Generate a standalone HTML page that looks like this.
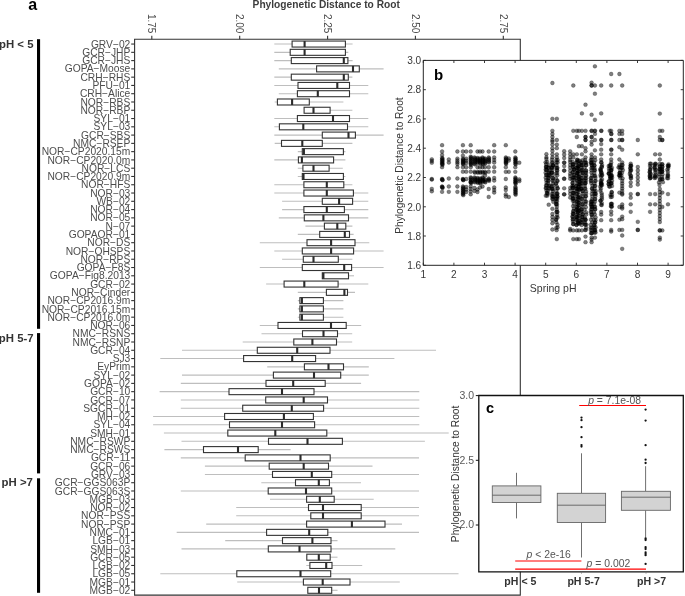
<!DOCTYPE html>
<html><head><meta charset="utf-8"><style>
html,body{margin:0;padding:0;background:#fff;}
body{width:685px;height:596px;overflow:hidden;position:relative;}
svg{position:absolute;left:0;top:0;display:block;will-change:transform;}
text{font-family:"Liberation Sans",sans-serif;}
</style></head><body>
<svg width="685" height="596" viewBox="0 0 685 596">
<g id="pa">
<text x="252.6" y="8" font-weight="bold" font-size="10.1" fill="#3d3d3d" textLength="147.3" lengthAdjust="spacingAndGlyphs">Phylogenetic Distance to Root</text>
<text x="28.2" y="10.2" font-weight="bold" font-size="16" fill="#000">a</text>
<line x1="274.3" y1="44.05" x2="352.6" y2="44.05" stroke="#bebebe" stroke-width="1.1"/>
<line x1="274.3" y1="52.33" x2="348.3" y2="52.33" stroke="#bebebe" stroke-width="1.1"/>
<line x1="274.3" y1="60.60" x2="352.6" y2="60.60" stroke="#bebebe" stroke-width="1.1"/>
<line x1="278.8" y1="68.88" x2="383.6" y2="68.88" stroke="#bebebe" stroke-width="1.1"/>
<line x1="274.3" y1="77.16" x2="352.4" y2="77.16" stroke="#bebebe" stroke-width="1.1"/>
<line x1="274.3" y1="85.43" x2="368.3" y2="85.43" stroke="#bebebe" stroke-width="1.1"/>
<line x1="278.8" y1="93.71" x2="368.3" y2="93.71" stroke="#bebebe" stroke-width="1.1"/>
<line x1="274.7" y1="101.99" x2="343.4" y2="101.99" stroke="#bebebe" stroke-width="1.1"/>
<line x1="304.1" y1="110.26" x2="352.4" y2="110.26" stroke="#bebebe" stroke-width="1.1"/>
<line x1="274.3" y1="118.54" x2="368.3" y2="118.54" stroke="#bebebe" stroke-width="1.1"/>
<line x1="274.3" y1="126.82" x2="368.3" y2="126.82" stroke="#bebebe" stroke-width="1.1"/>
<line x1="274.3" y1="135.09" x2="383.6" y2="135.09" stroke="#bebebe" stroke-width="1.1"/>
<line x1="274.7" y1="143.37" x2="352.4" y2="143.37" stroke="#bebebe" stroke-width="1.1"/>
<line x1="297.8" y1="151.64" x2="345.4" y2="151.64" stroke="#bebebe" stroke-width="1.1"/>
<line x1="274.3" y1="159.92" x2="345.4" y2="159.92" stroke="#bebebe" stroke-width="1.1"/>
<line x1="297.8" y1="168.20" x2="342.8" y2="168.20" stroke="#bebebe" stroke-width="1.1"/>
<line x1="297.8" y1="176.47" x2="345.4" y2="176.47" stroke="#bebebe" stroke-width="1.1"/>
<line x1="274.3" y1="184.75" x2="352.4" y2="184.75" stroke="#bebebe" stroke-width="1.1"/>
<line x1="274.3" y1="193.03" x2="368.3" y2="193.03" stroke="#bebebe" stroke-width="1.1"/>
<line x1="282.1" y1="201.30" x2="368.3" y2="201.30" stroke="#bebebe" stroke-width="1.1"/>
<line x1="282.1" y1="209.58" x2="368.3" y2="209.58" stroke="#bebebe" stroke-width="1.1"/>
<line x1="278.8" y1="217.86" x2="368.3" y2="217.86" stroke="#bebebe" stroke-width="1.1"/>
<line x1="305.4" y1="226.13" x2="352.4" y2="226.13" stroke="#bebebe" stroke-width="1.1"/>
<line x1="297.8" y1="234.41" x2="353.6" y2="234.41" stroke="#bebebe" stroke-width="1.1"/>
<line x1="259.8" y1="242.69" x2="369.3" y2="242.69" stroke="#bebebe" stroke-width="1.1"/>
<line x1="274.3" y1="250.96" x2="383.6" y2="250.96" stroke="#bebebe" stroke-width="1.1"/>
<line x1="282.1" y1="259.24" x2="352.4" y2="259.24" stroke="#bebebe" stroke-width="1.1"/>
<line x1="259.8" y1="267.52" x2="383.6" y2="267.52" stroke="#bebebe" stroke-width="1.1"/>
<line x1="322.3" y1="275.79" x2="354.0" y2="275.79" stroke="#bebebe" stroke-width="1.1"/>
<line x1="266.1" y1="284.07" x2="368.3" y2="284.07" stroke="#bebebe" stroke-width="1.1"/>
<line x1="297.8" y1="292.35" x2="355.0" y2="292.35" stroke="#bebebe" stroke-width="1.1"/>
<line x1="297.8" y1="300.62" x2="343.4" y2="300.62" stroke="#bebebe" stroke-width="1.1"/>
<line x1="297.8" y1="308.90" x2="343.4" y2="308.90" stroke="#bebebe" stroke-width="1.1"/>
<line x1="297.8" y1="317.18" x2="343.4" y2="317.18" stroke="#bebebe" stroke-width="1.1"/>
<line x1="259.8" y1="325.45" x2="361.2" y2="325.45" stroke="#bebebe" stroke-width="1.1"/>
<line x1="261.5" y1="333.73" x2="352.2" y2="333.73" stroke="#bebebe" stroke-width="1.1"/>
<line x1="242.7" y1="342.00" x2="352.2" y2="342.00" stroke="#bebebe" stroke-width="1.1"/>
<line x1="182.0" y1="350.28" x2="436.0" y2="350.28" stroke="#bebebe" stroke-width="1.1"/>
<line x1="160.3" y1="358.56" x2="394.4" y2="358.56" stroke="#bebebe" stroke-width="1.1"/>
<line x1="267.2" y1="366.83" x2="368.8" y2="366.83" stroke="#bebebe" stroke-width="1.1"/>
<line x1="182.0" y1="375.11" x2="368.8" y2="375.11" stroke="#bebebe" stroke-width="1.1"/>
<line x1="180.8" y1="383.39" x2="361.1" y2="383.39" stroke="#bebebe" stroke-width="1.1"/>
<line x1="159.6" y1="391.66" x2="419.3" y2="391.66" stroke="#bebebe" stroke-width="1.1"/>
<line x1="180.8" y1="399.94" x2="419.3" y2="399.94" stroke="#bebebe" stroke-width="1.1"/>
<line x1="180.8" y1="408.22" x2="419.3" y2="408.22" stroke="#bebebe" stroke-width="1.1"/>
<line x1="153.1" y1="416.49" x2="419.3" y2="416.49" stroke="#bebebe" stroke-width="1.1"/>
<line x1="153.1" y1="424.77" x2="419.3" y2="424.77" stroke="#bebebe" stroke-width="1.1"/>
<line x1="163.9" y1="433.05" x2="448.7" y2="433.05" stroke="#bebebe" stroke-width="1.1"/>
<line x1="181.5" y1="441.32" x2="424.9" y2="441.32" stroke="#bebebe" stroke-width="1.1"/>
<line x1="164.4" y1="449.60" x2="290.6" y2="449.60" stroke="#bebebe" stroke-width="1.1"/>
<line x1="180.8" y1="457.88" x2="419.0" y2="457.88" stroke="#bebebe" stroke-width="1.1"/>
<line x1="204.9" y1="466.15" x2="372.5" y2="466.15" stroke="#bebebe" stroke-width="1.1"/>
<line x1="204.9" y1="474.43" x2="419.0" y2="474.43" stroke="#bebebe" stroke-width="1.1"/>
<line x1="261.3" y1="482.71" x2="361.0" y2="482.71" stroke="#bebebe" stroke-width="1.1"/>
<line x1="180.8" y1="490.98" x2="419.0" y2="490.98" stroke="#bebebe" stroke-width="1.1"/>
<line x1="270.0" y1="499.26" x2="373.7" y2="499.26" stroke="#bebebe" stroke-width="1.1"/>
<line x1="236.2" y1="507.53" x2="419.0" y2="507.53" stroke="#bebebe" stroke-width="1.1"/>
<line x1="236.2" y1="515.81" x2="419.0" y2="515.81" stroke="#bebebe" stroke-width="1.1"/>
<line x1="206.2" y1="524.09" x2="402.0" y2="524.09" stroke="#bebebe" stroke-width="1.1"/>
<line x1="176.7" y1="532.36" x2="419.0" y2="532.36" stroke="#bebebe" stroke-width="1.1"/>
<line x1="225.2" y1="540.64" x2="337.5" y2="540.64" stroke="#bebebe" stroke-width="1.1"/>
<line x1="181.5" y1="548.92" x2="395.3" y2="548.92" stroke="#bebebe" stroke-width="1.1"/>
<line x1="306.7" y1="557.19" x2="337.5" y2="557.19" stroke="#bebebe" stroke-width="1.1"/>
<line x1="306.3" y1="565.47" x2="362.2" y2="565.47" stroke="#bebebe" stroke-width="1.1"/>
<line x1="160.3" y1="573.75" x2="458.5" y2="573.75" stroke="#bebebe" stroke-width="1.1"/>
<line x1="237.2" y1="582.02" x2="399.8" y2="582.02" stroke="#bebebe" stroke-width="1.1"/>
<line x1="307.6" y1="590.30" x2="337.5" y2="590.30" stroke="#bebebe" stroke-width="1.1"/>
<rect x="292.1" y="41.05" width="53.3" height="6.0" fill="#fff" stroke="#333" stroke-width="1.1"/>
<line x1="304.6" y1="41.05" x2="304.6" y2="47.05" stroke="#2b2b2b" stroke-width="2.1"/>
<rect x="290.2" y="49.33" width="55.2" height="6.0" fill="#fff" stroke="#333" stroke-width="1.1"/>
<line x1="304.6" y1="49.33" x2="304.6" y2="55.33" stroke="#2b2b2b" stroke-width="2.1"/>
<rect x="291.3" y="57.60" width="56.6" height="6.0" fill="#fff" stroke="#333" stroke-width="1.1"/>
<line x1="343.8" y1="57.60" x2="343.8" y2="63.60" stroke="#2b2b2b" stroke-width="2.1"/>
<rect x="316.6" y="65.88" width="42.7" height="6.0" fill="#fff" stroke="#333" stroke-width="1.1"/>
<line x1="353.0" y1="65.88" x2="353.0" y2="71.88" stroke="#2b2b2b" stroke-width="2.1"/>
<rect x="291.3" y="74.16" width="57.0" height="6.0" fill="#fff" stroke="#333" stroke-width="1.1"/>
<line x1="343.8" y1="74.16" x2="343.8" y2="80.16" stroke="#2b2b2b" stroke-width="2.1"/>
<rect x="298.0" y="82.43" width="51.5" height="6.0" fill="#fff" stroke="#333" stroke-width="1.1"/>
<line x1="337.3" y1="82.43" x2="337.3" y2="88.43" stroke="#2b2b2b" stroke-width="2.1"/>
<rect x="297.4" y="90.71" width="52.1" height="6.0" fill="#fff" stroke="#333" stroke-width="1.1"/>
<line x1="317.8" y1="90.71" x2="317.8" y2="96.71" stroke="#2b2b2b" stroke-width="2.1"/>
<rect x="277.4" y="98.99" width="31.9" height="6.0" fill="#fff" stroke="#333" stroke-width="1.1"/>
<line x1="292.1" y1="98.99" x2="292.1" y2="104.99" stroke="#2b2b2b" stroke-width="2.1"/>
<rect x="304.1" y="107.26" width="26.0" height="6.0" fill="#fff" stroke="#333" stroke-width="1.1"/>
<line x1="313.5" y1="107.26" x2="313.5" y2="113.26" stroke="#2b2b2b" stroke-width="2.1"/>
<rect x="297.4" y="115.54" width="52.1" height="6.0" fill="#fff" stroke="#333" stroke-width="1.1"/>
<line x1="333.0" y1="115.54" x2="333.0" y2="121.54" stroke="#2b2b2b" stroke-width="2.1"/>
<rect x="279.4" y="123.82" width="68.1" height="6.0" fill="#fff" stroke="#333" stroke-width="1.1"/>
<line x1="303.3" y1="123.82" x2="303.3" y2="129.82" stroke="#2b2b2b" stroke-width="2.1"/>
<rect x="322.3" y="132.09" width="33.1" height="6.0" fill="#fff" stroke="#333" stroke-width="1.1"/>
<line x1="348.5" y1="132.09" x2="348.5" y2="138.09" stroke="#2b2b2b" stroke-width="2.1"/>
<rect x="281.5" y="140.37" width="40.8" height="6.0" fill="#fff" stroke="#333" stroke-width="1.1"/>
<line x1="302.3" y1="140.37" x2="302.3" y2="146.37" stroke="#2b2b2b" stroke-width="2.1"/>
<rect x="302.3" y="148.64" width="41.1" height="6.0" fill="#fff" stroke="#333" stroke-width="1.1"/>
<line x1="303.9" y1="148.64" x2="303.9" y2="154.64" stroke="#2b2b2b" stroke-width="2.1"/>
<rect x="298.4" y="156.92" width="35.2" height="6.0" fill="#fff" stroke="#333" stroke-width="1.1"/>
<line x1="301.9" y1="156.92" x2="301.9" y2="162.92" stroke="#2b2b2b" stroke-width="2.1"/>
<rect x="302.9" y="165.20" width="26.2" height="6.0" fill="#fff" stroke="#333" stroke-width="1.1"/>
<line x1="313.5" y1="165.20" x2="313.5" y2="171.20" stroke="#2b2b2b" stroke-width="2.1"/>
<rect x="302.3" y="173.47" width="41.1" height="6.0" fill="#fff" stroke="#333" stroke-width="1.1"/>
<line x1="303.5" y1="173.47" x2="303.5" y2="179.47" stroke="#2b2b2b" stroke-width="2.1"/>
<rect x="303.9" y="181.75" width="39.9" height="6.0" fill="#fff" stroke="#333" stroke-width="1.1"/>
<line x1="326.8" y1="181.75" x2="326.8" y2="187.75" stroke="#2b2b2b" stroke-width="2.1"/>
<rect x="303.9" y="190.03" width="49.5" height="6.0" fill="#fff" stroke="#333" stroke-width="1.1"/>
<line x1="326.8" y1="190.03" x2="326.8" y2="196.03" stroke="#2b2b2b" stroke-width="2.1"/>
<rect x="322.3" y="198.30" width="30.3" height="6.0" fill="#fff" stroke="#333" stroke-width="1.1"/>
<line x1="339.1" y1="198.30" x2="339.1" y2="204.30" stroke="#2b2b2b" stroke-width="2.1"/>
<rect x="303.9" y="206.58" width="40.5" height="6.0" fill="#fff" stroke="#333" stroke-width="1.1"/>
<line x1="326.8" y1="206.58" x2="326.8" y2="212.58" stroke="#2b2b2b" stroke-width="2.1"/>
<rect x="304.3" y="214.86" width="44.2" height="6.0" fill="#fff" stroke="#333" stroke-width="1.1"/>
<line x1="323.4" y1="214.86" x2="323.4" y2="220.86" stroke="#2b2b2b" stroke-width="2.1"/>
<rect x="324.4" y="223.13" width="21.4" height="6.0" fill="#fff" stroke="#333" stroke-width="1.1"/>
<line x1="337.3" y1="223.13" x2="337.3" y2="229.13" stroke="#2b2b2b" stroke-width="2.1"/>
<rect x="319.7" y="231.41" width="29.8" height="6.0" fill="#fff" stroke="#333" stroke-width="1.1"/>
<line x1="344.8" y1="231.41" x2="344.8" y2="237.41" stroke="#2b2b2b" stroke-width="2.1"/>
<rect x="307.0" y="239.69" width="48.0" height="6.0" fill="#fff" stroke="#333" stroke-width="1.1"/>
<line x1="331.1" y1="239.69" x2="331.1" y2="245.69" stroke="#2b2b2b" stroke-width="2.1"/>
<rect x="302.3" y="247.96" width="51.3" height="6.0" fill="#fff" stroke="#333" stroke-width="1.1"/>
<line x1="331.1" y1="247.96" x2="331.1" y2="253.96" stroke="#2b2b2b" stroke-width="2.1"/>
<rect x="303.3" y="256.24" width="35.0" height="6.0" fill="#fff" stroke="#333" stroke-width="1.1"/>
<line x1="313.5" y1="256.24" x2="313.5" y2="262.24" stroke="#2b2b2b" stroke-width="2.1"/>
<rect x="302.3" y="264.52" width="49.3" height="6.0" fill="#fff" stroke="#333" stroke-width="1.1"/>
<line x1="344.2" y1="264.52" x2="344.2" y2="270.52" stroke="#2b2b2b" stroke-width="2.1"/>
<rect x="322.3" y="272.79" width="26.2" height="6.0" fill="#fff" stroke="#333" stroke-width="1.1"/>
<line x1="323.4" y1="272.79" x2="323.4" y2="278.79" stroke="#2b2b2b" stroke-width="2.1"/>
<rect x="284.1" y="281.07" width="54.0" height="6.0" fill="#fff" stroke="#333" stroke-width="1.1"/>
<line x1="304.3" y1="281.07" x2="304.3" y2="287.07" stroke="#2b2b2b" stroke-width="2.1"/>
<rect x="326.4" y="289.35" width="21.1" height="6.0" fill="#fff" stroke="#333" stroke-width="1.1"/>
<line x1="344.4" y1="289.35" x2="344.4" y2="295.35" stroke="#2b2b2b" stroke-width="2.1"/>
<rect x="299.9" y="297.62" width="23.5" height="6.0" fill="#fff" stroke="#333" stroke-width="1.1"/>
<line x1="301.9" y1="297.62" x2="301.9" y2="303.62" stroke="#2b2b2b" stroke-width="2.1"/>
<rect x="299.9" y="305.90" width="23.5" height="6.0" fill="#fff" stroke="#333" stroke-width="1.1"/>
<line x1="301.9" y1="305.90" x2="301.9" y2="311.90" stroke="#2b2b2b" stroke-width="2.1"/>
<rect x="299.9" y="314.18" width="23.5" height="6.0" fill="#fff" stroke="#333" stroke-width="1.1"/>
<line x1="301.9" y1="314.18" x2="301.9" y2="320.18" stroke="#2b2b2b" stroke-width="2.1"/>
<rect x="278.0" y="322.45" width="68.2" height="6.0" fill="#fff" stroke="#333" stroke-width="1.1"/>
<line x1="331.0" y1="322.45" x2="331.0" y2="328.45" stroke="#2b2b2b" stroke-width="2.1"/>
<rect x="302.5" y="330.73" width="35.0" height="6.0" fill="#fff" stroke="#333" stroke-width="1.1"/>
<line x1="323.5" y1="330.73" x2="323.5" y2="336.73" stroke="#2b2b2b" stroke-width="2.1"/>
<rect x="293.8" y="339.00" width="42.7" height="6.0" fill="#fff" stroke="#333" stroke-width="1.1"/>
<line x1="312.4" y1="339.00" x2="312.4" y2="345.00" stroke="#2b2b2b" stroke-width="2.1"/>
<rect x="257.3" y="347.28" width="72.7" height="6.0" fill="#fff" stroke="#333" stroke-width="1.1"/>
<line x1="297.2" y1="347.28" x2="297.2" y2="353.28" stroke="#2b2b2b" stroke-width="2.1"/>
<rect x="243.6" y="355.56" width="72.0" height="6.0" fill="#fff" stroke="#333" stroke-width="1.1"/>
<line x1="292.2" y1="355.56" x2="292.2" y2="361.56" stroke="#2b2b2b" stroke-width="2.1"/>
<rect x="304.4" y="363.83" width="39.1" height="6.0" fill="#fff" stroke="#333" stroke-width="1.1"/>
<line x1="328.5" y1="363.83" x2="328.5" y2="369.83" stroke="#2b2b2b" stroke-width="2.1"/>
<rect x="273.4" y="372.11" width="67.3" height="6.0" fill="#fff" stroke="#333" stroke-width="1.1"/>
<line x1="314.0" y1="372.11" x2="314.0" y2="378.11" stroke="#2b2b2b" stroke-width="2.1"/>
<rect x="266.0" y="380.39" width="59.2" height="6.0" fill="#fff" stroke="#333" stroke-width="1.1"/>
<line x1="293.2" y1="380.39" x2="293.2" y2="386.39" stroke="#2b2b2b" stroke-width="2.1"/>
<rect x="229.0" y="388.66" width="85.0" height="6.0" fill="#fff" stroke="#333" stroke-width="1.1"/>
<line x1="282.0" y1="388.66" x2="282.0" y2="394.66" stroke="#2b2b2b" stroke-width="2.1"/>
<rect x="265.7" y="396.94" width="61.8" height="6.0" fill="#fff" stroke="#333" stroke-width="1.1"/>
<line x1="303.7" y1="396.94" x2="303.7" y2="402.94" stroke="#2b2b2b" stroke-width="2.1"/>
<rect x="242.7" y="405.22" width="80.9" height="6.0" fill="#fff" stroke="#333" stroke-width="1.1"/>
<line x1="291.8" y1="405.22" x2="291.8" y2="411.22" stroke="#2b2b2b" stroke-width="2.1"/>
<rect x="224.6" y="413.49" width="88.8" height="6.0" fill="#fff" stroke="#333" stroke-width="1.1"/>
<line x1="283.9" y1="413.49" x2="283.9" y2="419.49" stroke="#2b2b2b" stroke-width="2.1"/>
<rect x="229.5" y="421.77" width="85.1" height="6.0" fill="#fff" stroke="#333" stroke-width="1.1"/>
<line x1="282.0" y1="421.77" x2="282.0" y2="427.77" stroke="#2b2b2b" stroke-width="2.1"/>
<rect x="227.8" y="430.05" width="99.0" height="6.0" fill="#fff" stroke="#333" stroke-width="1.1"/>
<line x1="275.3" y1="430.05" x2="275.3" y2="436.05" stroke="#2b2b2b" stroke-width="2.1"/>
<rect x="268.5" y="438.32" width="73.9" height="6.0" fill="#fff" stroke="#333" stroke-width="1.1"/>
<line x1="307.5" y1="438.32" x2="307.5" y2="444.32" stroke="#2b2b2b" stroke-width="2.1"/>
<rect x="203.5" y="446.60" width="54.7" height="6.0" fill="#fff" stroke="#333" stroke-width="1.1"/>
<line x1="238.0" y1="446.60" x2="238.0" y2="452.60" stroke="#2b2b2b" stroke-width="2.1"/>
<rect x="245.2" y="454.88" width="85.0" height="6.0" fill="#fff" stroke="#333" stroke-width="1.1"/>
<line x1="300.5" y1="454.88" x2="300.5" y2="460.88" stroke="#2b2b2b" stroke-width="2.1"/>
<rect x="269.2" y="463.15" width="59.3" height="6.0" fill="#fff" stroke="#333" stroke-width="1.1"/>
<line x1="303.7" y1="463.15" x2="303.7" y2="469.15" stroke="#2b2b2b" stroke-width="2.1"/>
<rect x="272.5" y="471.43" width="59.2" height="6.0" fill="#fff" stroke="#333" stroke-width="1.1"/>
<line x1="311.8" y1="471.43" x2="311.8" y2="477.43" stroke="#2b2b2b" stroke-width="2.1"/>
<rect x="295.5" y="479.71" width="33.9" height="6.0" fill="#fff" stroke="#333" stroke-width="1.1"/>
<line x1="318.8" y1="479.71" x2="318.8" y2="485.71" stroke="#2b2b2b" stroke-width="2.1"/>
<rect x="268.2" y="487.98" width="63.5" height="6.0" fill="#fff" stroke="#333" stroke-width="1.1"/>
<line x1="306.0" y1="487.98" x2="306.0" y2="493.98" stroke="#2b2b2b" stroke-width="2.1"/>
<rect x="306.6" y="496.26" width="27.6" height="6.0" fill="#fff" stroke="#333" stroke-width="1.1"/>
<line x1="319.8" y1="496.26" x2="319.8" y2="502.26" stroke="#2b2b2b" stroke-width="2.1"/>
<rect x="308.5" y="504.53" width="52.7" height="6.0" fill="#fff" stroke="#333" stroke-width="1.1"/>
<line x1="323.0" y1="504.53" x2="323.0" y2="510.53" stroke="#2b2b2b" stroke-width="2.1"/>
<rect x="310.8" y="512.81" width="50.4" height="6.0" fill="#fff" stroke="#333" stroke-width="1.1"/>
<line x1="323.0" y1="512.81" x2="323.0" y2="518.81" stroke="#2b2b2b" stroke-width="2.1"/>
<rect x="306.6" y="521.09" width="78.4" height="6.0" fill="#fff" stroke="#333" stroke-width="1.1"/>
<line x1="351.9" y1="521.09" x2="351.9" y2="527.09" stroke="#2b2b2b" stroke-width="2.1"/>
<rect x="266.6" y="529.36" width="61.2" height="6.0" fill="#fff" stroke="#333" stroke-width="1.1"/>
<line x1="309.2" y1="529.36" x2="309.2" y2="535.36" stroke="#2b2b2b" stroke-width="2.1"/>
<rect x="282.5" y="537.64" width="48.5" height="6.0" fill="#fff" stroke="#333" stroke-width="1.1"/>
<line x1="312.4" y1="537.64" x2="312.4" y2="543.64" stroke="#2b2b2b" stroke-width="2.1"/>
<rect x="268.3" y="545.92" width="62.7" height="6.0" fill="#fff" stroke="#333" stroke-width="1.1"/>
<line x1="299.5" y1="545.92" x2="299.5" y2="551.92" stroke="#2b2b2b" stroke-width="2.1"/>
<rect x="306.8" y="554.19" width="23.4" height="6.0" fill="#fff" stroke="#333" stroke-width="1.1"/>
<line x1="318.8" y1="554.19" x2="318.8" y2="560.19" stroke="#2b2b2b" stroke-width="2.1"/>
<rect x="309.9" y="562.47" width="22.1" height="6.0" fill="#fff" stroke="#333" stroke-width="1.1"/>
<line x1="326.2" y1="562.47" x2="326.2" y2="568.47" stroke="#2b2b2b" stroke-width="2.1"/>
<rect x="236.8" y="570.75" width="93.9" height="6.0" fill="#fff" stroke="#333" stroke-width="1.1"/>
<line x1="300.5" y1="570.75" x2="300.5" y2="576.75" stroke="#2b2b2b" stroke-width="2.1"/>
<rect x="303.4" y="579.02" width="46.6" height="6.0" fill="#fff" stroke="#333" stroke-width="1.1"/>
<line x1="322.7" y1="579.02" x2="322.7" y2="585.02" stroke="#2b2b2b" stroke-width="2.1"/>
<rect x="307.8" y="587.30" width="23.9" height="6.0" fill="#fff" stroke="#333" stroke-width="1.1"/>
<line x1="319.0" y1="587.30" x2="319.0" y2="593.30" stroke="#2b2b2b" stroke-width="2.1"/>
<rect x="134.6" y="39.2" width="385.6" height="355.3" fill="none"/>
<path d="M134.6 39.2 H520.3 V595.1 H134.6 Z" fill="none" stroke="#333" stroke-width="1.1"/>
<line x1="131.2" y1="44.05" x2="134.6" y2="44.05" stroke="#333" stroke-width="1.1"/>
<text x="130.3" y="47.65" font-size="10.25" fill="#4d4d4d" text-anchor="end">GRV−02</text>
<line x1="131.2" y1="52.33" x2="134.6" y2="52.33" stroke="#333" stroke-width="1.1"/>
<text x="130.3" y="55.93" font-size="10.25" fill="#4d4d4d" text-anchor="end">GCR−JHP</text>
<line x1="131.2" y1="60.60" x2="134.6" y2="60.60" stroke="#333" stroke-width="1.1"/>
<text x="130.3" y="64.20" font-size="10.25" fill="#4d4d4d" text-anchor="end">GCR−JHS</text>
<line x1="131.2" y1="68.88" x2="134.6" y2="68.88" stroke="#333" stroke-width="1.1"/>
<text x="130.3" y="72.48" font-size="10.25" fill="#4d4d4d" text-anchor="end">GOPA−Moose</text>
<line x1="131.2" y1="77.16" x2="134.6" y2="77.16" stroke="#333" stroke-width="1.1"/>
<text x="130.3" y="80.76" font-size="10.25" fill="#4d4d4d" text-anchor="end">CRH−RHS</text>
<line x1="131.2" y1="85.43" x2="134.6" y2="85.43" stroke="#333" stroke-width="1.1"/>
<text x="130.3" y="89.03" font-size="10.25" fill="#4d4d4d" text-anchor="end">PFU−01</text>
<line x1="131.2" y1="93.71" x2="134.6" y2="93.71" stroke="#333" stroke-width="1.1"/>
<text x="130.3" y="97.31" font-size="10.25" fill="#4d4d4d" text-anchor="end">CRH−Alice</text>
<line x1="131.2" y1="101.99" x2="134.6" y2="101.99" stroke="#333" stroke-width="1.1"/>
<text x="130.3" y="105.59" font-size="10.25" fill="#4d4d4d" text-anchor="end">NOR−RBS</text>
<line x1="131.2" y1="110.26" x2="134.6" y2="110.26" stroke="#333" stroke-width="1.1"/>
<text x="130.3" y="113.86" font-size="10.25" fill="#4d4d4d" text-anchor="end">NOR−RBP</text>
<line x1="131.2" y1="118.54" x2="134.6" y2="118.54" stroke="#333" stroke-width="1.1"/>
<text x="130.3" y="122.14" font-size="10.25" fill="#4d4d4d" text-anchor="end">SYL−01</text>
<line x1="131.2" y1="126.82" x2="134.6" y2="126.82" stroke="#333" stroke-width="1.1"/>
<text x="130.3" y="130.42" font-size="10.25" fill="#4d4d4d" text-anchor="end">SYL−03</text>
<line x1="131.2" y1="135.09" x2="134.6" y2="135.09" stroke="#333" stroke-width="1.1"/>
<text x="130.3" y="138.69" font-size="10.25" fill="#4d4d4d" text-anchor="end">GCR−SBS</text>
<line x1="131.2" y1="143.37" x2="134.6" y2="143.37" stroke="#333" stroke-width="1.1"/>
<text x="130.3" y="146.97" font-size="10.25" fill="#4d4d4d" text-anchor="end">NMC−RSEP</text>
<line x1="131.2" y1="151.64" x2="134.6" y2="151.64" stroke="#333" stroke-width="1.1"/>
<text x="130.3" y="155.24" font-size="10.25" fill="#4d4d4d" text-anchor="end">NOR−CP2020.15m</text>
<line x1="131.2" y1="159.92" x2="134.6" y2="159.92" stroke="#333" stroke-width="1.1"/>
<text x="130.3" y="163.52" font-size="10.25" fill="#4d4d4d" text-anchor="end">NOR−CP2020.0m</text>
<line x1="131.2" y1="168.20" x2="134.6" y2="168.20" stroke="#333" stroke-width="1.1"/>
<text x="130.3" y="171.80" font-size="10.25" fill="#4d4d4d" text-anchor="end">NOR−LCS</text>
<line x1="131.2" y1="176.47" x2="134.6" y2="176.47" stroke="#333" stroke-width="1.1"/>
<text x="130.3" y="180.07" font-size="10.25" fill="#4d4d4d" text-anchor="end">NOR−CP2020.9m</text>
<line x1="131.2" y1="184.75" x2="134.6" y2="184.75" stroke="#333" stroke-width="1.1"/>
<text x="130.3" y="188.35" font-size="10.25" fill="#4d4d4d" text-anchor="end">NOR−HFS</text>
<line x1="131.2" y1="193.03" x2="134.6" y2="193.03" stroke="#333" stroke-width="1.1"/>
<text x="130.3" y="196.63" font-size="10.25" fill="#4d4d4d" text-anchor="end">NOR−03</text>
<line x1="131.2" y1="201.30" x2="134.6" y2="201.30" stroke="#333" stroke-width="1.1"/>
<text x="130.3" y="204.90" font-size="10.25" fill="#4d4d4d" text-anchor="end">WB−02</text>
<line x1="131.2" y1="209.58" x2="134.6" y2="209.58" stroke="#333" stroke-width="1.1"/>
<text x="130.3" y="213.18" font-size="10.25" fill="#4d4d4d" text-anchor="end">NOR−04</text>
<line x1="131.2" y1="217.86" x2="134.6" y2="217.86" stroke="#333" stroke-width="1.1"/>
<text x="130.3" y="221.46" font-size="10.25" fill="#4d4d4d" text-anchor="end">NOR−05</text>
<line x1="131.2" y1="226.13" x2="134.6" y2="226.13" stroke="#333" stroke-width="1.1"/>
<text x="130.3" y="229.73" font-size="10.25" fill="#4d4d4d" text-anchor="end">N−07</text>
<line x1="131.2" y1="234.41" x2="134.6" y2="234.41" stroke="#333" stroke-width="1.1"/>
<text x="130.3" y="238.01" font-size="10.25" fill="#4d4d4d" text-anchor="end">GOPAOR−01</text>
<line x1="131.2" y1="242.69" x2="134.6" y2="242.69" stroke="#333" stroke-width="1.1"/>
<text x="130.3" y="246.29" font-size="10.25" fill="#4d4d4d" text-anchor="end">NOR−DS</text>
<line x1="131.2" y1="250.96" x2="134.6" y2="250.96" stroke="#333" stroke-width="1.1"/>
<text x="130.3" y="254.56" font-size="10.25" fill="#4d4d4d" text-anchor="end">NOR−OHSPS</text>
<line x1="131.2" y1="259.24" x2="134.6" y2="259.24" stroke="#333" stroke-width="1.1"/>
<text x="130.3" y="262.84" font-size="10.25" fill="#4d4d4d" text-anchor="end">NOR−RPS</text>
<line x1="131.2" y1="267.52" x2="134.6" y2="267.52" stroke="#333" stroke-width="1.1"/>
<text x="130.3" y="271.12" font-size="10.25" fill="#4d4d4d" text-anchor="end">GOPA−F8S</text>
<line x1="131.2" y1="275.79" x2="134.6" y2="275.79" stroke="#333" stroke-width="1.1"/>
<text x="130.3" y="279.39" font-size="10.25" fill="#4d4d4d" text-anchor="end">GOPA−Fig8.2013</text>
<line x1="131.2" y1="284.07" x2="134.6" y2="284.07" stroke="#333" stroke-width="1.1"/>
<text x="130.3" y="287.67" font-size="10.25" fill="#4d4d4d" text-anchor="end">GCR−02</text>
<line x1="131.2" y1="292.35" x2="134.6" y2="292.35" stroke="#333" stroke-width="1.1"/>
<text x="130.3" y="295.95" font-size="10.25" fill="#4d4d4d" text-anchor="end">NOR−Cinder</text>
<line x1="131.2" y1="300.62" x2="134.6" y2="300.62" stroke="#333" stroke-width="1.1"/>
<text x="130.3" y="304.22" font-size="10.25" fill="#4d4d4d" text-anchor="end">NOR−CP2016.9m</text>
<line x1="131.2" y1="308.90" x2="134.6" y2="308.90" stroke="#333" stroke-width="1.1"/>
<text x="130.3" y="312.50" font-size="10.25" fill="#4d4d4d" text-anchor="end">NOR−CP2016.15m</text>
<line x1="131.2" y1="317.18" x2="134.6" y2="317.18" stroke="#333" stroke-width="1.1"/>
<text x="130.3" y="320.78" font-size="10.25" fill="#4d4d4d" text-anchor="end">NOR−CP2016.0m</text>
<line x1="131.2" y1="325.45" x2="134.6" y2="325.45" stroke="#333" stroke-width="1.1"/>
<text x="130.3" y="329.05" font-size="10.25" fill="#4d4d4d" text-anchor="end">NOR−06</text>
<line x1="131.2" y1="333.73" x2="134.6" y2="333.73" stroke="#333" stroke-width="1.1"/>
<text x="130.3" y="337.33" font-size="10.25" fill="#4d4d4d" text-anchor="end">NMC−RSNS</text>
<line x1="131.2" y1="342.00" x2="134.6" y2="342.00" stroke="#333" stroke-width="1.1"/>
<text x="130.3" y="345.60" font-size="10.25" fill="#4d4d4d" text-anchor="end">NMC−RSNP</text>
<line x1="131.2" y1="350.28" x2="134.6" y2="350.28" stroke="#333" stroke-width="1.1"/>
<text x="130.3" y="353.88" font-size="10.25" fill="#4d4d4d" text-anchor="end">GCR−04</text>
<line x1="131.2" y1="358.56" x2="134.6" y2="358.56" stroke="#333" stroke-width="1.1"/>
<text x="130.3" y="362.16" font-size="10.25" fill="#4d4d4d" text-anchor="end">SJ3</text>
<line x1="131.2" y1="366.83" x2="134.6" y2="366.83" stroke="#333" stroke-width="1.1"/>
<text x="130.3" y="370.43" font-size="10.25" fill="#4d4d4d" text-anchor="end">EyPrim</text>
<line x1="131.2" y1="375.11" x2="134.6" y2="375.11" stroke="#333" stroke-width="1.1"/>
<text x="130.3" y="378.71" font-size="10.25" fill="#4d4d4d" text-anchor="end">SYL−02</text>
<line x1="131.2" y1="383.39" x2="134.6" y2="383.39" stroke="#333" stroke-width="1.1"/>
<text x="130.3" y="386.99" font-size="10.25" fill="#4d4d4d" text-anchor="end">GOPA−02</text>
<line x1="131.2" y1="391.66" x2="134.6" y2="391.66" stroke="#333" stroke-width="1.1"/>
<text x="130.3" y="395.26" font-size="10.25" fill="#4d4d4d" text-anchor="end">GCR−10</text>
<line x1="131.2" y1="399.94" x2="134.6" y2="399.94" stroke="#333" stroke-width="1.1"/>
<text x="130.3" y="403.54" font-size="10.25" fill="#4d4d4d" text-anchor="end">GCR−07</text>
<line x1="131.2" y1="408.22" x2="134.6" y2="408.22" stroke="#333" stroke-width="1.1"/>
<text x="130.3" y="411.82" font-size="10.25" fill="#4d4d4d" text-anchor="end">SGCR−01</text>
<line x1="131.2" y1="416.49" x2="134.6" y2="416.49" stroke="#333" stroke-width="1.1"/>
<text x="130.3" y="420.09" font-size="10.25" fill="#4d4d4d" text-anchor="end">MH−02</text>
<line x1="131.2" y1="424.77" x2="134.6" y2="424.77" stroke="#333" stroke-width="1.1"/>
<text x="130.3" y="428.37" font-size="10.25" fill="#4d4d4d" text-anchor="end">SYL−04</text>
<line x1="131.2" y1="433.05" x2="134.6" y2="433.05" stroke="#333" stroke-width="1.1"/>
<text x="130.3" y="436.65" font-size="10.25" fill="#4d4d4d" text-anchor="end">SMH−01</text>
<line x1="131.2" y1="441.32" x2="134.6" y2="441.32" stroke="#333" stroke-width="1.1"/>
<text x="130.3" y="444.92" font-size="10.25" fill="#4d4d4d" text-anchor="end">NMC−RSWP</text>
<line x1="131.2" y1="449.60" x2="134.6" y2="449.60" stroke="#333" stroke-width="1.1"/>
<text x="130.3" y="453.20" font-size="10.25" fill="#4d4d4d" text-anchor="end">NMC−RSWS</text>
<line x1="131.2" y1="457.88" x2="134.6" y2="457.88" stroke="#333" stroke-width="1.1"/>
<text x="130.3" y="461.48" font-size="10.25" fill="#4d4d4d" text-anchor="end">GCR−11</text>
<line x1="131.2" y1="466.15" x2="134.6" y2="466.15" stroke="#333" stroke-width="1.1"/>
<text x="130.3" y="469.75" font-size="10.25" fill="#4d4d4d" text-anchor="end">GCR−06</text>
<line x1="131.2" y1="474.43" x2="134.6" y2="474.43" stroke="#333" stroke-width="1.1"/>
<text x="130.3" y="478.03" font-size="10.25" fill="#4d4d4d" text-anchor="end">GRV−03</text>
<line x1="131.2" y1="482.71" x2="134.6" y2="482.71" stroke="#333" stroke-width="1.1"/>
<text x="130.3" y="486.31" font-size="10.25" fill="#4d4d4d" text-anchor="end">GCR−GGS063P</text>
<line x1="131.2" y1="490.98" x2="134.6" y2="490.98" stroke="#333" stroke-width="1.1"/>
<text x="130.3" y="494.58" font-size="10.25" fill="#4d4d4d" text-anchor="end">GCR−GGS063S</text>
<line x1="131.2" y1="499.26" x2="134.6" y2="499.26" stroke="#333" stroke-width="1.1"/>
<text x="130.3" y="502.86" font-size="10.25" fill="#4d4d4d" text-anchor="end">MGB−03</text>
<line x1="131.2" y1="507.53" x2="134.6" y2="507.53" stroke="#333" stroke-width="1.1"/>
<text x="130.3" y="511.13" font-size="10.25" fill="#4d4d4d" text-anchor="end">NOR−02</text>
<line x1="131.2" y1="515.81" x2="134.6" y2="515.81" stroke="#333" stroke-width="1.1"/>
<text x="130.3" y="519.41" font-size="10.25" fill="#4d4d4d" text-anchor="end">NOR−PSS</text>
<line x1="131.2" y1="524.09" x2="134.6" y2="524.09" stroke="#333" stroke-width="1.1"/>
<text x="130.3" y="527.69" font-size="10.25" fill="#4d4d4d" text-anchor="end">NOR−PSP</text>
<line x1="131.2" y1="532.36" x2="134.6" y2="532.36" stroke="#333" stroke-width="1.1"/>
<text x="130.3" y="535.96" font-size="10.25" fill="#4d4d4d" text-anchor="end">NMC−01</text>
<line x1="131.2" y1="540.64" x2="134.6" y2="540.64" stroke="#333" stroke-width="1.1"/>
<text x="130.3" y="544.24" font-size="10.25" fill="#4d4d4d" text-anchor="end">LGB−01</text>
<line x1="131.2" y1="548.92" x2="134.6" y2="548.92" stroke="#333" stroke-width="1.1"/>
<text x="130.3" y="552.52" font-size="10.25" fill="#4d4d4d" text-anchor="end">SMH−03</text>
<line x1="131.2" y1="557.19" x2="134.6" y2="557.19" stroke="#333" stroke-width="1.1"/>
<text x="130.3" y="560.79" font-size="10.25" fill="#4d4d4d" text-anchor="end">GCR−05</text>
<line x1="131.2" y1="565.47" x2="134.6" y2="565.47" stroke="#333" stroke-width="1.1"/>
<text x="130.3" y="569.07" font-size="10.25" fill="#4d4d4d" text-anchor="end">LGB−02</text>
<line x1="131.2" y1="573.75" x2="134.6" y2="573.75" stroke="#333" stroke-width="1.1"/>
<text x="130.3" y="577.35" font-size="10.25" fill="#4d4d4d" text-anchor="end">LGB−05</text>
<line x1="131.2" y1="582.02" x2="134.6" y2="582.02" stroke="#333" stroke-width="1.1"/>
<text x="130.3" y="585.62" font-size="10.25" fill="#4d4d4d" text-anchor="end">MGB−01</text>
<line x1="131.2" y1="590.30" x2="134.6" y2="590.30" stroke="#333" stroke-width="1.1"/>
<text x="130.3" y="593.90" font-size="10.25" fill="#4d4d4d" text-anchor="end">MGB−02</text>
<line x1="151.8" y1="35.8" x2="151.8" y2="39.2" stroke="#333" stroke-width="1.1"/>
<text transform="translate(151.8,33.4) rotate(90)" text-anchor="end" dy="0.35em" font-size="10" fill="#4d4d4d">1.75</text>
<line x1="239.7" y1="35.8" x2="239.7" y2="39.2" stroke="#333" stroke-width="1.1"/>
<text transform="translate(239.7,33.4) rotate(90)" text-anchor="end" dy="0.35em" font-size="10" fill="#4d4d4d">2.00</text>
<line x1="327.6" y1="35.8" x2="327.6" y2="39.2" stroke="#333" stroke-width="1.1"/>
<text transform="translate(327.6,33.4) rotate(90)" text-anchor="end" dy="0.35em" font-size="10" fill="#4d4d4d">2.25</text>
<line x1="415.4" y1="35.8" x2="415.4" y2="39.2" stroke="#333" stroke-width="1.1"/>
<text transform="translate(415.4,33.4) rotate(90)" text-anchor="end" dy="0.35em" font-size="10" fill="#4d4d4d">2.50</text>
<line x1="503.3" y1="35.8" x2="503.3" y2="39.2" stroke="#333" stroke-width="1.1"/>
<text transform="translate(503.3,33.4) rotate(90)" text-anchor="end" dy="0.35em" font-size="10" fill="#4d4d4d">2.75</text>
<rect x="37" y="39.2" width="3.1" height="289.6" fill="#000"/>
<rect x="37" y="333.1" width="3.1" height="140.3" fill="#000"/>
<rect x="37" y="478.3" width="3.1" height="114.5" fill="#000"/>
<text x="-1.0" y="47.6" font-weight="bold" font-size="11.4" fill="#333">pH &lt; 5</text>
<text x="-1.2" y="341.9" font-weight="bold" font-size="11.4" fill="#333">pH 5-7</text>
<text x="1.6" y="486.0" font-weight="bold" font-size="11.4" fill="#333">pH &gt;7</text>
</g>
<g id="pb">
<rect x="423.3" y="60.4" width="259.99999999999994" height="204.9" fill="#fff"/>
<circle cx="431.8" cy="159.3" r="1.9" fill="#000" fill-opacity="0.5" stroke="#000" stroke-opacity="0.35" stroke-width="0.7"/>
<circle cx="431.8" cy="161.0" r="1.9" fill="#000" fill-opacity="0.5" stroke="#000" stroke-opacity="0.35" stroke-width="0.7"/>
<circle cx="431.8" cy="162.7" r="1.9" fill="#000" fill-opacity="0.5" stroke="#000" stroke-opacity="0.35" stroke-width="0.7"/>
<circle cx="431.8" cy="179.0" r="1.9" fill="#000" fill-opacity="0.5" stroke="#000" stroke-opacity="0.35" stroke-width="0.7"/>
<circle cx="431.8" cy="179.6" r="1.9" fill="#000" fill-opacity="0.5" stroke="#000" stroke-opacity="0.35" stroke-width="0.7"/>
<circle cx="431.8" cy="188.9" r="1.9" fill="#000" fill-opacity="0.5" stroke="#000" stroke-opacity="0.35" stroke-width="0.7"/>
<circle cx="431.8" cy="191.3" r="1.9" fill="#000" fill-opacity="0.5" stroke="#000" stroke-opacity="0.35" stroke-width="0.7"/>
<circle cx="442.1" cy="145.2" r="1.9" fill="#000" fill-opacity="0.5" stroke="#000" stroke-opacity="0.35" stroke-width="0.7"/>
<circle cx="442.1" cy="151.5" r="1.9" fill="#000" fill-opacity="0.5" stroke="#000" stroke-opacity="0.35" stroke-width="0.7"/>
<circle cx="442.1" cy="155.0" r="1.9" fill="#000" fill-opacity="0.5" stroke="#000" stroke-opacity="0.35" stroke-width="0.7"/>
<circle cx="442.1" cy="157.8" r="1.9" fill="#000" fill-opacity="0.5" stroke="#000" stroke-opacity="0.35" stroke-width="0.7"/>
<circle cx="442.1" cy="159.5" r="1.9" fill="#000" fill-opacity="0.5" stroke="#000" stroke-opacity="0.35" stroke-width="0.7"/>
<circle cx="442.1" cy="161.2" r="1.9" fill="#000" fill-opacity="0.5" stroke="#000" stroke-opacity="0.35" stroke-width="0.7"/>
<circle cx="442.1" cy="162.9" r="1.9" fill="#000" fill-opacity="0.5" stroke="#000" stroke-opacity="0.35" stroke-width="0.7"/>
<circle cx="442.1" cy="164.0" r="1.9" fill="#000" fill-opacity="0.5" stroke="#000" stroke-opacity="0.35" stroke-width="0.7"/>
<circle cx="442.1" cy="167.2" r="1.9" fill="#000" fill-opacity="0.5" stroke="#000" stroke-opacity="0.35" stroke-width="0.7"/>
<circle cx="442.1" cy="179.0" r="1.9" fill="#000" fill-opacity="0.5" stroke="#000" stroke-opacity="0.35" stroke-width="0.7"/>
<circle cx="442.1" cy="179.3" r="1.9" fill="#000" fill-opacity="0.5" stroke="#000" stroke-opacity="0.35" stroke-width="0.7"/>
<circle cx="442.1" cy="186.5" r="1.9" fill="#000" fill-opacity="0.5" stroke="#000" stroke-opacity="0.35" stroke-width="0.7"/>
<circle cx="442.1" cy="187.0" r="1.9" fill="#000" fill-opacity="0.5" stroke="#000" stroke-opacity="0.35" stroke-width="0.7"/>
<circle cx="442.1" cy="191.8" r="1.9" fill="#000" fill-opacity="0.5" stroke="#000" stroke-opacity="0.35" stroke-width="0.7"/>
<circle cx="448.8" cy="159.5" r="1.9" fill="#000" fill-opacity="0.5" stroke="#000" stroke-opacity="0.35" stroke-width="0.7"/>
<circle cx="448.8" cy="162.5" r="1.9" fill="#000" fill-opacity="0.5" stroke="#000" stroke-opacity="0.35" stroke-width="0.7"/>
<circle cx="448.8" cy="178.5" r="1.9" fill="#000" fill-opacity="0.5" stroke="#000" stroke-opacity="0.35" stroke-width="0.7"/>
<circle cx="448.8" cy="186.5" r="1.9" fill="#000" fill-opacity="0.5" stroke="#000" stroke-opacity="0.35" stroke-width="0.7"/>
<circle cx="448.8" cy="191.8" r="1.9" fill="#000" fill-opacity="0.5" stroke="#000" stroke-opacity="0.35" stroke-width="0.7"/>
<circle cx="457.4" cy="151.5" r="1.9" fill="#000" fill-opacity="0.5" stroke="#000" stroke-opacity="0.35" stroke-width="0.7"/>
<circle cx="457.4" cy="158.6" r="1.9" fill="#000" fill-opacity="0.5" stroke="#000" stroke-opacity="0.35" stroke-width="0.7"/>
<circle cx="457.4" cy="160.5" r="1.9" fill="#000" fill-opacity="0.5" stroke="#000" stroke-opacity="0.35" stroke-width="0.7"/>
<circle cx="457.4" cy="162.3" r="1.9" fill="#000" fill-opacity="0.5" stroke="#000" stroke-opacity="0.35" stroke-width="0.7"/>
<circle cx="457.4" cy="164.1" r="1.9" fill="#000" fill-opacity="0.5" stroke="#000" stroke-opacity="0.35" stroke-width="0.7"/>
<circle cx="457.4" cy="167.2" r="1.9" fill="#000" fill-opacity="0.5" stroke="#000" stroke-opacity="0.35" stroke-width="0.7"/>
<circle cx="457.4" cy="178.5" r="1.9" fill="#000" fill-opacity="0.5" stroke="#000" stroke-opacity="0.35" stroke-width="0.7"/>
<circle cx="457.4" cy="186.5" r="1.9" fill="#000" fill-opacity="0.5" stroke="#000" stroke-opacity="0.35" stroke-width="0.7"/>
<circle cx="457.4" cy="191.8" r="1.9" fill="#000" fill-opacity="0.5" stroke="#000" stroke-opacity="0.35" stroke-width="0.7"/>
<circle cx="462.9" cy="145.2" r="1.9" fill="#000" fill-opacity="0.5" stroke="#000" stroke-opacity="0.35" stroke-width="0.7"/>
<circle cx="462.9" cy="151.5" r="1.9" fill="#000" fill-opacity="0.5" stroke="#000" stroke-opacity="0.35" stroke-width="0.7"/>
<circle cx="462.9" cy="155.6" r="1.9" fill="#000" fill-opacity="0.5" stroke="#000" stroke-opacity="0.35" stroke-width="0.7"/>
<circle cx="462.9" cy="158.6" r="1.9" fill="#000" fill-opacity="0.5" stroke="#000" stroke-opacity="0.35" stroke-width="0.7"/>
<circle cx="462.9" cy="160.3" r="1.9" fill="#000" fill-opacity="0.5" stroke="#000" stroke-opacity="0.35" stroke-width="0.7"/>
<circle cx="462.9" cy="162.0" r="1.9" fill="#000" fill-opacity="0.5" stroke="#000" stroke-opacity="0.35" stroke-width="0.7"/>
<circle cx="462.9" cy="163.5" r="1.9" fill="#000" fill-opacity="0.5" stroke="#000" stroke-opacity="0.35" stroke-width="0.7"/>
<circle cx="462.9" cy="167.2" r="1.9" fill="#000" fill-opacity="0.5" stroke="#000" stroke-opacity="0.35" stroke-width="0.7"/>
<circle cx="462.9" cy="171.7" r="1.9" fill="#000" fill-opacity="0.5" stroke="#000" stroke-opacity="0.35" stroke-width="0.7"/>
<circle cx="462.9" cy="179.0" r="1.9" fill="#000" fill-opacity="0.5" stroke="#000" stroke-opacity="0.35" stroke-width="0.7"/>
<circle cx="462.9" cy="179.3" r="1.9" fill="#000" fill-opacity="0.5" stroke="#000" stroke-opacity="0.35" stroke-width="0.7"/>
<circle cx="462.9" cy="186.5" r="1.9" fill="#000" fill-opacity="0.5" stroke="#000" stroke-opacity="0.35" stroke-width="0.7"/>
<circle cx="462.9" cy="188.5" r="1.9" fill="#000" fill-opacity="0.5" stroke="#000" stroke-opacity="0.35" stroke-width="0.7"/>
<circle cx="462.9" cy="190.5" r="1.9" fill="#000" fill-opacity="0.5" stroke="#000" stroke-opacity="0.35" stroke-width="0.7"/>
<circle cx="462.9" cy="192.5" r="1.9" fill="#000" fill-opacity="0.5" stroke="#000" stroke-opacity="0.35" stroke-width="0.7"/>
<circle cx="462.9" cy="194.3" r="1.9" fill="#000" fill-opacity="0.5" stroke="#000" stroke-opacity="0.35" stroke-width="0.7"/>
<circle cx="466.2" cy="151.5" r="1.9" fill="#000" fill-opacity="0.5" stroke="#000" stroke-opacity="0.35" stroke-width="0.7"/>
<circle cx="466.2" cy="158.6" r="1.9" fill="#000" fill-opacity="0.5" stroke="#000" stroke-opacity="0.35" stroke-width="0.7"/>
<circle cx="466.2" cy="160.8" r="1.9" fill="#000" fill-opacity="0.5" stroke="#000" stroke-opacity="0.35" stroke-width="0.7"/>
<circle cx="466.2" cy="163.0" r="1.9" fill="#000" fill-opacity="0.5" stroke="#000" stroke-opacity="0.35" stroke-width="0.7"/>
<circle cx="466.2" cy="167.2" r="1.9" fill="#000" fill-opacity="0.5" stroke="#000" stroke-opacity="0.35" stroke-width="0.7"/>
<circle cx="466.2" cy="171.7" r="1.9" fill="#000" fill-opacity="0.5" stroke="#000" stroke-opacity="0.35" stroke-width="0.7"/>
<circle cx="466.2" cy="179.0" r="1.9" fill="#000" fill-opacity="0.5" stroke="#000" stroke-opacity="0.35" stroke-width="0.7"/>
<circle cx="466.2" cy="187.0" r="1.9" fill="#000" fill-opacity="0.5" stroke="#000" stroke-opacity="0.35" stroke-width="0.7"/>
<circle cx="466.2" cy="189.5" r="1.9" fill="#000" fill-opacity="0.5" stroke="#000" stroke-opacity="0.35" stroke-width="0.7"/>
<circle cx="466.2" cy="192.0" r="1.9" fill="#000" fill-opacity="0.5" stroke="#000" stroke-opacity="0.35" stroke-width="0.7"/>
<circle cx="470.7" cy="145.2" r="1.9" fill="#000" fill-opacity="0.5" stroke="#000" stroke-opacity="0.35" stroke-width="0.7"/>
<circle cx="470.7" cy="151.5" r="1.9" fill="#000" fill-opacity="0.5" stroke="#000" stroke-opacity="0.35" stroke-width="0.7"/>
<circle cx="470.7" cy="156.6" r="1.9" fill="#000" fill-opacity="0.5" stroke="#000" stroke-opacity="0.35" stroke-width="0.7"/>
<circle cx="470.7" cy="158.5" r="1.9" fill="#000" fill-opacity="0.5" stroke="#000" stroke-opacity="0.35" stroke-width="0.7"/>
<circle cx="470.7" cy="160.5" r="1.9" fill="#000" fill-opacity="0.5" stroke="#000" stroke-opacity="0.35" stroke-width="0.7"/>
<circle cx="470.7" cy="162.5" r="1.9" fill="#000" fill-opacity="0.5" stroke="#000" stroke-opacity="0.35" stroke-width="0.7"/>
<circle cx="470.7" cy="164.1" r="1.9" fill="#000" fill-opacity="0.5" stroke="#000" stroke-opacity="0.35" stroke-width="0.7"/>
<circle cx="470.7" cy="167.2" r="1.9" fill="#000" fill-opacity="0.5" stroke="#000" stroke-opacity="0.35" stroke-width="0.7"/>
<circle cx="470.7" cy="171.7" r="1.9" fill="#000" fill-opacity="0.5" stroke="#000" stroke-opacity="0.35" stroke-width="0.7"/>
<circle cx="470.7" cy="177.3" r="1.9" fill="#000" fill-opacity="0.5" stroke="#000" stroke-opacity="0.35" stroke-width="0.7"/>
<circle cx="470.7" cy="179.3" r="1.9" fill="#000" fill-opacity="0.5" stroke="#000" stroke-opacity="0.35" stroke-width="0.7"/>
<circle cx="470.7" cy="181.5" r="1.9" fill="#000" fill-opacity="0.5" stroke="#000" stroke-opacity="0.35" stroke-width="0.7"/>
<circle cx="470.7" cy="182.3" r="1.9" fill="#000" fill-opacity="0.5" stroke="#000" stroke-opacity="0.35" stroke-width="0.7"/>
<circle cx="470.7" cy="186.5" r="1.9" fill="#000" fill-opacity="0.5" stroke="#000" stroke-opacity="0.35" stroke-width="0.7"/>
<circle cx="470.7" cy="189.0" r="1.9" fill="#000" fill-opacity="0.5" stroke="#000" stroke-opacity="0.35" stroke-width="0.7"/>
<circle cx="470.7" cy="191.5" r="1.9" fill="#000" fill-opacity="0.5" stroke="#000" stroke-opacity="0.35" stroke-width="0.7"/>
<circle cx="470.7" cy="194.3" r="1.9" fill="#000" fill-opacity="0.5" stroke="#000" stroke-opacity="0.35" stroke-width="0.7"/>
<circle cx="474.5" cy="157.5" r="1.9" fill="#000" fill-opacity="0.5" stroke="#000" stroke-opacity="0.35" stroke-width="0.7"/>
<circle cx="474.5" cy="159.5" r="1.9" fill="#000" fill-opacity="0.5" stroke="#000" stroke-opacity="0.35" stroke-width="0.7"/>
<circle cx="474.5" cy="161.5" r="1.9" fill="#000" fill-opacity="0.5" stroke="#000" stroke-opacity="0.35" stroke-width="0.7"/>
<circle cx="474.5" cy="163.5" r="1.9" fill="#000" fill-opacity="0.5" stroke="#000" stroke-opacity="0.35" stroke-width="0.7"/>
<circle cx="474.5" cy="171.8" r="1.9" fill="#000" fill-opacity="0.5" stroke="#000" stroke-opacity="0.35" stroke-width="0.7"/>
<circle cx="474.5" cy="177.5" r="1.9" fill="#000" fill-opacity="0.5" stroke="#000" stroke-opacity="0.35" stroke-width="0.7"/>
<circle cx="474.5" cy="179.5" r="1.9" fill="#000" fill-opacity="0.5" stroke="#000" stroke-opacity="0.35" stroke-width="0.7"/>
<circle cx="474.5" cy="181.5" r="1.9" fill="#000" fill-opacity="0.5" stroke="#000" stroke-opacity="0.35" stroke-width="0.7"/>
<circle cx="474.5" cy="188.0" r="1.9" fill="#000" fill-opacity="0.5" stroke="#000" stroke-opacity="0.35" stroke-width="0.7"/>
<circle cx="474.5" cy="191.0" r="1.9" fill="#000" fill-opacity="0.5" stroke="#000" stroke-opacity="0.35" stroke-width="0.7"/>
<circle cx="477.5" cy="151.5" r="1.9" fill="#000" fill-opacity="0.5" stroke="#000" stroke-opacity="0.35" stroke-width="0.7"/>
<circle cx="477.5" cy="158.0" r="1.9" fill="#000" fill-opacity="0.5" stroke="#000" stroke-opacity="0.35" stroke-width="0.7"/>
<circle cx="477.5" cy="160.0" r="1.9" fill="#000" fill-opacity="0.5" stroke="#000" stroke-opacity="0.35" stroke-width="0.7"/>
<circle cx="477.5" cy="162.0" r="1.9" fill="#000" fill-opacity="0.5" stroke="#000" stroke-opacity="0.35" stroke-width="0.7"/>
<circle cx="477.5" cy="167.2" r="1.9" fill="#000" fill-opacity="0.5" stroke="#000" stroke-opacity="0.35" stroke-width="0.7"/>
<circle cx="477.5" cy="171.8" r="1.9" fill="#000" fill-opacity="0.5" stroke="#000" stroke-opacity="0.35" stroke-width="0.7"/>
<circle cx="477.5" cy="178.0" r="1.9" fill="#000" fill-opacity="0.5" stroke="#000" stroke-opacity="0.35" stroke-width="0.7"/>
<circle cx="477.5" cy="180.0" r="1.9" fill="#000" fill-opacity="0.5" stroke="#000" stroke-opacity="0.35" stroke-width="0.7"/>
<circle cx="477.5" cy="182.0" r="1.9" fill="#000" fill-opacity="0.5" stroke="#000" stroke-opacity="0.35" stroke-width="0.7"/>
<circle cx="477.5" cy="189.5" r="1.9" fill="#000" fill-opacity="0.5" stroke="#000" stroke-opacity="0.35" stroke-width="0.7"/>
<circle cx="477.5" cy="192.0" r="1.9" fill="#000" fill-opacity="0.5" stroke="#000" stroke-opacity="0.35" stroke-width="0.7"/>
<circle cx="480.0" cy="151.5" r="1.9" fill="#000" fill-opacity="0.5" stroke="#000" stroke-opacity="0.35" stroke-width="0.7"/>
<circle cx="480.0" cy="158.5" r="1.9" fill="#000" fill-opacity="0.5" stroke="#000" stroke-opacity="0.35" stroke-width="0.7"/>
<circle cx="480.0" cy="160.5" r="1.9" fill="#000" fill-opacity="0.5" stroke="#000" stroke-opacity="0.35" stroke-width="0.7"/>
<circle cx="480.0" cy="162.5" r="1.9" fill="#000" fill-opacity="0.5" stroke="#000" stroke-opacity="0.35" stroke-width="0.7"/>
<circle cx="480.0" cy="167.2" r="1.9" fill="#000" fill-opacity="0.5" stroke="#000" stroke-opacity="0.35" stroke-width="0.7"/>
<circle cx="480.0" cy="171.8" r="1.9" fill="#000" fill-opacity="0.5" stroke="#000" stroke-opacity="0.35" stroke-width="0.7"/>
<circle cx="480.0" cy="178.5" r="1.9" fill="#000" fill-opacity="0.5" stroke="#000" stroke-opacity="0.35" stroke-width="0.7"/>
<circle cx="480.0" cy="180.5" r="1.9" fill="#000" fill-opacity="0.5" stroke="#000" stroke-opacity="0.35" stroke-width="0.7"/>
<circle cx="480.0" cy="182.5" r="1.9" fill="#000" fill-opacity="0.5" stroke="#000" stroke-opacity="0.35" stroke-width="0.7"/>
<circle cx="480.0" cy="187.5" r="1.9" fill="#000" fill-opacity="0.5" stroke="#000" stroke-opacity="0.35" stroke-width="0.7"/>
<circle cx="482.5" cy="151.5" r="1.9" fill="#000" fill-opacity="0.5" stroke="#000" stroke-opacity="0.35" stroke-width="0.7"/>
<circle cx="482.5" cy="157.5" r="1.9" fill="#000" fill-opacity="0.5" stroke="#000" stroke-opacity="0.35" stroke-width="0.7"/>
<circle cx="482.5" cy="159.5" r="1.9" fill="#000" fill-opacity="0.5" stroke="#000" stroke-opacity="0.35" stroke-width="0.7"/>
<circle cx="482.5" cy="161.5" r="1.9" fill="#000" fill-opacity="0.5" stroke="#000" stroke-opacity="0.35" stroke-width="0.7"/>
<circle cx="482.5" cy="163.5" r="1.9" fill="#000" fill-opacity="0.5" stroke="#000" stroke-opacity="0.35" stroke-width="0.7"/>
<circle cx="482.5" cy="167.2" r="1.9" fill="#000" fill-opacity="0.5" stroke="#000" stroke-opacity="0.35" stroke-width="0.7"/>
<circle cx="482.5" cy="171.8" r="1.9" fill="#000" fill-opacity="0.5" stroke="#000" stroke-opacity="0.35" stroke-width="0.7"/>
<circle cx="482.5" cy="177.5" r="1.9" fill="#000" fill-opacity="0.5" stroke="#000" stroke-opacity="0.35" stroke-width="0.7"/>
<circle cx="482.5" cy="179.5" r="1.9" fill="#000" fill-opacity="0.5" stroke="#000" stroke-opacity="0.35" stroke-width="0.7"/>
<circle cx="482.5" cy="181.0" r="1.9" fill="#000" fill-opacity="0.5" stroke="#000" stroke-opacity="0.35" stroke-width="0.7"/>
<circle cx="482.5" cy="186.5" r="1.9" fill="#000" fill-opacity="0.5" stroke="#000" stroke-opacity="0.35" stroke-width="0.7"/>
<circle cx="485.0" cy="158.5" r="1.9" fill="#000" fill-opacity="0.5" stroke="#000" stroke-opacity="0.35" stroke-width="0.7"/>
<circle cx="485.0" cy="160.5" r="1.9" fill="#000" fill-opacity="0.5" stroke="#000" stroke-opacity="0.35" stroke-width="0.7"/>
<circle cx="485.0" cy="162.5" r="1.9" fill="#000" fill-opacity="0.5" stroke="#000" stroke-opacity="0.35" stroke-width="0.7"/>
<circle cx="485.0" cy="167.2" r="1.9" fill="#000" fill-opacity="0.5" stroke="#000" stroke-opacity="0.35" stroke-width="0.7"/>
<circle cx="485.0" cy="171.8" r="1.9" fill="#000" fill-opacity="0.5" stroke="#000" stroke-opacity="0.35" stroke-width="0.7"/>
<circle cx="485.0" cy="175.5" r="1.9" fill="#000" fill-opacity="0.5" stroke="#000" stroke-opacity="0.35" stroke-width="0.7"/>
<circle cx="485.0" cy="179.3" r="1.9" fill="#000" fill-opacity="0.5" stroke="#000" stroke-opacity="0.35" stroke-width="0.7"/>
<circle cx="485.0" cy="181.5" r="1.9" fill="#000" fill-opacity="0.5" stroke="#000" stroke-opacity="0.35" stroke-width="0.7"/>
<circle cx="488.7" cy="151.5" r="1.9" fill="#000" fill-opacity="0.5" stroke="#000" stroke-opacity="0.35" stroke-width="0.7"/>
<circle cx="488.7" cy="157.5" r="1.9" fill="#000" fill-opacity="0.5" stroke="#000" stroke-opacity="0.35" stroke-width="0.7"/>
<circle cx="488.7" cy="159.5" r="1.9" fill="#000" fill-opacity="0.5" stroke="#000" stroke-opacity="0.35" stroke-width="0.7"/>
<circle cx="488.7" cy="161.5" r="1.9" fill="#000" fill-opacity="0.5" stroke="#000" stroke-opacity="0.35" stroke-width="0.7"/>
<circle cx="488.7" cy="167.2" r="1.9" fill="#000" fill-opacity="0.5" stroke="#000" stroke-opacity="0.35" stroke-width="0.7"/>
<circle cx="488.7" cy="171.7" r="1.9" fill="#000" fill-opacity="0.5" stroke="#000" stroke-opacity="0.35" stroke-width="0.7"/>
<circle cx="488.7" cy="178.5" r="1.9" fill="#000" fill-opacity="0.5" stroke="#000" stroke-opacity="0.35" stroke-width="0.7"/>
<circle cx="488.7" cy="180.0" r="1.9" fill="#000" fill-opacity="0.5" stroke="#000" stroke-opacity="0.35" stroke-width="0.7"/>
<circle cx="488.7" cy="189.0" r="1.9" fill="#000" fill-opacity="0.5" stroke="#000" stroke-opacity="0.35" stroke-width="0.7"/>
<circle cx="488.7" cy="196.9" r="1.9" fill="#000" fill-opacity="0.5" stroke="#000" stroke-opacity="0.35" stroke-width="0.7"/>
<circle cx="494.2" cy="145.2" r="1.9" fill="#000" fill-opacity="0.5" stroke="#000" stroke-opacity="0.35" stroke-width="0.7"/>
<circle cx="494.2" cy="151.5" r="1.9" fill="#000" fill-opacity="0.5" stroke="#000" stroke-opacity="0.35" stroke-width="0.7"/>
<circle cx="494.2" cy="157.5" r="1.9" fill="#000" fill-opacity="0.5" stroke="#000" stroke-opacity="0.35" stroke-width="0.7"/>
<circle cx="494.2" cy="160.0" r="1.9" fill="#000" fill-opacity="0.5" stroke="#000" stroke-opacity="0.35" stroke-width="0.7"/>
<circle cx="494.2" cy="162.5" r="1.9" fill="#000" fill-opacity="0.5" stroke="#000" stroke-opacity="0.35" stroke-width="0.7"/>
<circle cx="494.2" cy="167.2" r="1.9" fill="#000" fill-opacity="0.5" stroke="#000" stroke-opacity="0.35" stroke-width="0.7"/>
<circle cx="494.2" cy="171.7" r="1.9" fill="#000" fill-opacity="0.5" stroke="#000" stroke-opacity="0.35" stroke-width="0.7"/>
<circle cx="494.2" cy="178.0" r="1.9" fill="#000" fill-opacity="0.5" stroke="#000" stroke-opacity="0.35" stroke-width="0.7"/>
<circle cx="494.2" cy="180.5" r="1.9" fill="#000" fill-opacity="0.5" stroke="#000" stroke-opacity="0.35" stroke-width="0.7"/>
<circle cx="494.2" cy="187.5" r="1.9" fill="#000" fill-opacity="0.5" stroke="#000" stroke-opacity="0.35" stroke-width="0.7"/>
<circle cx="494.2" cy="190.0" r="1.9" fill="#000" fill-opacity="0.5" stroke="#000" stroke-opacity="0.35" stroke-width="0.7"/>
<circle cx="494.2" cy="192.5" r="1.9" fill="#000" fill-opacity="0.5" stroke="#000" stroke-opacity="0.35" stroke-width="0.7"/>
<circle cx="505.8" cy="145.2" r="1.9" fill="#000" fill-opacity="0.5" stroke="#000" stroke-opacity="0.35" stroke-width="0.7"/>
<circle cx="505.8" cy="157.5" r="1.9" fill="#000" fill-opacity="0.5" stroke="#000" stroke-opacity="0.35" stroke-width="0.7"/>
<circle cx="505.8" cy="159.5" r="1.9" fill="#000" fill-opacity="0.5" stroke="#000" stroke-opacity="0.35" stroke-width="0.7"/>
<circle cx="505.8" cy="161.5" r="1.9" fill="#000" fill-opacity="0.5" stroke="#000" stroke-opacity="0.35" stroke-width="0.7"/>
<circle cx="505.8" cy="163.0" r="1.9" fill="#000" fill-opacity="0.5" stroke="#000" stroke-opacity="0.35" stroke-width="0.7"/>
<circle cx="505.8" cy="167.2" r="1.9" fill="#000" fill-opacity="0.5" stroke="#000" stroke-opacity="0.35" stroke-width="0.7"/>
<circle cx="505.8" cy="171.8" r="1.9" fill="#000" fill-opacity="0.5" stroke="#000" stroke-opacity="0.35" stroke-width="0.7"/>
<circle cx="505.8" cy="179.0" r="1.9" fill="#000" fill-opacity="0.5" stroke="#000" stroke-opacity="0.35" stroke-width="0.7"/>
<circle cx="505.8" cy="187.5" r="1.9" fill="#000" fill-opacity="0.5" stroke="#000" stroke-opacity="0.35" stroke-width="0.7"/>
<circle cx="505.8" cy="190.0" r="1.9" fill="#000" fill-opacity="0.5" stroke="#000" stroke-opacity="0.35" stroke-width="0.7"/>
<circle cx="505.8" cy="194.3" r="1.9" fill="#000" fill-opacity="0.5" stroke="#000" stroke-opacity="0.35" stroke-width="0.7"/>
<circle cx="505.8" cy="196.5" r="1.9" fill="#000" fill-opacity="0.5" stroke="#000" stroke-opacity="0.35" stroke-width="0.7"/>
<circle cx="508.8" cy="158.5" r="1.9" fill="#000" fill-opacity="0.5" stroke="#000" stroke-opacity="0.35" stroke-width="0.7"/>
<circle cx="508.8" cy="160.5" r="1.9" fill="#000" fill-opacity="0.5" stroke="#000" stroke-opacity="0.35" stroke-width="0.7"/>
<circle cx="508.8" cy="171.8" r="1.9" fill="#000" fill-opacity="0.5" stroke="#000" stroke-opacity="0.35" stroke-width="0.7"/>
<circle cx="508.8" cy="197.0" r="1.9" fill="#000" fill-opacity="0.5" stroke="#000" stroke-opacity="0.35" stroke-width="0.7"/>
<circle cx="515.3" cy="151.5" r="1.9" fill="#000" fill-opacity="0.5" stroke="#000" stroke-opacity="0.35" stroke-width="0.7"/>
<circle cx="515.3" cy="157.5" r="1.9" fill="#000" fill-opacity="0.5" stroke="#000" stroke-opacity="0.35" stroke-width="0.7"/>
<circle cx="515.3" cy="159.5" r="1.9" fill="#000" fill-opacity="0.5" stroke="#000" stroke-opacity="0.35" stroke-width="0.7"/>
<circle cx="515.3" cy="161.5" r="1.9" fill="#000" fill-opacity="0.5" stroke="#000" stroke-opacity="0.35" stroke-width="0.7"/>
<circle cx="515.3" cy="163.5" r="1.9" fill="#000" fill-opacity="0.5" stroke="#000" stroke-opacity="0.35" stroke-width="0.7"/>
<circle cx="515.3" cy="167.2" r="1.9" fill="#000" fill-opacity="0.5" stroke="#000" stroke-opacity="0.35" stroke-width="0.7"/>
<circle cx="515.3" cy="171.8" r="1.9" fill="#000" fill-opacity="0.5" stroke="#000" stroke-opacity="0.35" stroke-width="0.7"/>
<circle cx="515.3" cy="177.5" r="1.9" fill="#000" fill-opacity="0.5" stroke="#000" stroke-opacity="0.35" stroke-width="0.7"/>
<circle cx="515.3" cy="179.5" r="1.9" fill="#000" fill-opacity="0.5" stroke="#000" stroke-opacity="0.35" stroke-width="0.7"/>
<circle cx="515.3" cy="181.5" r="1.9" fill="#000" fill-opacity="0.5" stroke="#000" stroke-opacity="0.35" stroke-width="0.7"/>
<circle cx="515.3" cy="183.0" r="1.9" fill="#000" fill-opacity="0.5" stroke="#000" stroke-opacity="0.35" stroke-width="0.7"/>
<circle cx="515.3" cy="187.0" r="1.9" fill="#000" fill-opacity="0.5" stroke="#000" stroke-opacity="0.35" stroke-width="0.7"/>
<circle cx="515.3" cy="189.3" r="1.9" fill="#000" fill-opacity="0.5" stroke="#000" stroke-opacity="0.35" stroke-width="0.7"/>
<circle cx="515.3" cy="191.6" r="1.9" fill="#000" fill-opacity="0.5" stroke="#000" stroke-opacity="0.35" stroke-width="0.7"/>
<circle cx="515.3" cy="193.8" r="1.9" fill="#000" fill-opacity="0.5" stroke="#000" stroke-opacity="0.35" stroke-width="0.7"/>
<circle cx="519.3" cy="162.7" r="1.9" fill="#000" fill-opacity="0.5" stroke="#000" stroke-opacity="0.35" stroke-width="0.7"/>
<circle cx="519.3" cy="179.5" r="1.9" fill="#000" fill-opacity="0.5" stroke="#000" stroke-opacity="0.35" stroke-width="0.7"/>
<circle cx="519.3" cy="181.2" r="1.9" fill="#000" fill-opacity="0.5" stroke="#000" stroke-opacity="0.35" stroke-width="0.7"/>
<circle cx="546.4" cy="154.2" r="1.9" fill="#000" fill-opacity="0.5" stroke="#000" stroke-opacity="0.35" stroke-width="0.7"/>
<circle cx="546.4" cy="157.4" r="1.9" fill="#000" fill-opacity="0.5" stroke="#000" stroke-opacity="0.35" stroke-width="0.7"/>
<circle cx="546.4" cy="159.0" r="1.9" fill="#000" fill-opacity="0.5" stroke="#000" stroke-opacity="0.35" stroke-width="0.7"/>
<circle cx="547.2" cy="161.9" r="1.9" fill="#000" fill-opacity="0.5" stroke="#000" stroke-opacity="0.35" stroke-width="0.7"/>
<circle cx="545.6" cy="162.3" r="1.9" fill="#000" fill-opacity="0.5" stroke="#000" stroke-opacity="0.35" stroke-width="0.7"/>
<circle cx="546.2" cy="164.2" r="1.9" fill="#000" fill-opacity="0.5" stroke="#000" stroke-opacity="0.35" stroke-width="0.7"/>
<circle cx="545.9" cy="166.9" r="1.9" fill="#000" fill-opacity="0.5" stroke="#000" stroke-opacity="0.35" stroke-width="0.7"/>
<circle cx="546.3" cy="167.0" r="1.9" fill="#000" fill-opacity="0.5" stroke="#000" stroke-opacity="0.35" stroke-width="0.7"/>
<circle cx="546.5" cy="166.8" r="1.9" fill="#000" fill-opacity="0.5" stroke="#000" stroke-opacity="0.35" stroke-width="0.7"/>
<circle cx="545.7" cy="169.6" r="1.9" fill="#000" fill-opacity="0.5" stroke="#000" stroke-opacity="0.35" stroke-width="0.7"/>
<circle cx="546.6" cy="170.2" r="1.9" fill="#000" fill-opacity="0.5" stroke="#000" stroke-opacity="0.35" stroke-width="0.7"/>
<circle cx="546.5" cy="169.7" r="1.9" fill="#000" fill-opacity="0.5" stroke="#000" stroke-opacity="0.35" stroke-width="0.7"/>
<circle cx="545.6" cy="172.7" r="1.9" fill="#000" fill-opacity="0.5" stroke="#000" stroke-opacity="0.35" stroke-width="0.7"/>
<circle cx="546.3" cy="175.0" r="1.9" fill="#000" fill-opacity="0.5" stroke="#000" stroke-opacity="0.35" stroke-width="0.7"/>
<circle cx="546.5" cy="175.0" r="1.9" fill="#000" fill-opacity="0.5" stroke="#000" stroke-opacity="0.35" stroke-width="0.7"/>
<circle cx="545.7" cy="177.7" r="1.9" fill="#000" fill-opacity="0.5" stroke="#000" stroke-opacity="0.35" stroke-width="0.7"/>
<circle cx="546.2" cy="180.2" r="1.9" fill="#000" fill-opacity="0.5" stroke="#000" stroke-opacity="0.35" stroke-width="0.7"/>
<circle cx="546.5" cy="182.9" r="1.9" fill="#000" fill-opacity="0.5" stroke="#000" stroke-opacity="0.35" stroke-width="0.7"/>
<circle cx="546.7" cy="185.3" r="1.9" fill="#000" fill-opacity="0.5" stroke="#000" stroke-opacity="0.35" stroke-width="0.7"/>
<circle cx="546.1" cy="185.5" r="1.9" fill="#000" fill-opacity="0.5" stroke="#000" stroke-opacity="0.35" stroke-width="0.7"/>
<circle cx="546.2" cy="187.8" r="1.9" fill="#000" fill-opacity="0.5" stroke="#000" stroke-opacity="0.35" stroke-width="0.7"/>
<circle cx="545.8" cy="188.2" r="1.9" fill="#000" fill-opacity="0.5" stroke="#000" stroke-opacity="0.35" stroke-width="0.7"/>
<circle cx="546.5" cy="190.6" r="1.9" fill="#000" fill-opacity="0.5" stroke="#000" stroke-opacity="0.35" stroke-width="0.7"/>
<circle cx="546.8" cy="193.0" r="1.9" fill="#000" fill-opacity="0.5" stroke="#000" stroke-opacity="0.35" stroke-width="0.7"/>
<circle cx="547.3" cy="192.9" r="1.9" fill="#000" fill-opacity="0.5" stroke="#000" stroke-opacity="0.35" stroke-width="0.7"/>
<circle cx="545.8" cy="195.7" r="1.9" fill="#000" fill-opacity="0.5" stroke="#000" stroke-opacity="0.35" stroke-width="0.7"/>
<circle cx="547.2" cy="195.7" r="1.9" fill="#000" fill-opacity="0.5" stroke="#000" stroke-opacity="0.35" stroke-width="0.7"/>
<circle cx="549.2" cy="165.1" r="1.9" fill="#000" fill-opacity="0.5" stroke="#000" stroke-opacity="0.35" stroke-width="0.7"/>
<circle cx="548.4" cy="167.5" r="1.9" fill="#000" fill-opacity="0.5" stroke="#000" stroke-opacity="0.35" stroke-width="0.7"/>
<circle cx="548.7" cy="167.8" r="1.9" fill="#000" fill-opacity="0.5" stroke="#000" stroke-opacity="0.35" stroke-width="0.7"/>
<circle cx="549.3" cy="170.6" r="1.9" fill="#000" fill-opacity="0.5" stroke="#000" stroke-opacity="0.35" stroke-width="0.7"/>
<circle cx="549.1" cy="172.5" r="1.9" fill="#000" fill-opacity="0.5" stroke="#000" stroke-opacity="0.35" stroke-width="0.7"/>
<circle cx="549.1" cy="172.6" r="1.9" fill="#000" fill-opacity="0.5" stroke="#000" stroke-opacity="0.35" stroke-width="0.7"/>
<circle cx="549.6" cy="175.7" r="1.9" fill="#000" fill-opacity="0.5" stroke="#000" stroke-opacity="0.35" stroke-width="0.7"/>
<circle cx="548.3" cy="175.3" r="1.9" fill="#000" fill-opacity="0.5" stroke="#000" stroke-opacity="0.35" stroke-width="0.7"/>
<circle cx="549.0" cy="175.0" r="1.9" fill="#000" fill-opacity="0.5" stroke="#000" stroke-opacity="0.35" stroke-width="0.7"/>
<circle cx="548.4" cy="178.1" r="1.9" fill="#000" fill-opacity="0.5" stroke="#000" stroke-opacity="0.35" stroke-width="0.7"/>
<circle cx="548.7" cy="177.8" r="1.9" fill="#000" fill-opacity="0.5" stroke="#000" stroke-opacity="0.35" stroke-width="0.7"/>
<circle cx="548.0" cy="180.4" r="1.9" fill="#000" fill-opacity="0.5" stroke="#000" stroke-opacity="0.35" stroke-width="0.7"/>
<circle cx="548.5" cy="180.9" r="1.9" fill="#000" fill-opacity="0.5" stroke="#000" stroke-opacity="0.35" stroke-width="0.7"/>
<circle cx="548.1" cy="183.1" r="1.9" fill="#000" fill-opacity="0.5" stroke="#000" stroke-opacity="0.35" stroke-width="0.7"/>
<circle cx="549.4" cy="186.1" r="1.9" fill="#000" fill-opacity="0.5" stroke="#000" stroke-opacity="0.35" stroke-width="0.7"/>
<circle cx="549.4" cy="185.6" r="1.9" fill="#000" fill-opacity="0.5" stroke="#000" stroke-opacity="0.35" stroke-width="0.7"/>
<circle cx="549.6" cy="188.5" r="1.9" fill="#000" fill-opacity="0.5" stroke="#000" stroke-opacity="0.35" stroke-width="0.7"/>
<circle cx="548.5" cy="188.2" r="1.9" fill="#000" fill-opacity="0.5" stroke="#000" stroke-opacity="0.35" stroke-width="0.7"/>
<circle cx="548.1" cy="190.8" r="1.9" fill="#000" fill-opacity="0.5" stroke="#000" stroke-opacity="0.35" stroke-width="0.7"/>
<circle cx="547.8" cy="193.9" r="1.9" fill="#000" fill-opacity="0.5" stroke="#000" stroke-opacity="0.35" stroke-width="0.7"/>
<circle cx="548.7" cy="204.7" r="1.9" fill="#000" fill-opacity="0.5" stroke="#000" stroke-opacity="0.35" stroke-width="0.7"/>
<circle cx="552.4" cy="83.0" r="1.9" fill="#000" fill-opacity="0.5" stroke="#000" stroke-opacity="0.35" stroke-width="0.7"/>
<circle cx="552.4" cy="118.8" r="1.9" fill="#000" fill-opacity="0.5" stroke="#000" stroke-opacity="0.35" stroke-width="0.7"/>
<circle cx="552.4" cy="130.8" r="1.9" fill="#000" fill-opacity="0.5" stroke="#000" stroke-opacity="0.35" stroke-width="0.7"/>
<circle cx="552.4" cy="133.9" r="1.9" fill="#000" fill-opacity="0.5" stroke="#000" stroke-opacity="0.35" stroke-width="0.7"/>
<circle cx="552.4" cy="137.0" r="1.9" fill="#000" fill-opacity="0.5" stroke="#000" stroke-opacity="0.35" stroke-width="0.7"/>
<circle cx="552.4" cy="140.0" r="1.9" fill="#000" fill-opacity="0.5" stroke="#000" stroke-opacity="0.35" stroke-width="0.7"/>
<circle cx="552.4" cy="141.6" r="1.9" fill="#000" fill-opacity="0.5" stroke="#000" stroke-opacity="0.35" stroke-width="0.7"/>
<circle cx="552.4" cy="144.6" r="1.9" fill="#000" fill-opacity="0.5" stroke="#000" stroke-opacity="0.35" stroke-width="0.7"/>
<circle cx="552.4" cy="148.2" r="1.9" fill="#000" fill-opacity="0.5" stroke="#000" stroke-opacity="0.35" stroke-width="0.7"/>
<circle cx="552.4" cy="151.0" r="1.9" fill="#000" fill-opacity="0.5" stroke="#000" stroke-opacity="0.35" stroke-width="0.7"/>
<circle cx="552.4" cy="154.3" r="1.9" fill="#000" fill-opacity="0.5" stroke="#000" stroke-opacity="0.35" stroke-width="0.7"/>
<circle cx="552.4" cy="157.4" r="1.9" fill="#000" fill-opacity="0.5" stroke="#000" stroke-opacity="0.35" stroke-width="0.7"/>
<circle cx="552.0" cy="159.6" r="1.9" fill="#000" fill-opacity="0.5" stroke="#000" stroke-opacity="0.35" stroke-width="0.7"/>
<circle cx="552.5" cy="162.7" r="1.9" fill="#000" fill-opacity="0.5" stroke="#000" stroke-opacity="0.35" stroke-width="0.7"/>
<circle cx="552.1" cy="162.3" r="1.9" fill="#000" fill-opacity="0.5" stroke="#000" stroke-opacity="0.35" stroke-width="0.7"/>
<circle cx="553.2" cy="165.3" r="1.9" fill="#000" fill-opacity="0.5" stroke="#000" stroke-opacity="0.35" stroke-width="0.7"/>
<circle cx="552.8" cy="165.2" r="1.9" fill="#000" fill-opacity="0.5" stroke="#000" stroke-opacity="0.35" stroke-width="0.7"/>
<circle cx="553.1" cy="165.6" r="1.9" fill="#000" fill-opacity="0.5" stroke="#000" stroke-opacity="0.35" stroke-width="0.7"/>
<circle cx="552.2" cy="167.7" r="1.9" fill="#000" fill-opacity="0.5" stroke="#000" stroke-opacity="0.35" stroke-width="0.7"/>
<circle cx="551.7" cy="167.9" r="1.9" fill="#000" fill-opacity="0.5" stroke="#000" stroke-opacity="0.35" stroke-width="0.7"/>
<circle cx="551.6" cy="167.5" r="1.9" fill="#000" fill-opacity="0.5" stroke="#000" stroke-opacity="0.35" stroke-width="0.7"/>
<circle cx="552.3" cy="170.1" r="1.9" fill="#000" fill-opacity="0.5" stroke="#000" stroke-opacity="0.35" stroke-width="0.7"/>
<circle cx="551.6" cy="172.6" r="1.9" fill="#000" fill-opacity="0.5" stroke="#000" stroke-opacity="0.35" stroke-width="0.7"/>
<circle cx="551.8" cy="172.7" r="1.9" fill="#000" fill-opacity="0.5" stroke="#000" stroke-opacity="0.35" stroke-width="0.7"/>
<circle cx="552.2" cy="172.6" r="1.9" fill="#000" fill-opacity="0.5" stroke="#000" stroke-opacity="0.35" stroke-width="0.7"/>
<circle cx="552.6" cy="175.3" r="1.9" fill="#000" fill-opacity="0.5" stroke="#000" stroke-opacity="0.35" stroke-width="0.7"/>
<circle cx="553.2" cy="178.3" r="1.9" fill="#000" fill-opacity="0.5" stroke="#000" stroke-opacity="0.35" stroke-width="0.7"/>
<circle cx="552.4" cy="177.9" r="1.9" fill="#000" fill-opacity="0.5" stroke="#000" stroke-opacity="0.35" stroke-width="0.7"/>
<circle cx="553.3" cy="180.8" r="1.9" fill="#000" fill-opacity="0.5" stroke="#000" stroke-opacity="0.35" stroke-width="0.7"/>
<circle cx="552.4" cy="180.5" r="1.9" fill="#000" fill-opacity="0.5" stroke="#000" stroke-opacity="0.35" stroke-width="0.7"/>
<circle cx="552.8" cy="183.6" r="1.9" fill="#000" fill-opacity="0.5" stroke="#000" stroke-opacity="0.35" stroke-width="0.7"/>
<circle cx="553.0" cy="185.7" r="1.9" fill="#000" fill-opacity="0.5" stroke="#000" stroke-opacity="0.35" stroke-width="0.7"/>
<circle cx="551.5" cy="186.4" r="1.9" fill="#000" fill-opacity="0.5" stroke="#000" stroke-opacity="0.35" stroke-width="0.7"/>
<circle cx="552.2" cy="188.8" r="1.9" fill="#000" fill-opacity="0.5" stroke="#000" stroke-opacity="0.35" stroke-width="0.7"/>
<circle cx="553.1" cy="188.8" r="1.9" fill="#000" fill-opacity="0.5" stroke="#000" stroke-opacity="0.35" stroke-width="0.7"/>
<circle cx="552.0" cy="188.7" r="1.9" fill="#000" fill-opacity="0.5" stroke="#000" stroke-opacity="0.35" stroke-width="0.7"/>
<circle cx="552.8" cy="191.0" r="1.9" fill="#000" fill-opacity="0.5" stroke="#000" stroke-opacity="0.35" stroke-width="0.7"/>
<circle cx="553.1" cy="193.7" r="1.9" fill="#000" fill-opacity="0.5" stroke="#000" stroke-opacity="0.35" stroke-width="0.7"/>
<circle cx="551.9" cy="193.8" r="1.9" fill="#000" fill-opacity="0.5" stroke="#000" stroke-opacity="0.35" stroke-width="0.7"/>
<circle cx="552.1" cy="196.2" r="1.9" fill="#000" fill-opacity="0.5" stroke="#000" stroke-opacity="0.35" stroke-width="0.7"/>
<circle cx="553.0" cy="196.8" r="1.9" fill="#000" fill-opacity="0.5" stroke="#000" stroke-opacity="0.35" stroke-width="0.7"/>
<circle cx="553.0" cy="196.6" r="1.9" fill="#000" fill-opacity="0.5" stroke="#000" stroke-opacity="0.35" stroke-width="0.7"/>
<circle cx="552.8" cy="198.8" r="1.9" fill="#000" fill-opacity="0.5" stroke="#000" stroke-opacity="0.35" stroke-width="0.7"/>
<circle cx="552.4" cy="198.9" r="1.9" fill="#000" fill-opacity="0.5" stroke="#000" stroke-opacity="0.35" stroke-width="0.7"/>
<circle cx="553.3" cy="201.8" r="1.9" fill="#000" fill-opacity="0.5" stroke="#000" stroke-opacity="0.35" stroke-width="0.7"/>
<circle cx="552.4" cy="208.8" r="1.9" fill="#000" fill-opacity="0.5" stroke="#000" stroke-opacity="0.35" stroke-width="0.7"/>
<circle cx="552.4" cy="214.0" r="1.9" fill="#000" fill-opacity="0.5" stroke="#000" stroke-opacity="0.35" stroke-width="0.7"/>
<circle cx="552.4" cy="217.0" r="1.9" fill="#000" fill-opacity="0.5" stroke="#000" stroke-opacity="0.35" stroke-width="0.7"/>
<circle cx="552.4" cy="220.0" r="1.9" fill="#000" fill-opacity="0.5" stroke="#000" stroke-opacity="0.35" stroke-width="0.7"/>
<circle cx="552.4" cy="223.3" r="1.9" fill="#000" fill-opacity="0.5" stroke="#000" stroke-opacity="0.35" stroke-width="0.7"/>
<circle cx="552.4" cy="229.5" r="1.9" fill="#000" fill-opacity="0.5" stroke="#000" stroke-opacity="0.35" stroke-width="0.7"/>
<circle cx="556.8" cy="118.8" r="1.9" fill="#000" fill-opacity="0.5" stroke="#000" stroke-opacity="0.35" stroke-width="0.7"/>
<circle cx="556.8" cy="140.0" r="1.9" fill="#000" fill-opacity="0.5" stroke="#000" stroke-opacity="0.35" stroke-width="0.7"/>
<circle cx="556.8" cy="144.6" r="1.9" fill="#000" fill-opacity="0.5" stroke="#000" stroke-opacity="0.35" stroke-width="0.7"/>
<circle cx="556.8" cy="148.2" r="1.9" fill="#000" fill-opacity="0.5" stroke="#000" stroke-opacity="0.35" stroke-width="0.7"/>
<circle cx="556.8" cy="154.3" r="1.9" fill="#000" fill-opacity="0.5" stroke="#000" stroke-opacity="0.35" stroke-width="0.7"/>
<circle cx="556.8" cy="157.4" r="1.9" fill="#000" fill-opacity="0.5" stroke="#000" stroke-opacity="0.35" stroke-width="0.7"/>
<circle cx="556.4" cy="160.2" r="1.9" fill="#000" fill-opacity="0.5" stroke="#000" stroke-opacity="0.35" stroke-width="0.7"/>
<circle cx="557.6" cy="160.0" r="1.9" fill="#000" fill-opacity="0.5" stroke="#000" stroke-opacity="0.35" stroke-width="0.7"/>
<circle cx="557.6" cy="162.5" r="1.9" fill="#000" fill-opacity="0.5" stroke="#000" stroke-opacity="0.35" stroke-width="0.7"/>
<circle cx="556.3" cy="162.4" r="1.9" fill="#000" fill-opacity="0.5" stroke="#000" stroke-opacity="0.35" stroke-width="0.7"/>
<circle cx="556.5" cy="165.2" r="1.9" fill="#000" fill-opacity="0.5" stroke="#000" stroke-opacity="0.35" stroke-width="0.7"/>
<circle cx="557.4" cy="167.8" r="1.9" fill="#000" fill-opacity="0.5" stroke="#000" stroke-opacity="0.35" stroke-width="0.7"/>
<circle cx="557.1" cy="168.0" r="1.9" fill="#000" fill-opacity="0.5" stroke="#000" stroke-opacity="0.35" stroke-width="0.7"/>
<circle cx="556.1" cy="167.9" r="1.9" fill="#000" fill-opacity="0.5" stroke="#000" stroke-opacity="0.35" stroke-width="0.7"/>
<circle cx="557.3" cy="170.6" r="1.9" fill="#000" fill-opacity="0.5" stroke="#000" stroke-opacity="0.35" stroke-width="0.7"/>
<circle cx="556.8" cy="170.1" r="1.9" fill="#000" fill-opacity="0.5" stroke="#000" stroke-opacity="0.35" stroke-width="0.7"/>
<circle cx="556.1" cy="173.4" r="1.9" fill="#000" fill-opacity="0.5" stroke="#000" stroke-opacity="0.35" stroke-width="0.7"/>
<circle cx="557.2" cy="173.0" r="1.9" fill="#000" fill-opacity="0.5" stroke="#000" stroke-opacity="0.35" stroke-width="0.7"/>
<circle cx="557.2" cy="175.3" r="1.9" fill="#000" fill-opacity="0.5" stroke="#000" stroke-opacity="0.35" stroke-width="0.7"/>
<circle cx="555.9" cy="178.3" r="1.9" fill="#000" fill-opacity="0.5" stroke="#000" stroke-opacity="0.35" stroke-width="0.7"/>
<circle cx="557.4" cy="180.5" r="1.9" fill="#000" fill-opacity="0.5" stroke="#000" stroke-opacity="0.35" stroke-width="0.7"/>
<circle cx="557.4" cy="181.2" r="1.9" fill="#000" fill-opacity="0.5" stroke="#000" stroke-opacity="0.35" stroke-width="0.7"/>
<circle cx="556.2" cy="183.4" r="1.9" fill="#000" fill-opacity="0.5" stroke="#000" stroke-opacity="0.35" stroke-width="0.7"/>
<circle cx="555.9" cy="183.6" r="1.9" fill="#000" fill-opacity="0.5" stroke="#000" stroke-opacity="0.35" stroke-width="0.7"/>
<circle cx="556.8" cy="186.3" r="1.9" fill="#000" fill-opacity="0.5" stroke="#000" stroke-opacity="0.35" stroke-width="0.7"/>
<circle cx="557.7" cy="188.4" r="1.9" fill="#000" fill-opacity="0.5" stroke="#000" stroke-opacity="0.35" stroke-width="0.7"/>
<circle cx="557.5" cy="188.2" r="1.9" fill="#000" fill-opacity="0.5" stroke="#000" stroke-opacity="0.35" stroke-width="0.7"/>
<circle cx="556.4" cy="191.0" r="1.9" fill="#000" fill-opacity="0.5" stroke="#000" stroke-opacity="0.35" stroke-width="0.7"/>
<circle cx="556.5" cy="193.8" r="1.9" fill="#000" fill-opacity="0.5" stroke="#000" stroke-opacity="0.35" stroke-width="0.7"/>
<circle cx="557.4" cy="193.4" r="1.9" fill="#000" fill-opacity="0.5" stroke="#000" stroke-opacity="0.35" stroke-width="0.7"/>
<circle cx="557.2" cy="194.1" r="1.9" fill="#000" fill-opacity="0.5" stroke="#000" stroke-opacity="0.35" stroke-width="0.7"/>
<circle cx="557.4" cy="196.4" r="1.9" fill="#000" fill-opacity="0.5" stroke="#000" stroke-opacity="0.35" stroke-width="0.7"/>
<circle cx="557.4" cy="196.7" r="1.9" fill="#000" fill-opacity="0.5" stroke="#000" stroke-opacity="0.35" stroke-width="0.7"/>
<circle cx="556.1" cy="196.1" r="1.9" fill="#000" fill-opacity="0.5" stroke="#000" stroke-opacity="0.35" stroke-width="0.7"/>
<circle cx="555.9" cy="199.0" r="1.9" fill="#000" fill-opacity="0.5" stroke="#000" stroke-opacity="0.35" stroke-width="0.7"/>
<circle cx="556.2" cy="198.6" r="1.9" fill="#000" fill-opacity="0.5" stroke="#000" stroke-opacity="0.35" stroke-width="0.7"/>
<circle cx="557.3" cy="198.7" r="1.9" fill="#000" fill-opacity="0.5" stroke="#000" stroke-opacity="0.35" stroke-width="0.7"/>
<circle cx="557.0" cy="201.3" r="1.9" fill="#000" fill-opacity="0.5" stroke="#000" stroke-opacity="0.35" stroke-width="0.7"/>
<circle cx="556.0" cy="201.7" r="1.9" fill="#000" fill-opacity="0.5" stroke="#000" stroke-opacity="0.35" stroke-width="0.7"/>
<circle cx="556.9" cy="204.4" r="1.9" fill="#000" fill-opacity="0.5" stroke="#000" stroke-opacity="0.35" stroke-width="0.7"/>
<circle cx="556.1" cy="204.2" r="1.9" fill="#000" fill-opacity="0.5" stroke="#000" stroke-opacity="0.35" stroke-width="0.7"/>
<circle cx="556.3" cy="204.0" r="1.9" fill="#000" fill-opacity="0.5" stroke="#000" stroke-opacity="0.35" stroke-width="0.7"/>
<circle cx="556.8" cy="206.8" r="1.9" fill="#000" fill-opacity="0.5" stroke="#000" stroke-opacity="0.35" stroke-width="0.7"/>
<circle cx="556.7" cy="209.5" r="1.9" fill="#000" fill-opacity="0.5" stroke="#000" stroke-opacity="0.35" stroke-width="0.7"/>
<circle cx="557.0" cy="211.8" r="1.9" fill="#000" fill-opacity="0.5" stroke="#000" stroke-opacity="0.35" stroke-width="0.7"/>
<circle cx="556.4" cy="212.0" r="1.9" fill="#000" fill-opacity="0.5" stroke="#000" stroke-opacity="0.35" stroke-width="0.7"/>
<circle cx="557.4" cy="212.0" r="1.9" fill="#000" fill-opacity="0.5" stroke="#000" stroke-opacity="0.35" stroke-width="0.7"/>
<circle cx="557.2" cy="214.9" r="1.9" fill="#000" fill-opacity="0.5" stroke="#000" stroke-opacity="0.35" stroke-width="0.7"/>
<circle cx="557.6" cy="217.5" r="1.9" fill="#000" fill-opacity="0.5" stroke="#000" stroke-opacity="0.35" stroke-width="0.7"/>
<circle cx="556.3" cy="217.2" r="1.9" fill="#000" fill-opacity="0.5" stroke="#000" stroke-opacity="0.35" stroke-width="0.7"/>
<circle cx="556.1" cy="219.8" r="1.9" fill="#000" fill-opacity="0.5" stroke="#000" stroke-opacity="0.35" stroke-width="0.7"/>
<circle cx="556.0" cy="219.6" r="1.9" fill="#000" fill-opacity="0.5" stroke="#000" stroke-opacity="0.35" stroke-width="0.7"/>
<circle cx="556.3" cy="222.2" r="1.9" fill="#000" fill-opacity="0.5" stroke="#000" stroke-opacity="0.35" stroke-width="0.7"/>
<circle cx="557.5" cy="224.7" r="1.9" fill="#000" fill-opacity="0.5" stroke="#000" stroke-opacity="0.35" stroke-width="0.7"/>
<circle cx="556.2" cy="227.9" r="1.9" fill="#000" fill-opacity="0.5" stroke="#000" stroke-opacity="0.35" stroke-width="0.7"/>
<circle cx="557.6" cy="227.4" r="1.9" fill="#000" fill-opacity="0.5" stroke="#000" stroke-opacity="0.35" stroke-width="0.7"/>
<circle cx="556.6" cy="230.2" r="1.9" fill="#000" fill-opacity="0.5" stroke="#000" stroke-opacity="0.35" stroke-width="0.7"/>
<circle cx="556.8" cy="239.1" r="1.9" fill="#000" fill-opacity="0.5" stroke="#000" stroke-opacity="0.35" stroke-width="0.7"/>
<circle cx="564.2" cy="151.2" r="1.9" fill="#000" fill-opacity="0.5" stroke="#000" stroke-opacity="0.35" stroke-width="0.7"/>
<circle cx="564.2" cy="154.5" r="1.9" fill="#000" fill-opacity="0.5" stroke="#000" stroke-opacity="0.35" stroke-width="0.7"/>
<circle cx="564.2" cy="158.0" r="1.9" fill="#000" fill-opacity="0.5" stroke="#000" stroke-opacity="0.35" stroke-width="0.7"/>
<circle cx="564.2" cy="162.6" r="1.9" fill="#000" fill-opacity="0.5" stroke="#000" stroke-opacity="0.35" stroke-width="0.7"/>
<circle cx="564.2" cy="166.1" r="1.9" fill="#000" fill-opacity="0.5" stroke="#000" stroke-opacity="0.35" stroke-width="0.7"/>
<circle cx="564.2" cy="170.6" r="1.9" fill="#000" fill-opacity="0.5" stroke="#000" stroke-opacity="0.35" stroke-width="0.7"/>
<circle cx="564.2" cy="178.7" r="1.9" fill="#000" fill-opacity="0.5" stroke="#000" stroke-opacity="0.35" stroke-width="0.7"/>
<circle cx="564.2" cy="188.3" r="1.9" fill="#000" fill-opacity="0.5" stroke="#000" stroke-opacity="0.35" stroke-width="0.7"/>
<circle cx="564.2" cy="194.3" r="1.9" fill="#000" fill-opacity="0.5" stroke="#000" stroke-opacity="0.35" stroke-width="0.7"/>
<circle cx="570.2" cy="151.3" r="1.9" fill="#000" fill-opacity="0.5" stroke="#000" stroke-opacity="0.35" stroke-width="0.7"/>
<circle cx="570.2" cy="154.3" r="1.9" fill="#000" fill-opacity="0.5" stroke="#000" stroke-opacity="0.35" stroke-width="0.7"/>
<circle cx="570.2" cy="157.4" r="1.9" fill="#000" fill-opacity="0.5" stroke="#000" stroke-opacity="0.35" stroke-width="0.7"/>
<circle cx="570.2" cy="160.0" r="1.9" fill="#000" fill-opacity="0.5" stroke="#000" stroke-opacity="0.35" stroke-width="0.7"/>
<circle cx="570.2" cy="162.0" r="1.9" fill="#000" fill-opacity="0.5" stroke="#000" stroke-opacity="0.35" stroke-width="0.7"/>
<circle cx="570.2" cy="165.0" r="1.9" fill="#000" fill-opacity="0.5" stroke="#000" stroke-opacity="0.35" stroke-width="0.7"/>
<circle cx="570.2" cy="167.6" r="1.9" fill="#000" fill-opacity="0.5" stroke="#000" stroke-opacity="0.35" stroke-width="0.7"/>
<circle cx="570.2" cy="170.7" r="1.9" fill="#000" fill-opacity="0.5" stroke="#000" stroke-opacity="0.35" stroke-width="0.7"/>
<circle cx="570.2" cy="173.8" r="1.9" fill="#000" fill-opacity="0.5" stroke="#000" stroke-opacity="0.35" stroke-width="0.7"/>
<circle cx="570.2" cy="176.0" r="1.9" fill="#000" fill-opacity="0.5" stroke="#000" stroke-opacity="0.35" stroke-width="0.7"/>
<circle cx="570.2" cy="178.7" r="1.9" fill="#000" fill-opacity="0.5" stroke="#000" stroke-opacity="0.35" stroke-width="0.7"/>
<circle cx="570.2" cy="188.0" r="1.9" fill="#000" fill-opacity="0.5" stroke="#000" stroke-opacity="0.35" stroke-width="0.7"/>
<circle cx="570.2" cy="191.0" r="1.9" fill="#000" fill-opacity="0.5" stroke="#000" stroke-opacity="0.35" stroke-width="0.7"/>
<circle cx="570.2" cy="194.0" r="1.9" fill="#000" fill-opacity="0.5" stroke="#000" stroke-opacity="0.35" stroke-width="0.7"/>
<circle cx="570.2" cy="197.6" r="1.9" fill="#000" fill-opacity="0.5" stroke="#000" stroke-opacity="0.35" stroke-width="0.7"/>
<circle cx="570.2" cy="229.0" r="1.9" fill="#000" fill-opacity="0.5" stroke="#000" stroke-opacity="0.35" stroke-width="0.7"/>
<circle cx="570.2" cy="230.4" r="1.9" fill="#000" fill-opacity="0.5" stroke="#000" stroke-opacity="0.35" stroke-width="0.7"/>
<circle cx="573.3" cy="85.5" r="1.9" fill="#000" fill-opacity="0.5" stroke="#000" stroke-opacity="0.35" stroke-width="0.7"/>
<circle cx="573.3" cy="130.8" r="1.9" fill="#000" fill-opacity="0.5" stroke="#000" stroke-opacity="0.35" stroke-width="0.7"/>
<circle cx="573.3" cy="154.3" r="1.9" fill="#000" fill-opacity="0.5" stroke="#000" stroke-opacity="0.35" stroke-width="0.7"/>
<circle cx="573.3" cy="157.4" r="1.9" fill="#000" fill-opacity="0.5" stroke="#000" stroke-opacity="0.35" stroke-width="0.7"/>
<circle cx="572.7" cy="161.9" r="1.9" fill="#000" fill-opacity="0.5" stroke="#000" stroke-opacity="0.35" stroke-width="0.7"/>
<circle cx="573.1" cy="164.5" r="1.9" fill="#000" fill-opacity="0.5" stroke="#000" stroke-opacity="0.35" stroke-width="0.7"/>
<circle cx="573.0" cy="164.3" r="1.9" fill="#000" fill-opacity="0.5" stroke="#000" stroke-opacity="0.35" stroke-width="0.7"/>
<circle cx="573.1" cy="164.5" r="1.9" fill="#000" fill-opacity="0.5" stroke="#000" stroke-opacity="0.35" stroke-width="0.7"/>
<circle cx="573.2" cy="166.8" r="1.9" fill="#000" fill-opacity="0.5" stroke="#000" stroke-opacity="0.35" stroke-width="0.7"/>
<circle cx="573.0" cy="167.3" r="1.9" fill="#000" fill-opacity="0.5" stroke="#000" stroke-opacity="0.35" stroke-width="0.7"/>
<circle cx="574.1" cy="169.5" r="1.9" fill="#000" fill-opacity="0.5" stroke="#000" stroke-opacity="0.35" stroke-width="0.7"/>
<circle cx="574.1" cy="169.6" r="1.9" fill="#000" fill-opacity="0.5" stroke="#000" stroke-opacity="0.35" stroke-width="0.7"/>
<circle cx="574.0" cy="169.5" r="1.9" fill="#000" fill-opacity="0.5" stroke="#000" stroke-opacity="0.35" stroke-width="0.7"/>
<circle cx="572.5" cy="172.6" r="1.9" fill="#000" fill-opacity="0.5" stroke="#000" stroke-opacity="0.35" stroke-width="0.7"/>
<circle cx="572.9" cy="172.1" r="1.9" fill="#000" fill-opacity="0.5" stroke="#000" stroke-opacity="0.35" stroke-width="0.7"/>
<circle cx="573.9" cy="175.1" r="1.9" fill="#000" fill-opacity="0.5" stroke="#000" stroke-opacity="0.35" stroke-width="0.7"/>
<circle cx="574.1" cy="174.9" r="1.9" fill="#000" fill-opacity="0.5" stroke="#000" stroke-opacity="0.35" stroke-width="0.7"/>
<circle cx="574.1" cy="177.7" r="1.9" fill="#000" fill-opacity="0.5" stroke="#000" stroke-opacity="0.35" stroke-width="0.7"/>
<circle cx="573.7" cy="177.3" r="1.9" fill="#000" fill-opacity="0.5" stroke="#000" stroke-opacity="0.35" stroke-width="0.7"/>
<circle cx="572.5" cy="177.8" r="1.9" fill="#000" fill-opacity="0.5" stroke="#000" stroke-opacity="0.35" stroke-width="0.7"/>
<circle cx="574.0" cy="180.0" r="1.9" fill="#000" fill-opacity="0.5" stroke="#000" stroke-opacity="0.35" stroke-width="0.7"/>
<circle cx="572.4" cy="179.9" r="1.9" fill="#000" fill-opacity="0.5" stroke="#000" stroke-opacity="0.35" stroke-width="0.7"/>
<circle cx="572.6" cy="183.1" r="1.9" fill="#000" fill-opacity="0.5" stroke="#000" stroke-opacity="0.35" stroke-width="0.7"/>
<circle cx="572.5" cy="183.1" r="1.9" fill="#000" fill-opacity="0.5" stroke="#000" stroke-opacity="0.35" stroke-width="0.7"/>
<circle cx="572.4" cy="185.8" r="1.9" fill="#000" fill-opacity="0.5" stroke="#000" stroke-opacity="0.35" stroke-width="0.7"/>
<circle cx="573.2" cy="185.7" r="1.9" fill="#000" fill-opacity="0.5" stroke="#000" stroke-opacity="0.35" stroke-width="0.7"/>
<circle cx="572.6" cy="188.0" r="1.9" fill="#000" fill-opacity="0.5" stroke="#000" stroke-opacity="0.35" stroke-width="0.7"/>
<circle cx="572.8" cy="187.7" r="1.9" fill="#000" fill-opacity="0.5" stroke="#000" stroke-opacity="0.35" stroke-width="0.7"/>
<circle cx="572.7" cy="187.6" r="1.9" fill="#000" fill-opacity="0.5" stroke="#000" stroke-opacity="0.35" stroke-width="0.7"/>
<circle cx="574.1" cy="190.7" r="1.9" fill="#000" fill-opacity="0.5" stroke="#000" stroke-opacity="0.35" stroke-width="0.7"/>
<circle cx="573.8" cy="193.0" r="1.9" fill="#000" fill-opacity="0.5" stroke="#000" stroke-opacity="0.35" stroke-width="0.7"/>
<circle cx="573.3" cy="192.9" r="1.9" fill="#000" fill-opacity="0.5" stroke="#000" stroke-opacity="0.35" stroke-width="0.7"/>
<circle cx="573.0" cy="192.8" r="1.9" fill="#000" fill-opacity="0.5" stroke="#000" stroke-opacity="0.35" stroke-width="0.7"/>
<circle cx="572.5" cy="195.4" r="1.9" fill="#000" fill-opacity="0.5" stroke="#000" stroke-opacity="0.35" stroke-width="0.7"/>
<circle cx="573.3" cy="196.2" r="1.9" fill="#000" fill-opacity="0.5" stroke="#000" stroke-opacity="0.35" stroke-width="0.7"/>
<circle cx="573.3" cy="198.7" r="1.9" fill="#000" fill-opacity="0.5" stroke="#000" stroke-opacity="0.35" stroke-width="0.7"/>
<circle cx="572.6" cy="198.7" r="1.9" fill="#000" fill-opacity="0.5" stroke="#000" stroke-opacity="0.35" stroke-width="0.7"/>
<circle cx="573.2" cy="198.4" r="1.9" fill="#000" fill-opacity="0.5" stroke="#000" stroke-opacity="0.35" stroke-width="0.7"/>
<circle cx="574.1" cy="200.8" r="1.9" fill="#000" fill-opacity="0.5" stroke="#000" stroke-opacity="0.35" stroke-width="0.7"/>
<circle cx="572.8" cy="200.8" r="1.9" fill="#000" fill-opacity="0.5" stroke="#000" stroke-opacity="0.35" stroke-width="0.7"/>
<circle cx="573.9" cy="203.8" r="1.9" fill="#000" fill-opacity="0.5" stroke="#000" stroke-opacity="0.35" stroke-width="0.7"/>
<circle cx="573.1" cy="206.1" r="1.9" fill="#000" fill-opacity="0.5" stroke="#000" stroke-opacity="0.35" stroke-width="0.7"/>
<circle cx="573.9" cy="208.4" r="1.9" fill="#000" fill-opacity="0.5" stroke="#000" stroke-opacity="0.35" stroke-width="0.7"/>
<circle cx="573.2" cy="211.0" r="1.9" fill="#000" fill-opacity="0.5" stroke="#000" stroke-opacity="0.35" stroke-width="0.7"/>
<circle cx="573.6" cy="211.3" r="1.9" fill="#000" fill-opacity="0.5" stroke="#000" stroke-opacity="0.35" stroke-width="0.7"/>
<circle cx="573.6" cy="213.8" r="1.9" fill="#000" fill-opacity="0.5" stroke="#000" stroke-opacity="0.35" stroke-width="0.7"/>
<circle cx="572.8" cy="213.8" r="1.9" fill="#000" fill-opacity="0.5" stroke="#000" stroke-opacity="0.35" stroke-width="0.7"/>
<circle cx="573.2" cy="213.7" r="1.9" fill="#000" fill-opacity="0.5" stroke="#000" stroke-opacity="0.35" stroke-width="0.7"/>
<circle cx="572.4" cy="216.5" r="1.9" fill="#000" fill-opacity="0.5" stroke="#000" stroke-opacity="0.35" stroke-width="0.7"/>
<circle cx="573.0" cy="217.0" r="1.9" fill="#000" fill-opacity="0.5" stroke="#000" stroke-opacity="0.35" stroke-width="0.7"/>
<circle cx="572.8" cy="219.6" r="1.9" fill="#000" fill-opacity="0.5" stroke="#000" stroke-opacity="0.35" stroke-width="0.7"/>
<circle cx="573.0" cy="219.1" r="1.9" fill="#000" fill-opacity="0.5" stroke="#000" stroke-opacity="0.35" stroke-width="0.7"/>
<circle cx="573.0" cy="221.5" r="1.9" fill="#000" fill-opacity="0.5" stroke="#000" stroke-opacity="0.35" stroke-width="0.7"/>
<circle cx="573.3" cy="224.2" r="1.9" fill="#000" fill-opacity="0.5" stroke="#000" stroke-opacity="0.35" stroke-width="0.7"/>
<circle cx="573.3" cy="224.0" r="1.9" fill="#000" fill-opacity="0.5" stroke="#000" stroke-opacity="0.35" stroke-width="0.7"/>
<circle cx="573.3" cy="230.4" r="1.9" fill="#000" fill-opacity="0.5" stroke="#000" stroke-opacity="0.35" stroke-width="0.7"/>
<circle cx="573.3" cy="239.1" r="1.9" fill="#000" fill-opacity="0.5" stroke="#000" stroke-opacity="0.35" stroke-width="0.7"/>
<circle cx="576.8" cy="130.8" r="1.9" fill="#000" fill-opacity="0.5" stroke="#000" stroke-opacity="0.35" stroke-width="0.7"/>
<circle cx="576.8" cy="137.0" r="1.9" fill="#000" fill-opacity="0.5" stroke="#000" stroke-opacity="0.35" stroke-width="0.7"/>
<circle cx="576.8" cy="154.3" r="1.9" fill="#000" fill-opacity="0.5" stroke="#000" stroke-opacity="0.35" stroke-width="0.7"/>
<circle cx="577.4" cy="159.7" r="1.9" fill="#000" fill-opacity="0.5" stroke="#000" stroke-opacity="0.35" stroke-width="0.7"/>
<circle cx="577.0" cy="159.9" r="1.9" fill="#000" fill-opacity="0.5" stroke="#000" stroke-opacity="0.35" stroke-width="0.7"/>
<circle cx="576.4" cy="162.4" r="1.9" fill="#000" fill-opacity="0.5" stroke="#000" stroke-opacity="0.35" stroke-width="0.7"/>
<circle cx="577.0" cy="162.6" r="1.9" fill="#000" fill-opacity="0.5" stroke="#000" stroke-opacity="0.35" stroke-width="0.7"/>
<circle cx="577.1" cy="165.4" r="1.9" fill="#000" fill-opacity="0.5" stroke="#000" stroke-opacity="0.35" stroke-width="0.7"/>
<circle cx="576.6" cy="167.7" r="1.9" fill="#000" fill-opacity="0.5" stroke="#000" stroke-opacity="0.35" stroke-width="0.7"/>
<circle cx="577.7" cy="167.5" r="1.9" fill="#000" fill-opacity="0.5" stroke="#000" stroke-opacity="0.35" stroke-width="0.7"/>
<circle cx="577.2" cy="167.9" r="1.9" fill="#000" fill-opacity="0.5" stroke="#000" stroke-opacity="0.35" stroke-width="0.7"/>
<circle cx="577.4" cy="170.6" r="1.9" fill="#000" fill-opacity="0.5" stroke="#000" stroke-opacity="0.35" stroke-width="0.7"/>
<circle cx="577.0" cy="173.2" r="1.9" fill="#000" fill-opacity="0.5" stroke="#000" stroke-opacity="0.35" stroke-width="0.7"/>
<circle cx="577.4" cy="172.7" r="1.9" fill="#000" fill-opacity="0.5" stroke="#000" stroke-opacity="0.35" stroke-width="0.7"/>
<circle cx="576.8" cy="173.0" r="1.9" fill="#000" fill-opacity="0.5" stroke="#000" stroke-opacity="0.35" stroke-width="0.7"/>
<circle cx="577.4" cy="175.7" r="1.9" fill="#000" fill-opacity="0.5" stroke="#000" stroke-opacity="0.35" stroke-width="0.7"/>
<circle cx="576.1" cy="177.8" r="1.9" fill="#000" fill-opacity="0.5" stroke="#000" stroke-opacity="0.35" stroke-width="0.7"/>
<circle cx="577.6" cy="180.7" r="1.9" fill="#000" fill-opacity="0.5" stroke="#000" stroke-opacity="0.35" stroke-width="0.7"/>
<circle cx="576.7" cy="180.4" r="1.9" fill="#000" fill-opacity="0.5" stroke="#000" stroke-opacity="0.35" stroke-width="0.7"/>
<circle cx="577.0" cy="183.5" r="1.9" fill="#000" fill-opacity="0.5" stroke="#000" stroke-opacity="0.35" stroke-width="0.7"/>
<circle cx="576.4" cy="186.0" r="1.9" fill="#000" fill-opacity="0.5" stroke="#000" stroke-opacity="0.35" stroke-width="0.7"/>
<circle cx="576.0" cy="186.3" r="1.9" fill="#000" fill-opacity="0.5" stroke="#000" stroke-opacity="0.35" stroke-width="0.7"/>
<circle cx="576.1" cy="188.6" r="1.9" fill="#000" fill-opacity="0.5" stroke="#000" stroke-opacity="0.35" stroke-width="0.7"/>
<circle cx="577.2" cy="188.6" r="1.9" fill="#000" fill-opacity="0.5" stroke="#000" stroke-opacity="0.35" stroke-width="0.7"/>
<circle cx="577.4" cy="188.9" r="1.9" fill="#000" fill-opacity="0.5" stroke="#000" stroke-opacity="0.35" stroke-width="0.7"/>
<circle cx="577.2" cy="191.0" r="1.9" fill="#000" fill-opacity="0.5" stroke="#000" stroke-opacity="0.35" stroke-width="0.7"/>
<circle cx="576.8" cy="193.7" r="1.9" fill="#000" fill-opacity="0.5" stroke="#000" stroke-opacity="0.35" stroke-width="0.7"/>
<circle cx="576.8" cy="193.9" r="1.9" fill="#000" fill-opacity="0.5" stroke="#000" stroke-opacity="0.35" stroke-width="0.7"/>
<circle cx="577.0" cy="196.5" r="1.9" fill="#000" fill-opacity="0.5" stroke="#000" stroke-opacity="0.35" stroke-width="0.7"/>
<circle cx="577.0" cy="198.9" r="1.9" fill="#000" fill-opacity="0.5" stroke="#000" stroke-opacity="0.35" stroke-width="0.7"/>
<circle cx="577.0" cy="201.3" r="1.9" fill="#000" fill-opacity="0.5" stroke="#000" stroke-opacity="0.35" stroke-width="0.7"/>
<circle cx="576.8" cy="201.6" r="1.9" fill="#000" fill-opacity="0.5" stroke="#000" stroke-opacity="0.35" stroke-width="0.7"/>
<circle cx="577.1" cy="204.3" r="1.9" fill="#000" fill-opacity="0.5" stroke="#000" stroke-opacity="0.35" stroke-width="0.7"/>
<circle cx="577.2" cy="206.6" r="1.9" fill="#000" fill-opacity="0.5" stroke="#000" stroke-opacity="0.35" stroke-width="0.7"/>
<circle cx="576.7" cy="207.0" r="1.9" fill="#000" fill-opacity="0.5" stroke="#000" stroke-opacity="0.35" stroke-width="0.7"/>
<circle cx="576.3" cy="209.8" r="1.9" fill="#000" fill-opacity="0.5" stroke="#000" stroke-opacity="0.35" stroke-width="0.7"/>
<circle cx="577.6" cy="209.0" r="1.9" fill="#000" fill-opacity="0.5" stroke="#000" stroke-opacity="0.35" stroke-width="0.7"/>
<circle cx="576.7" cy="209.7" r="1.9" fill="#000" fill-opacity="0.5" stroke="#000" stroke-opacity="0.35" stroke-width="0.7"/>
<circle cx="577.7" cy="211.9" r="1.9" fill="#000" fill-opacity="0.5" stroke="#000" stroke-opacity="0.35" stroke-width="0.7"/>
<circle cx="577.5" cy="212.3" r="1.9" fill="#000" fill-opacity="0.5" stroke="#000" stroke-opacity="0.35" stroke-width="0.7"/>
<circle cx="576.9" cy="214.3" r="1.9" fill="#000" fill-opacity="0.5" stroke="#000" stroke-opacity="0.35" stroke-width="0.7"/>
<circle cx="576.4" cy="217.1" r="1.9" fill="#000" fill-opacity="0.5" stroke="#000" stroke-opacity="0.35" stroke-width="0.7"/>
<circle cx="577.0" cy="217.3" r="1.9" fill="#000" fill-opacity="0.5" stroke="#000" stroke-opacity="0.35" stroke-width="0.7"/>
<circle cx="576.4" cy="216.9" r="1.9" fill="#000" fill-opacity="0.5" stroke="#000" stroke-opacity="0.35" stroke-width="0.7"/>
<circle cx="576.3" cy="220.1" r="1.9" fill="#000" fill-opacity="0.5" stroke="#000" stroke-opacity="0.35" stroke-width="0.7"/>
<circle cx="576.8" cy="219.4" r="1.9" fill="#000" fill-opacity="0.5" stroke="#000" stroke-opacity="0.35" stroke-width="0.7"/>
<circle cx="577.6" cy="222.5" r="1.9" fill="#000" fill-opacity="0.5" stroke="#000" stroke-opacity="0.35" stroke-width="0.7"/>
<circle cx="576.4" cy="224.7" r="1.9" fill="#000" fill-opacity="0.5" stroke="#000" stroke-opacity="0.35" stroke-width="0.7"/>
<circle cx="576.5" cy="224.9" r="1.9" fill="#000" fill-opacity="0.5" stroke="#000" stroke-opacity="0.35" stroke-width="0.7"/>
<circle cx="576.8" cy="230.4" r="1.9" fill="#000" fill-opacity="0.5" stroke="#000" stroke-opacity="0.35" stroke-width="0.7"/>
<circle cx="576.8" cy="239.1" r="1.9" fill="#000" fill-opacity="0.5" stroke="#000" stroke-opacity="0.35" stroke-width="0.7"/>
<circle cx="578.9" cy="130.8" r="1.9" fill="#000" fill-opacity="0.5" stroke="#000" stroke-opacity="0.35" stroke-width="0.7"/>
<circle cx="578.9" cy="146.2" r="1.9" fill="#000" fill-opacity="0.5" stroke="#000" stroke-opacity="0.35" stroke-width="0.7"/>
<circle cx="578.0" cy="161.2" r="1.9" fill="#000" fill-opacity="0.5" stroke="#000" stroke-opacity="0.35" stroke-width="0.7"/>
<circle cx="579.5" cy="160.7" r="1.9" fill="#000" fill-opacity="0.5" stroke="#000" stroke-opacity="0.35" stroke-width="0.7"/>
<circle cx="579.3" cy="163.9" r="1.9" fill="#000" fill-opacity="0.5" stroke="#000" stroke-opacity="0.35" stroke-width="0.7"/>
<circle cx="578.5" cy="165.9" r="1.9" fill="#000" fill-opacity="0.5" stroke="#000" stroke-opacity="0.35" stroke-width="0.7"/>
<circle cx="578.7" cy="166.5" r="1.9" fill="#000" fill-opacity="0.5" stroke="#000" stroke-opacity="0.35" stroke-width="0.7"/>
<circle cx="578.6" cy="168.7" r="1.9" fill="#000" fill-opacity="0.5" stroke="#000" stroke-opacity="0.35" stroke-width="0.7"/>
<circle cx="579.5" cy="171.2" r="1.9" fill="#000" fill-opacity="0.5" stroke="#000" stroke-opacity="0.35" stroke-width="0.7"/>
<circle cx="578.1" cy="171.5" r="1.9" fill="#000" fill-opacity="0.5" stroke="#000" stroke-opacity="0.35" stroke-width="0.7"/>
<circle cx="578.4" cy="173.8" r="1.9" fill="#000" fill-opacity="0.5" stroke="#000" stroke-opacity="0.35" stroke-width="0.7"/>
<circle cx="578.6" cy="176.8" r="1.9" fill="#000" fill-opacity="0.5" stroke="#000" stroke-opacity="0.35" stroke-width="0.7"/>
<circle cx="579.4" cy="176.5" r="1.9" fill="#000" fill-opacity="0.5" stroke="#000" stroke-opacity="0.35" stroke-width="0.7"/>
<circle cx="578.1" cy="176.8" r="1.9" fill="#000" fill-opacity="0.5" stroke="#000" stroke-opacity="0.35" stroke-width="0.7"/>
<circle cx="579.6" cy="179.6" r="1.9" fill="#000" fill-opacity="0.5" stroke="#000" stroke-opacity="0.35" stroke-width="0.7"/>
<circle cx="579.0" cy="179.4" r="1.9" fill="#000" fill-opacity="0.5" stroke="#000" stroke-opacity="0.35" stroke-width="0.7"/>
<circle cx="579.7" cy="181.7" r="1.9" fill="#000" fill-opacity="0.5" stroke="#000" stroke-opacity="0.35" stroke-width="0.7"/>
<circle cx="579.4" cy="184.5" r="1.9" fill="#000" fill-opacity="0.5" stroke="#000" stroke-opacity="0.35" stroke-width="0.7"/>
<circle cx="578.5" cy="184.0" r="1.9" fill="#000" fill-opacity="0.5" stroke="#000" stroke-opacity="0.35" stroke-width="0.7"/>
<circle cx="579.7" cy="184.1" r="1.9" fill="#000" fill-opacity="0.5" stroke="#000" stroke-opacity="0.35" stroke-width="0.7"/>
<circle cx="578.7" cy="186.8" r="1.9" fill="#000" fill-opacity="0.5" stroke="#000" stroke-opacity="0.35" stroke-width="0.7"/>
<circle cx="578.5" cy="187.2" r="1.9" fill="#000" fill-opacity="0.5" stroke="#000" stroke-opacity="0.35" stroke-width="0.7"/>
<circle cx="578.7" cy="189.4" r="1.9" fill="#000" fill-opacity="0.5" stroke="#000" stroke-opacity="0.35" stroke-width="0.7"/>
<circle cx="578.9" cy="189.7" r="1.9" fill="#000" fill-opacity="0.5" stroke="#000" stroke-opacity="0.35" stroke-width="0.7"/>
<circle cx="578.3" cy="191.9" r="1.9" fill="#000" fill-opacity="0.5" stroke="#000" stroke-opacity="0.35" stroke-width="0.7"/>
<circle cx="578.9" cy="195.0" r="1.9" fill="#000" fill-opacity="0.5" stroke="#000" stroke-opacity="0.35" stroke-width="0.7"/>
<circle cx="578.4" cy="197.7" r="1.9" fill="#000" fill-opacity="0.5" stroke="#000" stroke-opacity="0.35" stroke-width="0.7"/>
<circle cx="579.8" cy="197.4" r="1.9" fill="#000" fill-opacity="0.5" stroke="#000" stroke-opacity="0.35" stroke-width="0.7"/>
<circle cx="578.3" cy="197.2" r="1.9" fill="#000" fill-opacity="0.5" stroke="#000" stroke-opacity="0.35" stroke-width="0.7"/>
<circle cx="578.3" cy="200.0" r="1.9" fill="#000" fill-opacity="0.5" stroke="#000" stroke-opacity="0.35" stroke-width="0.7"/>
<circle cx="578.4" cy="202.4" r="1.9" fill="#000" fill-opacity="0.5" stroke="#000" stroke-opacity="0.35" stroke-width="0.7"/>
<circle cx="579.0" cy="202.9" r="1.9" fill="#000" fill-opacity="0.5" stroke="#000" stroke-opacity="0.35" stroke-width="0.7"/>
<circle cx="578.7" cy="205.4" r="1.9" fill="#000" fill-opacity="0.5" stroke="#000" stroke-opacity="0.35" stroke-width="0.7"/>
<circle cx="578.4" cy="205.0" r="1.9" fill="#000" fill-opacity="0.5" stroke="#000" stroke-opacity="0.35" stroke-width="0.7"/>
<circle cx="578.9" cy="207.9" r="1.9" fill="#000" fill-opacity="0.5" stroke="#000" stroke-opacity="0.35" stroke-width="0.7"/>
<circle cx="578.2" cy="210.4" r="1.9" fill="#000" fill-opacity="0.5" stroke="#000" stroke-opacity="0.35" stroke-width="0.7"/>
<circle cx="579.1" cy="210.7" r="1.9" fill="#000" fill-opacity="0.5" stroke="#000" stroke-opacity="0.35" stroke-width="0.7"/>
<circle cx="578.2" cy="213.3" r="1.9" fill="#000" fill-opacity="0.5" stroke="#000" stroke-opacity="0.35" stroke-width="0.7"/>
<circle cx="578.7" cy="215.6" r="1.9" fill="#000" fill-opacity="0.5" stroke="#000" stroke-opacity="0.35" stroke-width="0.7"/>
<circle cx="579.7" cy="215.9" r="1.9" fill="#000" fill-opacity="0.5" stroke="#000" stroke-opacity="0.35" stroke-width="0.7"/>
<circle cx="578.2" cy="218.1" r="1.9" fill="#000" fill-opacity="0.5" stroke="#000" stroke-opacity="0.35" stroke-width="0.7"/>
<circle cx="579.7" cy="220.8" r="1.9" fill="#000" fill-opacity="0.5" stroke="#000" stroke-opacity="0.35" stroke-width="0.7"/>
<circle cx="578.1" cy="221.1" r="1.9" fill="#000" fill-opacity="0.5" stroke="#000" stroke-opacity="0.35" stroke-width="0.7"/>
<circle cx="579.5" cy="223.8" r="1.9" fill="#000" fill-opacity="0.5" stroke="#000" stroke-opacity="0.35" stroke-width="0.7"/>
<circle cx="578.4" cy="223.1" r="1.9" fill="#000" fill-opacity="0.5" stroke="#000" stroke-opacity="0.35" stroke-width="0.7"/>
<circle cx="578.3" cy="223.4" r="1.9" fill="#000" fill-opacity="0.5" stroke="#000" stroke-opacity="0.35" stroke-width="0.7"/>
<circle cx="578.9" cy="230.4" r="1.9" fill="#000" fill-opacity="0.5" stroke="#000" stroke-opacity="0.35" stroke-width="0.7"/>
<circle cx="578.9" cy="239.1" r="1.9" fill="#000" fill-opacity="0.5" stroke="#000" stroke-opacity="0.35" stroke-width="0.7"/>
<circle cx="581.9" cy="113.4" r="1.9" fill="#000" fill-opacity="0.5" stroke="#000" stroke-opacity="0.35" stroke-width="0.7"/>
<circle cx="581.9" cy="130.8" r="1.9" fill="#000" fill-opacity="0.5" stroke="#000" stroke-opacity="0.35" stroke-width="0.7"/>
<circle cx="581.9" cy="146.2" r="1.9" fill="#000" fill-opacity="0.5" stroke="#000" stroke-opacity="0.35" stroke-width="0.7"/>
<circle cx="581.9" cy="154.3" r="1.9" fill="#000" fill-opacity="0.5" stroke="#000" stroke-opacity="0.35" stroke-width="0.7"/>
<circle cx="582.7" cy="160.2" r="1.9" fill="#000" fill-opacity="0.5" stroke="#000" stroke-opacity="0.35" stroke-width="0.7"/>
<circle cx="581.2" cy="162.8" r="1.9" fill="#000" fill-opacity="0.5" stroke="#000" stroke-opacity="0.35" stroke-width="0.7"/>
<circle cx="581.0" cy="162.3" r="1.9" fill="#000" fill-opacity="0.5" stroke="#000" stroke-opacity="0.35" stroke-width="0.7"/>
<circle cx="582.7" cy="165.3" r="1.9" fill="#000" fill-opacity="0.5" stroke="#000" stroke-opacity="0.35" stroke-width="0.7"/>
<circle cx="581.5" cy="164.9" r="1.9" fill="#000" fill-opacity="0.5" stroke="#000" stroke-opacity="0.35" stroke-width="0.7"/>
<circle cx="581.5" cy="165.3" r="1.9" fill="#000" fill-opacity="0.5" stroke="#000" stroke-opacity="0.35" stroke-width="0.7"/>
<circle cx="581.2" cy="167.6" r="1.9" fill="#000" fill-opacity="0.5" stroke="#000" stroke-opacity="0.35" stroke-width="0.7"/>
<circle cx="581.3" cy="170.2" r="1.9" fill="#000" fill-opacity="0.5" stroke="#000" stroke-opacity="0.35" stroke-width="0.7"/>
<circle cx="582.4" cy="170.0" r="1.9" fill="#000" fill-opacity="0.5" stroke="#000" stroke-opacity="0.35" stroke-width="0.7"/>
<circle cx="582.0" cy="170.8" r="1.9" fill="#000" fill-opacity="0.5" stroke="#000" stroke-opacity="0.35" stroke-width="0.7"/>
<circle cx="582.7" cy="173.1" r="1.9" fill="#000" fill-opacity="0.5" stroke="#000" stroke-opacity="0.35" stroke-width="0.7"/>
<circle cx="582.6" cy="173.0" r="1.9" fill="#000" fill-opacity="0.5" stroke="#000" stroke-opacity="0.35" stroke-width="0.7"/>
<circle cx="582.0" cy="175.2" r="1.9" fill="#000" fill-opacity="0.5" stroke="#000" stroke-opacity="0.35" stroke-width="0.7"/>
<circle cx="582.3" cy="178.0" r="1.9" fill="#000" fill-opacity="0.5" stroke="#000" stroke-opacity="0.35" stroke-width="0.7"/>
<circle cx="581.0" cy="178.2" r="1.9" fill="#000" fill-opacity="0.5" stroke="#000" stroke-opacity="0.35" stroke-width="0.7"/>
<circle cx="581.1" cy="180.6" r="1.9" fill="#000" fill-opacity="0.5" stroke="#000" stroke-opacity="0.35" stroke-width="0.7"/>
<circle cx="581.8" cy="180.7" r="1.9" fill="#000" fill-opacity="0.5" stroke="#000" stroke-opacity="0.35" stroke-width="0.7"/>
<circle cx="581.1" cy="183.3" r="1.9" fill="#000" fill-opacity="0.5" stroke="#000" stroke-opacity="0.35" stroke-width="0.7"/>
<circle cx="581.8" cy="183.5" r="1.9" fill="#000" fill-opacity="0.5" stroke="#000" stroke-opacity="0.35" stroke-width="0.7"/>
<circle cx="581.0" cy="185.8" r="1.9" fill="#000" fill-opacity="0.5" stroke="#000" stroke-opacity="0.35" stroke-width="0.7"/>
<circle cx="581.1" cy="188.6" r="1.9" fill="#000" fill-opacity="0.5" stroke="#000" stroke-opacity="0.35" stroke-width="0.7"/>
<circle cx="581.4" cy="188.8" r="1.9" fill="#000" fill-opacity="0.5" stroke="#000" stroke-opacity="0.35" stroke-width="0.7"/>
<circle cx="581.3" cy="188.6" r="1.9" fill="#000" fill-opacity="0.5" stroke="#000" stroke-opacity="0.35" stroke-width="0.7"/>
<circle cx="582.4" cy="191.0" r="1.9" fill="#000" fill-opacity="0.5" stroke="#000" stroke-opacity="0.35" stroke-width="0.7"/>
<circle cx="582.7" cy="191.2" r="1.9" fill="#000" fill-opacity="0.5" stroke="#000" stroke-opacity="0.35" stroke-width="0.7"/>
<circle cx="582.6" cy="193.8" r="1.9" fill="#000" fill-opacity="0.5" stroke="#000" stroke-opacity="0.35" stroke-width="0.7"/>
<circle cx="582.7" cy="196.1" r="1.9" fill="#000" fill-opacity="0.5" stroke="#000" stroke-opacity="0.35" stroke-width="0.7"/>
<circle cx="581.1" cy="198.6" r="1.9" fill="#000" fill-opacity="0.5" stroke="#000" stroke-opacity="0.35" stroke-width="0.7"/>
<circle cx="582.1" cy="198.9" r="1.9" fill="#000" fill-opacity="0.5" stroke="#000" stroke-opacity="0.35" stroke-width="0.7"/>
<circle cx="581.3" cy="201.6" r="1.9" fill="#000" fill-opacity="0.5" stroke="#000" stroke-opacity="0.35" stroke-width="0.7"/>
<circle cx="582.3" cy="204.6" r="1.9" fill="#000" fill-opacity="0.5" stroke="#000" stroke-opacity="0.35" stroke-width="0.7"/>
<circle cx="582.7" cy="204.1" r="1.9" fill="#000" fill-opacity="0.5" stroke="#000" stroke-opacity="0.35" stroke-width="0.7"/>
<circle cx="582.2" cy="206.8" r="1.9" fill="#000" fill-opacity="0.5" stroke="#000" stroke-opacity="0.35" stroke-width="0.7"/>
<circle cx="581.1" cy="209.5" r="1.9" fill="#000" fill-opacity="0.5" stroke="#000" stroke-opacity="0.35" stroke-width="0.7"/>
<circle cx="581.7" cy="209.3" r="1.9" fill="#000" fill-opacity="0.5" stroke="#000" stroke-opacity="0.35" stroke-width="0.7"/>
<circle cx="581.8" cy="211.7" r="1.9" fill="#000" fill-opacity="0.5" stroke="#000" stroke-opacity="0.35" stroke-width="0.7"/>
<circle cx="581.1" cy="211.7" r="1.9" fill="#000" fill-opacity="0.5" stroke="#000" stroke-opacity="0.35" stroke-width="0.7"/>
<circle cx="582.7" cy="214.3" r="1.9" fill="#000" fill-opacity="0.5" stroke="#000" stroke-opacity="0.35" stroke-width="0.7"/>
<circle cx="582.7" cy="214.4" r="1.9" fill="#000" fill-opacity="0.5" stroke="#000" stroke-opacity="0.35" stroke-width="0.7"/>
<circle cx="582.4" cy="217.0" r="1.9" fill="#000" fill-opacity="0.5" stroke="#000" stroke-opacity="0.35" stroke-width="0.7"/>
<circle cx="582.4" cy="216.9" r="1.9" fill="#000" fill-opacity="0.5" stroke="#000" stroke-opacity="0.35" stroke-width="0.7"/>
<circle cx="581.4" cy="219.8" r="1.9" fill="#000" fill-opacity="0.5" stroke="#000" stroke-opacity="0.35" stroke-width="0.7"/>
<circle cx="581.8" cy="219.7" r="1.9" fill="#000" fill-opacity="0.5" stroke="#000" stroke-opacity="0.35" stroke-width="0.7"/>
<circle cx="581.1" cy="222.3" r="1.9" fill="#000" fill-opacity="0.5" stroke="#000" stroke-opacity="0.35" stroke-width="0.7"/>
<circle cx="582.5" cy="222.6" r="1.9" fill="#000" fill-opacity="0.5" stroke="#000" stroke-opacity="0.35" stroke-width="0.7"/>
<circle cx="581.7" cy="225.0" r="1.9" fill="#000" fill-opacity="0.5" stroke="#000" stroke-opacity="0.35" stroke-width="0.7"/>
<circle cx="581.9" cy="230.4" r="1.9" fill="#000" fill-opacity="0.5" stroke="#000" stroke-opacity="0.35" stroke-width="0.7"/>
<circle cx="585.5" cy="104.7" r="1.9" fill="#000" fill-opacity="0.5" stroke="#000" stroke-opacity="0.35" stroke-width="0.7"/>
<circle cx="585.5" cy="130.8" r="1.9" fill="#000" fill-opacity="0.5" stroke="#000" stroke-opacity="0.35" stroke-width="0.7"/>
<circle cx="585.5" cy="137.0" r="1.9" fill="#000" fill-opacity="0.5" stroke="#000" stroke-opacity="0.35" stroke-width="0.7"/>
<circle cx="585.5" cy="140.0" r="1.9" fill="#000" fill-opacity="0.5" stroke="#000" stroke-opacity="0.35" stroke-width="0.7"/>
<circle cx="585.5" cy="148.2" r="1.9" fill="#000" fill-opacity="0.5" stroke="#000" stroke-opacity="0.35" stroke-width="0.7"/>
<circle cx="585.5" cy="151.3" r="1.9" fill="#000" fill-opacity="0.5" stroke="#000" stroke-opacity="0.35" stroke-width="0.7"/>
<circle cx="585.5" cy="157.4" r="1.9" fill="#000" fill-opacity="0.5" stroke="#000" stroke-opacity="0.35" stroke-width="0.7"/>
<circle cx="585.1" cy="160.2" r="1.9" fill="#000" fill-opacity="0.5" stroke="#000" stroke-opacity="0.35" stroke-width="0.7"/>
<circle cx="585.2" cy="162.4" r="1.9" fill="#000" fill-opacity="0.5" stroke="#000" stroke-opacity="0.35" stroke-width="0.7"/>
<circle cx="586.3" cy="162.7" r="1.9" fill="#000" fill-opacity="0.5" stroke="#000" stroke-opacity="0.35" stroke-width="0.7"/>
<circle cx="585.1" cy="162.8" r="1.9" fill="#000" fill-opacity="0.5" stroke="#000" stroke-opacity="0.35" stroke-width="0.7"/>
<circle cx="586.3" cy="165.0" r="1.9" fill="#000" fill-opacity="0.5" stroke="#000" stroke-opacity="0.35" stroke-width="0.7"/>
<circle cx="585.9" cy="165.3" r="1.9" fill="#000" fill-opacity="0.5" stroke="#000" stroke-opacity="0.35" stroke-width="0.7"/>
<circle cx="584.6" cy="167.6" r="1.9" fill="#000" fill-opacity="0.5" stroke="#000" stroke-opacity="0.35" stroke-width="0.7"/>
<circle cx="585.9" cy="170.4" r="1.9" fill="#000" fill-opacity="0.5" stroke="#000" stroke-opacity="0.35" stroke-width="0.7"/>
<circle cx="586.0" cy="170.6" r="1.9" fill="#000" fill-opacity="0.5" stroke="#000" stroke-opacity="0.35" stroke-width="0.7"/>
<circle cx="586.1" cy="172.7" r="1.9" fill="#000" fill-opacity="0.5" stroke="#000" stroke-opacity="0.35" stroke-width="0.7"/>
<circle cx="585.5" cy="172.6" r="1.9" fill="#000" fill-opacity="0.5" stroke="#000" stroke-opacity="0.35" stroke-width="0.7"/>
<circle cx="586.1" cy="175.8" r="1.9" fill="#000" fill-opacity="0.5" stroke="#000" stroke-opacity="0.35" stroke-width="0.7"/>
<circle cx="585.7" cy="175.5" r="1.9" fill="#000" fill-opacity="0.5" stroke="#000" stroke-opacity="0.35" stroke-width="0.7"/>
<circle cx="585.4" cy="178.4" r="1.9" fill="#000" fill-opacity="0.5" stroke="#000" stroke-opacity="0.35" stroke-width="0.7"/>
<circle cx="585.7" cy="178.2" r="1.9" fill="#000" fill-opacity="0.5" stroke="#000" stroke-opacity="0.35" stroke-width="0.7"/>
<circle cx="586.0" cy="180.6" r="1.9" fill="#000" fill-opacity="0.5" stroke="#000" stroke-opacity="0.35" stroke-width="0.7"/>
<circle cx="584.7" cy="180.4" r="1.9" fill="#000" fill-opacity="0.5" stroke="#000" stroke-opacity="0.35" stroke-width="0.7"/>
<circle cx="585.6" cy="183.1" r="1.9" fill="#000" fill-opacity="0.5" stroke="#000" stroke-opacity="0.35" stroke-width="0.7"/>
<circle cx="585.4" cy="183.1" r="1.9" fill="#000" fill-opacity="0.5" stroke="#000" stroke-opacity="0.35" stroke-width="0.7"/>
<circle cx="584.7" cy="183.5" r="1.9" fill="#000" fill-opacity="0.5" stroke="#000" stroke-opacity="0.35" stroke-width="0.7"/>
<circle cx="584.8" cy="186.0" r="1.9" fill="#000" fill-opacity="0.5" stroke="#000" stroke-opacity="0.35" stroke-width="0.7"/>
<circle cx="584.9" cy="188.3" r="1.9" fill="#000" fill-opacity="0.5" stroke="#000" stroke-opacity="0.35" stroke-width="0.7"/>
<circle cx="585.4" cy="188.9" r="1.9" fill="#000" fill-opacity="0.5" stroke="#000" stroke-opacity="0.35" stroke-width="0.7"/>
<circle cx="585.9" cy="191.5" r="1.9" fill="#000" fill-opacity="0.5" stroke="#000" stroke-opacity="0.35" stroke-width="0.7"/>
<circle cx="586.0" cy="193.6" r="1.9" fill="#000" fill-opacity="0.5" stroke="#000" stroke-opacity="0.35" stroke-width="0.7"/>
<circle cx="585.6" cy="196.3" r="1.9" fill="#000" fill-opacity="0.5" stroke="#000" stroke-opacity="0.35" stroke-width="0.7"/>
<circle cx="585.9" cy="196.2" r="1.9" fill="#000" fill-opacity="0.5" stroke="#000" stroke-opacity="0.35" stroke-width="0.7"/>
<circle cx="584.9" cy="198.8" r="1.9" fill="#000" fill-opacity="0.5" stroke="#000" stroke-opacity="0.35" stroke-width="0.7"/>
<circle cx="586.2" cy="201.7" r="1.9" fill="#000" fill-opacity="0.5" stroke="#000" stroke-opacity="0.35" stroke-width="0.7"/>
<circle cx="585.2" cy="201.5" r="1.9" fill="#000" fill-opacity="0.5" stroke="#000" stroke-opacity="0.35" stroke-width="0.7"/>
<circle cx="585.5" cy="204.0" r="1.9" fill="#000" fill-opacity="0.5" stroke="#000" stroke-opacity="0.35" stroke-width="0.7"/>
<circle cx="585.8" cy="207.2" r="1.9" fill="#000" fill-opacity="0.5" stroke="#000" stroke-opacity="0.35" stroke-width="0.7"/>
<circle cx="584.6" cy="209.7" r="1.9" fill="#000" fill-opacity="0.5" stroke="#000" stroke-opacity="0.35" stroke-width="0.7"/>
<circle cx="586.1" cy="212.3" r="1.9" fill="#000" fill-opacity="0.5" stroke="#000" stroke-opacity="0.35" stroke-width="0.7"/>
<circle cx="586.2" cy="214.4" r="1.9" fill="#000" fill-opacity="0.5" stroke="#000" stroke-opacity="0.35" stroke-width="0.7"/>
<circle cx="584.9" cy="217.6" r="1.9" fill="#000" fill-opacity="0.5" stroke="#000" stroke-opacity="0.35" stroke-width="0.7"/>
<circle cx="584.9" cy="219.5" r="1.9" fill="#000" fill-opacity="0.5" stroke="#000" stroke-opacity="0.35" stroke-width="0.7"/>
<circle cx="585.5" cy="219.5" r="1.9" fill="#000" fill-opacity="0.5" stroke="#000" stroke-opacity="0.35" stroke-width="0.7"/>
<circle cx="585.7" cy="220.0" r="1.9" fill="#000" fill-opacity="0.5" stroke="#000" stroke-opacity="0.35" stroke-width="0.7"/>
<circle cx="584.8" cy="222.5" r="1.9" fill="#000" fill-opacity="0.5" stroke="#000" stroke-opacity="0.35" stroke-width="0.7"/>
<circle cx="585.2" cy="224.6" r="1.9" fill="#000" fill-opacity="0.5" stroke="#000" stroke-opacity="0.35" stroke-width="0.7"/>
<circle cx="585.2" cy="224.6" r="1.9" fill="#000" fill-opacity="0.5" stroke="#000" stroke-opacity="0.35" stroke-width="0.7"/>
<circle cx="586.4" cy="224.6" r="1.9" fill="#000" fill-opacity="0.5" stroke="#000" stroke-opacity="0.35" stroke-width="0.7"/>
<circle cx="586.1" cy="227.9" r="1.9" fill="#000" fill-opacity="0.5" stroke="#000" stroke-opacity="0.35" stroke-width="0.7"/>
<circle cx="585.8" cy="229.9" r="1.9" fill="#000" fill-opacity="0.5" stroke="#000" stroke-opacity="0.35" stroke-width="0.7"/>
<circle cx="585.2" cy="230.0" r="1.9" fill="#000" fill-opacity="0.5" stroke="#000" stroke-opacity="0.35" stroke-width="0.7"/>
<circle cx="585.5" cy="236.6" r="1.9" fill="#000" fill-opacity="0.5" stroke="#000" stroke-opacity="0.35" stroke-width="0.7"/>
<circle cx="585.5" cy="242.2" r="1.9" fill="#000" fill-opacity="0.5" stroke="#000" stroke-opacity="0.35" stroke-width="0.7"/>
<circle cx="591.6" cy="82.7" r="1.9" fill="#000" fill-opacity="0.5" stroke="#000" stroke-opacity="0.35" stroke-width="0.7"/>
<circle cx="591.6" cy="85.5" r="1.9" fill="#000" fill-opacity="0.5" stroke="#000" stroke-opacity="0.35" stroke-width="0.7"/>
<circle cx="591.6" cy="85.5" r="1.9" fill="#000" fill-opacity="0.5" stroke="#000" stroke-opacity="0.35" stroke-width="0.7"/>
<circle cx="591.6" cy="114.7" r="1.9" fill="#000" fill-opacity="0.5" stroke="#000" stroke-opacity="0.35" stroke-width="0.7"/>
<circle cx="591.6" cy="130.8" r="1.9" fill="#000" fill-opacity="0.5" stroke="#000" stroke-opacity="0.35" stroke-width="0.7"/>
<circle cx="591.6" cy="137.0" r="1.9" fill="#000" fill-opacity="0.5" stroke="#000" stroke-opacity="0.35" stroke-width="0.7"/>
<circle cx="591.6" cy="141.6" r="1.9" fill="#000" fill-opacity="0.5" stroke="#000" stroke-opacity="0.35" stroke-width="0.7"/>
<circle cx="591.6" cy="144.6" r="1.9" fill="#000" fill-opacity="0.5" stroke="#000" stroke-opacity="0.35" stroke-width="0.7"/>
<circle cx="591.6" cy="154.3" r="1.9" fill="#000" fill-opacity="0.5" stroke="#000" stroke-opacity="0.35" stroke-width="0.7"/>
<circle cx="591.6" cy="157.4" r="1.9" fill="#000" fill-opacity="0.5" stroke="#000" stroke-opacity="0.35" stroke-width="0.7"/>
<circle cx="591.7" cy="159.7" r="1.9" fill="#000" fill-opacity="0.5" stroke="#000" stroke-opacity="0.35" stroke-width="0.7"/>
<circle cx="590.9" cy="159.9" r="1.9" fill="#000" fill-opacity="0.5" stroke="#000" stroke-opacity="0.35" stroke-width="0.7"/>
<circle cx="591.0" cy="162.6" r="1.9" fill="#000" fill-opacity="0.5" stroke="#000" stroke-opacity="0.35" stroke-width="0.7"/>
<circle cx="591.9" cy="162.5" r="1.9" fill="#000" fill-opacity="0.5" stroke="#000" stroke-opacity="0.35" stroke-width="0.7"/>
<circle cx="591.2" cy="163.0" r="1.9" fill="#000" fill-opacity="0.5" stroke="#000" stroke-opacity="0.35" stroke-width="0.7"/>
<circle cx="591.5" cy="164.8" r="1.9" fill="#000" fill-opacity="0.5" stroke="#000" stroke-opacity="0.35" stroke-width="0.7"/>
<circle cx="592.0" cy="165.5" r="1.9" fill="#000" fill-opacity="0.5" stroke="#000" stroke-opacity="0.35" stroke-width="0.7"/>
<circle cx="591.4" cy="168.1" r="1.9" fill="#000" fill-opacity="0.5" stroke="#000" stroke-opacity="0.35" stroke-width="0.7"/>
<circle cx="592.5" cy="167.7" r="1.9" fill="#000" fill-opacity="0.5" stroke="#000" stroke-opacity="0.35" stroke-width="0.7"/>
<circle cx="591.4" cy="170.3" r="1.9" fill="#000" fill-opacity="0.5" stroke="#000" stroke-opacity="0.35" stroke-width="0.7"/>
<circle cx="591.5" cy="172.7" r="1.9" fill="#000" fill-opacity="0.5" stroke="#000" stroke-opacity="0.35" stroke-width="0.7"/>
<circle cx="592.2" cy="175.5" r="1.9" fill="#000" fill-opacity="0.5" stroke="#000" stroke-opacity="0.35" stroke-width="0.7"/>
<circle cx="591.5" cy="177.9" r="1.9" fill="#000" fill-opacity="0.5" stroke="#000" stroke-opacity="0.35" stroke-width="0.7"/>
<circle cx="590.7" cy="178.2" r="1.9" fill="#000" fill-opacity="0.5" stroke="#000" stroke-opacity="0.35" stroke-width="0.7"/>
<circle cx="590.9" cy="180.9" r="1.9" fill="#000" fill-opacity="0.5" stroke="#000" stroke-opacity="0.35" stroke-width="0.7"/>
<circle cx="591.4" cy="180.8" r="1.9" fill="#000" fill-opacity="0.5" stroke="#000" stroke-opacity="0.35" stroke-width="0.7"/>
<circle cx="591.3" cy="183.1" r="1.9" fill="#000" fill-opacity="0.5" stroke="#000" stroke-opacity="0.35" stroke-width="0.7"/>
<circle cx="592.4" cy="185.7" r="1.9" fill="#000" fill-opacity="0.5" stroke="#000" stroke-opacity="0.35" stroke-width="0.7"/>
<circle cx="592.1" cy="188.8" r="1.9" fill="#000" fill-opacity="0.5" stroke="#000" stroke-opacity="0.35" stroke-width="0.7"/>
<circle cx="592.1" cy="188.4" r="1.9" fill="#000" fill-opacity="0.5" stroke="#000" stroke-opacity="0.35" stroke-width="0.7"/>
<circle cx="592.5" cy="191.2" r="1.9" fill="#000" fill-opacity="0.5" stroke="#000" stroke-opacity="0.35" stroke-width="0.7"/>
<circle cx="591.8" cy="193.9" r="1.9" fill="#000" fill-opacity="0.5" stroke="#000" stroke-opacity="0.35" stroke-width="0.7"/>
<circle cx="592.3" cy="196.5" r="1.9" fill="#000" fill-opacity="0.5" stroke="#000" stroke-opacity="0.35" stroke-width="0.7"/>
<circle cx="591.9" cy="199.3" r="1.9" fill="#000" fill-opacity="0.5" stroke="#000" stroke-opacity="0.35" stroke-width="0.7"/>
<circle cx="591.4" cy="201.9" r="1.9" fill="#000" fill-opacity="0.5" stroke="#000" stroke-opacity="0.35" stroke-width="0.7"/>
<circle cx="592.2" cy="201.3" r="1.9" fill="#000" fill-opacity="0.5" stroke="#000" stroke-opacity="0.35" stroke-width="0.7"/>
<circle cx="591.1" cy="201.5" r="1.9" fill="#000" fill-opacity="0.5" stroke="#000" stroke-opacity="0.35" stroke-width="0.7"/>
<circle cx="591.0" cy="204.1" r="1.9" fill="#000" fill-opacity="0.5" stroke="#000" stroke-opacity="0.35" stroke-width="0.7"/>
<circle cx="591.0" cy="204.6" r="1.9" fill="#000" fill-opacity="0.5" stroke="#000" stroke-opacity="0.35" stroke-width="0.7"/>
<circle cx="592.2" cy="204.0" r="1.9" fill="#000" fill-opacity="0.5" stroke="#000" stroke-opacity="0.35" stroke-width="0.7"/>
<circle cx="592.2" cy="206.9" r="1.9" fill="#000" fill-opacity="0.5" stroke="#000" stroke-opacity="0.35" stroke-width="0.7"/>
<circle cx="591.9" cy="206.7" r="1.9" fill="#000" fill-opacity="0.5" stroke="#000" stroke-opacity="0.35" stroke-width="0.7"/>
<circle cx="591.4" cy="206.8" r="1.9" fill="#000" fill-opacity="0.5" stroke="#000" stroke-opacity="0.35" stroke-width="0.7"/>
<circle cx="591.9" cy="209.2" r="1.9" fill="#000" fill-opacity="0.5" stroke="#000" stroke-opacity="0.35" stroke-width="0.7"/>
<circle cx="591.1" cy="209.3" r="1.9" fill="#000" fill-opacity="0.5" stroke="#000" stroke-opacity="0.35" stroke-width="0.7"/>
<circle cx="591.5" cy="212.0" r="1.9" fill="#000" fill-opacity="0.5" stroke="#000" stroke-opacity="0.35" stroke-width="0.7"/>
<circle cx="590.7" cy="212.1" r="1.9" fill="#000" fill-opacity="0.5" stroke="#000" stroke-opacity="0.35" stroke-width="0.7"/>
<circle cx="591.5" cy="214.6" r="1.9" fill="#000" fill-opacity="0.5" stroke="#000" stroke-opacity="0.35" stroke-width="0.7"/>
<circle cx="591.8" cy="214.9" r="1.9" fill="#000" fill-opacity="0.5" stroke="#000" stroke-opacity="0.35" stroke-width="0.7"/>
<circle cx="592.2" cy="217.1" r="1.9" fill="#000" fill-opacity="0.5" stroke="#000" stroke-opacity="0.35" stroke-width="0.7"/>
<circle cx="590.9" cy="219.7" r="1.9" fill="#000" fill-opacity="0.5" stroke="#000" stroke-opacity="0.35" stroke-width="0.7"/>
<circle cx="592.1" cy="222.4" r="1.9" fill="#000" fill-opacity="0.5" stroke="#000" stroke-opacity="0.35" stroke-width="0.7"/>
<circle cx="590.8" cy="224.7" r="1.9" fill="#000" fill-opacity="0.5" stroke="#000" stroke-opacity="0.35" stroke-width="0.7"/>
<circle cx="592.1" cy="227.6" r="1.9" fill="#000" fill-opacity="0.5" stroke="#000" stroke-opacity="0.35" stroke-width="0.7"/>
<circle cx="590.8" cy="227.6" r="1.9" fill="#000" fill-opacity="0.5" stroke="#000" stroke-opacity="0.35" stroke-width="0.7"/>
<circle cx="591.9" cy="230.4" r="1.9" fill="#000" fill-opacity="0.5" stroke="#000" stroke-opacity="0.35" stroke-width="0.7"/>
<circle cx="590.7" cy="229.9" r="1.9" fill="#000" fill-opacity="0.5" stroke="#000" stroke-opacity="0.35" stroke-width="0.7"/>
<circle cx="592.0" cy="233.1" r="1.9" fill="#000" fill-opacity="0.5" stroke="#000" stroke-opacity="0.35" stroke-width="0.7"/>
<circle cx="591.0" cy="233.2" r="1.9" fill="#000" fill-opacity="0.5" stroke="#000" stroke-opacity="0.35" stroke-width="0.7"/>
<circle cx="591.6" cy="233.2" r="1.9" fill="#000" fill-opacity="0.5" stroke="#000" stroke-opacity="0.35" stroke-width="0.7"/>
<circle cx="591.6" cy="237.6" r="1.9" fill="#000" fill-opacity="0.5" stroke="#000" stroke-opacity="0.35" stroke-width="0.7"/>
<circle cx="591.6" cy="239.6" r="1.9" fill="#000" fill-opacity="0.5" stroke="#000" stroke-opacity="0.35" stroke-width="0.7"/>
<circle cx="591.6" cy="242.2" r="1.9" fill="#000" fill-opacity="0.5" stroke="#000" stroke-opacity="0.35" stroke-width="0.7"/>
<circle cx="594.9" cy="66.3" r="1.9" fill="#000" fill-opacity="0.5" stroke="#000" stroke-opacity="0.35" stroke-width="0.7"/>
<circle cx="594.9" cy="85.5" r="1.9" fill="#000" fill-opacity="0.5" stroke="#000" stroke-opacity="0.35" stroke-width="0.7"/>
<circle cx="594.9" cy="93.7" r="1.9" fill="#000" fill-opacity="0.5" stroke="#000" stroke-opacity="0.35" stroke-width="0.7"/>
<circle cx="594.9" cy="119.8" r="1.9" fill="#000" fill-opacity="0.5" stroke="#000" stroke-opacity="0.35" stroke-width="0.7"/>
<circle cx="594.9" cy="130.8" r="1.9" fill="#000" fill-opacity="0.5" stroke="#000" stroke-opacity="0.35" stroke-width="0.7"/>
<circle cx="594.9" cy="133.9" r="1.9" fill="#000" fill-opacity="0.5" stroke="#000" stroke-opacity="0.35" stroke-width="0.7"/>
<circle cx="594.9" cy="140.0" r="1.9" fill="#000" fill-opacity="0.5" stroke="#000" stroke-opacity="0.35" stroke-width="0.7"/>
<circle cx="594.9" cy="150.3" r="1.9" fill="#000" fill-opacity="0.5" stroke="#000" stroke-opacity="0.35" stroke-width="0.7"/>
<circle cx="594.9" cy="157.4" r="1.9" fill="#000" fill-opacity="0.5" stroke="#000" stroke-opacity="0.35" stroke-width="0.7"/>
<circle cx="595.2" cy="160.2" r="1.9" fill="#000" fill-opacity="0.5" stroke="#000" stroke-opacity="0.35" stroke-width="0.7"/>
<circle cx="594.1" cy="162.5" r="1.9" fill="#000" fill-opacity="0.5" stroke="#000" stroke-opacity="0.35" stroke-width="0.7"/>
<circle cx="594.3" cy="165.5" r="1.9" fill="#000" fill-opacity="0.5" stroke="#000" stroke-opacity="0.35" stroke-width="0.7"/>
<circle cx="594.5" cy="165.5" r="1.9" fill="#000" fill-opacity="0.5" stroke="#000" stroke-opacity="0.35" stroke-width="0.7"/>
<circle cx="594.5" cy="168.2" r="1.9" fill="#000" fill-opacity="0.5" stroke="#000" stroke-opacity="0.35" stroke-width="0.7"/>
<circle cx="594.4" cy="170.2" r="1.9" fill="#000" fill-opacity="0.5" stroke="#000" stroke-opacity="0.35" stroke-width="0.7"/>
<circle cx="594.9" cy="170.3" r="1.9" fill="#000" fill-opacity="0.5" stroke="#000" stroke-opacity="0.35" stroke-width="0.7"/>
<circle cx="594.4" cy="172.9" r="1.9" fill="#000" fill-opacity="0.5" stroke="#000" stroke-opacity="0.35" stroke-width="0.7"/>
<circle cx="595.2" cy="175.9" r="1.9" fill="#000" fill-opacity="0.5" stroke="#000" stroke-opacity="0.35" stroke-width="0.7"/>
<circle cx="594.3" cy="175.8" r="1.9" fill="#000" fill-opacity="0.5" stroke="#000" stroke-opacity="0.35" stroke-width="0.7"/>
<circle cx="595.4" cy="177.8" r="1.9" fill="#000" fill-opacity="0.5" stroke="#000" stroke-opacity="0.35" stroke-width="0.7"/>
<circle cx="595.7" cy="180.8" r="1.9" fill="#000" fill-opacity="0.5" stroke="#000" stroke-opacity="0.35" stroke-width="0.7"/>
<circle cx="594.9" cy="181.0" r="1.9" fill="#000" fill-opacity="0.5" stroke="#000" stroke-opacity="0.35" stroke-width="0.7"/>
<circle cx="594.5" cy="183.4" r="1.9" fill="#000" fill-opacity="0.5" stroke="#000" stroke-opacity="0.35" stroke-width="0.7"/>
<circle cx="595.3" cy="185.9" r="1.9" fill="#000" fill-opacity="0.5" stroke="#000" stroke-opacity="0.35" stroke-width="0.7"/>
<circle cx="594.7" cy="185.9" r="1.9" fill="#000" fill-opacity="0.5" stroke="#000" stroke-opacity="0.35" stroke-width="0.7"/>
<circle cx="594.6" cy="188.8" r="1.9" fill="#000" fill-opacity="0.5" stroke="#000" stroke-opacity="0.35" stroke-width="0.7"/>
<circle cx="594.4" cy="191.3" r="1.9" fill="#000" fill-opacity="0.5" stroke="#000" stroke-opacity="0.35" stroke-width="0.7"/>
<circle cx="595.7" cy="191.0" r="1.9" fill="#000" fill-opacity="0.5" stroke="#000" stroke-opacity="0.35" stroke-width="0.7"/>
<circle cx="594.5" cy="193.9" r="1.9" fill="#000" fill-opacity="0.5" stroke="#000" stroke-opacity="0.35" stroke-width="0.7"/>
<circle cx="595.8" cy="193.9" r="1.9" fill="#000" fill-opacity="0.5" stroke="#000" stroke-opacity="0.35" stroke-width="0.7"/>
<circle cx="595.2" cy="193.7" r="1.9" fill="#000" fill-opacity="0.5" stroke="#000" stroke-opacity="0.35" stroke-width="0.7"/>
<circle cx="595.3" cy="196.2" r="1.9" fill="#000" fill-opacity="0.5" stroke="#000" stroke-opacity="0.35" stroke-width="0.7"/>
<circle cx="595.1" cy="198.9" r="1.9" fill="#000" fill-opacity="0.5" stroke="#000" stroke-opacity="0.35" stroke-width="0.7"/>
<circle cx="594.9" cy="199.3" r="1.9" fill="#000" fill-opacity="0.5" stroke="#000" stroke-opacity="0.35" stroke-width="0.7"/>
<circle cx="594.9" cy="201.7" r="1.9" fill="#000" fill-opacity="0.5" stroke="#000" stroke-opacity="0.35" stroke-width="0.7"/>
<circle cx="594.0" cy="203.8" r="1.9" fill="#000" fill-opacity="0.5" stroke="#000" stroke-opacity="0.35" stroke-width="0.7"/>
<circle cx="594.5" cy="206.8" r="1.9" fill="#000" fill-opacity="0.5" stroke="#000" stroke-opacity="0.35" stroke-width="0.7"/>
<circle cx="595.0" cy="206.7" r="1.9" fill="#000" fill-opacity="0.5" stroke="#000" stroke-opacity="0.35" stroke-width="0.7"/>
<circle cx="595.1" cy="209.2" r="1.9" fill="#000" fill-opacity="0.5" stroke="#000" stroke-opacity="0.35" stroke-width="0.7"/>
<circle cx="595.1" cy="209.4" r="1.9" fill="#000" fill-opacity="0.5" stroke="#000" stroke-opacity="0.35" stroke-width="0.7"/>
<circle cx="594.0" cy="212.2" r="1.9" fill="#000" fill-opacity="0.5" stroke="#000" stroke-opacity="0.35" stroke-width="0.7"/>
<circle cx="594.8" cy="214.3" r="1.9" fill="#000" fill-opacity="0.5" stroke="#000" stroke-opacity="0.35" stroke-width="0.7"/>
<circle cx="595.6" cy="217.4" r="1.9" fill="#000" fill-opacity="0.5" stroke="#000" stroke-opacity="0.35" stroke-width="0.7"/>
<circle cx="595.5" cy="220.2" r="1.9" fill="#000" fill-opacity="0.5" stroke="#000" stroke-opacity="0.35" stroke-width="0.7"/>
<circle cx="594.1" cy="220.1" r="1.9" fill="#000" fill-opacity="0.5" stroke="#000" stroke-opacity="0.35" stroke-width="0.7"/>
<circle cx="595.1" cy="222.5" r="1.9" fill="#000" fill-opacity="0.5" stroke="#000" stroke-opacity="0.35" stroke-width="0.7"/>
<circle cx="595.1" cy="222.4" r="1.9" fill="#000" fill-opacity="0.5" stroke="#000" stroke-opacity="0.35" stroke-width="0.7"/>
<circle cx="594.4" cy="225.3" r="1.9" fill="#000" fill-opacity="0.5" stroke="#000" stroke-opacity="0.35" stroke-width="0.7"/>
<circle cx="594.1" cy="225.0" r="1.9" fill="#000" fill-opacity="0.5" stroke="#000" stroke-opacity="0.35" stroke-width="0.7"/>
<circle cx="594.3" cy="227.3" r="1.9" fill="#000" fill-opacity="0.5" stroke="#000" stroke-opacity="0.35" stroke-width="0.7"/>
<circle cx="595.6" cy="227.3" r="1.9" fill="#000" fill-opacity="0.5" stroke="#000" stroke-opacity="0.35" stroke-width="0.7"/>
<circle cx="595.0" cy="230.6" r="1.9" fill="#000" fill-opacity="0.5" stroke="#000" stroke-opacity="0.35" stroke-width="0.7"/>
<circle cx="594.3" cy="230.0" r="1.9" fill="#000" fill-opacity="0.5" stroke="#000" stroke-opacity="0.35" stroke-width="0.7"/>
<circle cx="595.1" cy="230.2" r="1.9" fill="#000" fill-opacity="0.5" stroke="#000" stroke-opacity="0.35" stroke-width="0.7"/>
<circle cx="595.5" cy="232.5" r="1.9" fill="#000" fill-opacity="0.5" stroke="#000" stroke-opacity="0.35" stroke-width="0.7"/>
<circle cx="594.6" cy="232.6" r="1.9" fill="#000" fill-opacity="0.5" stroke="#000" stroke-opacity="0.35" stroke-width="0.7"/>
<circle cx="594.9" cy="237.6" r="1.9" fill="#000" fill-opacity="0.5" stroke="#000" stroke-opacity="0.35" stroke-width="0.7"/>
<circle cx="601.2" cy="85.5" r="1.9" fill="#000" fill-opacity="0.5" stroke="#000" stroke-opacity="0.35" stroke-width="0.7"/>
<circle cx="601.2" cy="113.4" r="1.9" fill="#000" fill-opacity="0.5" stroke="#000" stroke-opacity="0.35" stroke-width="0.7"/>
<circle cx="601.2" cy="130.8" r="1.9" fill="#000" fill-opacity="0.5" stroke="#000" stroke-opacity="0.35" stroke-width="0.7"/>
<circle cx="601.2" cy="140.0" r="1.9" fill="#000" fill-opacity="0.5" stroke="#000" stroke-opacity="0.35" stroke-width="0.7"/>
<circle cx="601.2" cy="144.1" r="1.9" fill="#000" fill-opacity="0.5" stroke="#000" stroke-opacity="0.35" stroke-width="0.7"/>
<circle cx="601.2" cy="149.7" r="1.9" fill="#000" fill-opacity="0.5" stroke="#000" stroke-opacity="0.35" stroke-width="0.7"/>
<circle cx="601.2" cy="154.3" r="1.9" fill="#000" fill-opacity="0.5" stroke="#000" stroke-opacity="0.35" stroke-width="0.7"/>
<circle cx="601.2" cy="159.5" r="1.9" fill="#000" fill-opacity="0.5" stroke="#000" stroke-opacity="0.35" stroke-width="0.7"/>
<circle cx="601.2" cy="162.5" r="1.9" fill="#000" fill-opacity="0.5" stroke="#000" stroke-opacity="0.35" stroke-width="0.7"/>
<circle cx="602.1" cy="165.2" r="1.9" fill="#000" fill-opacity="0.5" stroke="#000" stroke-opacity="0.35" stroke-width="0.7"/>
<circle cx="601.6" cy="166.6" r="1.9" fill="#000" fill-opacity="0.5" stroke="#000" stroke-opacity="0.35" stroke-width="0.7"/>
<circle cx="601.8" cy="167.2" r="1.9" fill="#000" fill-opacity="0.5" stroke="#000" stroke-opacity="0.35" stroke-width="0.7"/>
<circle cx="600.4" cy="169.1" r="1.9" fill="#000" fill-opacity="0.5" stroke="#000" stroke-opacity="0.35" stroke-width="0.7"/>
<circle cx="600.6" cy="169.4" r="1.9" fill="#000" fill-opacity="0.5" stroke="#000" stroke-opacity="0.35" stroke-width="0.7"/>
<circle cx="600.7" cy="170.6" r="1.9" fill="#000" fill-opacity="0.5" stroke="#000" stroke-opacity="0.35" stroke-width="0.7"/>
<circle cx="600.9" cy="171.2" r="1.9" fill="#000" fill-opacity="0.5" stroke="#000" stroke-opacity="0.35" stroke-width="0.7"/>
<circle cx="601.6" cy="172.8" r="1.9" fill="#000" fill-opacity="0.5" stroke="#000" stroke-opacity="0.35" stroke-width="0.7"/>
<circle cx="601.3" cy="172.9" r="1.9" fill="#000" fill-opacity="0.5" stroke="#000" stroke-opacity="0.35" stroke-width="0.7"/>
<circle cx="602.0" cy="174.8" r="1.9" fill="#000" fill-opacity="0.5" stroke="#000" stroke-opacity="0.35" stroke-width="0.7"/>
<circle cx="602.0" cy="175.3" r="1.9" fill="#000" fill-opacity="0.5" stroke="#000" stroke-opacity="0.35" stroke-width="0.7"/>
<circle cx="600.5" cy="175.0" r="1.9" fill="#000" fill-opacity="0.5" stroke="#000" stroke-opacity="0.35" stroke-width="0.7"/>
<circle cx="600.8" cy="176.8" r="1.9" fill="#000" fill-opacity="0.5" stroke="#000" stroke-opacity="0.35" stroke-width="0.7"/>
<circle cx="602.0" cy="179.2" r="1.9" fill="#000" fill-opacity="0.5" stroke="#000" stroke-opacity="0.35" stroke-width="0.7"/>
<circle cx="600.6" cy="180.9" r="1.9" fill="#000" fill-opacity="0.5" stroke="#000" stroke-opacity="0.35" stroke-width="0.7"/>
<circle cx="601.4" cy="180.9" r="1.9" fill="#000" fill-opacity="0.5" stroke="#000" stroke-opacity="0.35" stroke-width="0.7"/>
<circle cx="601.1" cy="183.3" r="1.9" fill="#000" fill-opacity="0.5" stroke="#000" stroke-opacity="0.35" stroke-width="0.7"/>
<circle cx="601.6" cy="183.3" r="1.9" fill="#000" fill-opacity="0.5" stroke="#000" stroke-opacity="0.35" stroke-width="0.7"/>
<circle cx="601.1" cy="183.2" r="1.9" fill="#000" fill-opacity="0.5" stroke="#000" stroke-opacity="0.35" stroke-width="0.7"/>
<circle cx="601.9" cy="185.2" r="1.9" fill="#000" fill-opacity="0.5" stroke="#000" stroke-opacity="0.35" stroke-width="0.7"/>
<circle cx="601.0" cy="185.1" r="1.9" fill="#000" fill-opacity="0.5" stroke="#000" stroke-opacity="0.35" stroke-width="0.7"/>
<circle cx="601.3" cy="184.7" r="1.9" fill="#000" fill-opacity="0.5" stroke="#000" stroke-opacity="0.35" stroke-width="0.7"/>
<circle cx="600.3" cy="186.7" r="1.9" fill="#000" fill-opacity="0.5" stroke="#000" stroke-opacity="0.35" stroke-width="0.7"/>
<circle cx="600.9" cy="188.7" r="1.9" fill="#000" fill-opacity="0.5" stroke="#000" stroke-opacity="0.35" stroke-width="0.7"/>
<circle cx="600.4" cy="190.7" r="1.9" fill="#000" fill-opacity="0.5" stroke="#000" stroke-opacity="0.35" stroke-width="0.7"/>
<circle cx="601.6" cy="193.2" r="1.9" fill="#000" fill-opacity="0.5" stroke="#000" stroke-opacity="0.35" stroke-width="0.7"/>
<circle cx="601.8" cy="195.2" r="1.9" fill="#000" fill-opacity="0.5" stroke="#000" stroke-opacity="0.35" stroke-width="0.7"/>
<circle cx="601.8" cy="197.3" r="1.9" fill="#000" fill-opacity="0.5" stroke="#000" stroke-opacity="0.35" stroke-width="0.7"/>
<circle cx="601.9" cy="199.2" r="1.9" fill="#000" fill-opacity="0.5" stroke="#000" stroke-opacity="0.35" stroke-width="0.7"/>
<circle cx="600.5" cy="200.8" r="1.9" fill="#000" fill-opacity="0.5" stroke="#000" stroke-opacity="0.35" stroke-width="0.7"/>
<circle cx="600.5" cy="200.6" r="1.9" fill="#000" fill-opacity="0.5" stroke="#000" stroke-opacity="0.35" stroke-width="0.7"/>
<circle cx="601.8" cy="203.1" r="1.9" fill="#000" fill-opacity="0.5" stroke="#000" stroke-opacity="0.35" stroke-width="0.7"/>
<circle cx="601.2" cy="204.7" r="1.9" fill="#000" fill-opacity="0.5" stroke="#000" stroke-opacity="0.35" stroke-width="0.7"/>
<circle cx="601.7" cy="205.1" r="1.9" fill="#000" fill-opacity="0.5" stroke="#000" stroke-opacity="0.35" stroke-width="0.7"/>
<circle cx="601.2" cy="212.0" r="1.9" fill="#000" fill-opacity="0.5" stroke="#000" stroke-opacity="0.35" stroke-width="0.7"/>
<circle cx="601.2" cy="214.6" r="1.9" fill="#000" fill-opacity="0.5" stroke="#000" stroke-opacity="0.35" stroke-width="0.7"/>
<circle cx="601.2" cy="220.2" r="1.9" fill="#000" fill-opacity="0.5" stroke="#000" stroke-opacity="0.35" stroke-width="0.7"/>
<circle cx="601.2" cy="230.4" r="1.9" fill="#000" fill-opacity="0.5" stroke="#000" stroke-opacity="0.35" stroke-width="0.7"/>
<circle cx="611.2" cy="74.0" r="1.9" fill="#000" fill-opacity="0.5" stroke="#000" stroke-opacity="0.35" stroke-width="0.7"/>
<circle cx="611.2" cy="85.5" r="1.9" fill="#000" fill-opacity="0.5" stroke="#000" stroke-opacity="0.35" stroke-width="0.7"/>
<circle cx="611.2" cy="130.8" r="1.9" fill="#000" fill-opacity="0.5" stroke="#000" stroke-opacity="0.35" stroke-width="0.7"/>
<circle cx="611.2" cy="133.9" r="1.9" fill="#000" fill-opacity="0.5" stroke="#000" stroke-opacity="0.35" stroke-width="0.7"/>
<circle cx="611.2" cy="140.0" r="1.9" fill="#000" fill-opacity="0.5" stroke="#000" stroke-opacity="0.35" stroke-width="0.7"/>
<circle cx="611.2" cy="149.7" r="1.9" fill="#000" fill-opacity="0.5" stroke="#000" stroke-opacity="0.35" stroke-width="0.7"/>
<circle cx="611.2" cy="154.3" r="1.9" fill="#000" fill-opacity="0.5" stroke="#000" stroke-opacity="0.35" stroke-width="0.7"/>
<circle cx="611.2" cy="159.5" r="1.9" fill="#000" fill-opacity="0.5" stroke="#000" stroke-opacity="0.35" stroke-width="0.7"/>
<circle cx="611.2" cy="162.5" r="1.9" fill="#000" fill-opacity="0.5" stroke="#000" stroke-opacity="0.35" stroke-width="0.7"/>
<circle cx="610.9" cy="164.9" r="1.9" fill="#000" fill-opacity="0.5" stroke="#000" stroke-opacity="0.35" stroke-width="0.7"/>
<circle cx="610.3" cy="164.8" r="1.9" fill="#000" fill-opacity="0.5" stroke="#000" stroke-opacity="0.35" stroke-width="0.7"/>
<circle cx="610.4" cy="167.8" r="1.9" fill="#000" fill-opacity="0.5" stroke="#000" stroke-opacity="0.35" stroke-width="0.7"/>
<circle cx="611.9" cy="167.8" r="1.9" fill="#000" fill-opacity="0.5" stroke="#000" stroke-opacity="0.35" stroke-width="0.7"/>
<circle cx="611.2" cy="170.5" r="1.9" fill="#000" fill-opacity="0.5" stroke="#000" stroke-opacity="0.35" stroke-width="0.7"/>
<circle cx="611.4" cy="169.8" r="1.9" fill="#000" fill-opacity="0.5" stroke="#000" stroke-opacity="0.35" stroke-width="0.7"/>
<circle cx="611.0" cy="170.1" r="1.9" fill="#000" fill-opacity="0.5" stroke="#000" stroke-opacity="0.35" stroke-width="0.7"/>
<circle cx="610.9" cy="173.0" r="1.9" fill="#000" fill-opacity="0.5" stroke="#000" stroke-opacity="0.35" stroke-width="0.7"/>
<circle cx="611.3" cy="175.6" r="1.9" fill="#000" fill-opacity="0.5" stroke="#000" stroke-opacity="0.35" stroke-width="0.7"/>
<circle cx="611.8" cy="175.5" r="1.9" fill="#000" fill-opacity="0.5" stroke="#000" stroke-opacity="0.35" stroke-width="0.7"/>
<circle cx="610.8" cy="175.3" r="1.9" fill="#000" fill-opacity="0.5" stroke="#000" stroke-opacity="0.35" stroke-width="0.7"/>
<circle cx="610.7" cy="178.2" r="1.9" fill="#000" fill-opacity="0.5" stroke="#000" stroke-opacity="0.35" stroke-width="0.7"/>
<circle cx="612.1" cy="177.6" r="1.9" fill="#000" fill-opacity="0.5" stroke="#000" stroke-opacity="0.35" stroke-width="0.7"/>
<circle cx="611.2" cy="178.0" r="1.9" fill="#000" fill-opacity="0.5" stroke="#000" stroke-opacity="0.35" stroke-width="0.7"/>
<circle cx="612.0" cy="180.7" r="1.9" fill="#000" fill-opacity="0.5" stroke="#000" stroke-opacity="0.35" stroke-width="0.7"/>
<circle cx="610.8" cy="183.6" r="1.9" fill="#000" fill-opacity="0.5" stroke="#000" stroke-opacity="0.35" stroke-width="0.7"/>
<circle cx="610.8" cy="183.0" r="1.9" fill="#000" fill-opacity="0.5" stroke="#000" stroke-opacity="0.35" stroke-width="0.7"/>
<circle cx="611.6" cy="183.2" r="1.9" fill="#000" fill-opacity="0.5" stroke="#000" stroke-opacity="0.35" stroke-width="0.7"/>
<circle cx="612.0" cy="186.0" r="1.9" fill="#000" fill-opacity="0.5" stroke="#000" stroke-opacity="0.35" stroke-width="0.7"/>
<circle cx="611.7" cy="192.2" r="1.9" fill="#000" fill-opacity="0.5" stroke="#000" stroke-opacity="0.35" stroke-width="0.7"/>
<circle cx="611.7" cy="192.1" r="1.9" fill="#000" fill-opacity="0.5" stroke="#000" stroke-opacity="0.35" stroke-width="0.7"/>
<circle cx="610.5" cy="194.9" r="1.9" fill="#000" fill-opacity="0.5" stroke="#000" stroke-opacity="0.35" stroke-width="0.7"/>
<circle cx="611.9" cy="194.8" r="1.9" fill="#000" fill-opacity="0.5" stroke="#000" stroke-opacity="0.35" stroke-width="0.7"/>
<circle cx="611.9" cy="196.8" r="1.9" fill="#000" fill-opacity="0.5" stroke="#000" stroke-opacity="0.35" stroke-width="0.7"/>
<circle cx="610.7" cy="197.0" r="1.9" fill="#000" fill-opacity="0.5" stroke="#000" stroke-opacity="0.35" stroke-width="0.7"/>
<circle cx="611.2" cy="203.9" r="1.9" fill="#000" fill-opacity="0.5" stroke="#000" stroke-opacity="0.35" stroke-width="0.7"/>
<circle cx="611.9" cy="203.8" r="1.9" fill="#000" fill-opacity="0.5" stroke="#000" stroke-opacity="0.35" stroke-width="0.7"/>
<circle cx="611.1" cy="204.0" r="1.9" fill="#000" fill-opacity="0.5" stroke="#000" stroke-opacity="0.35" stroke-width="0.7"/>
<circle cx="611.5" cy="206.5" r="1.9" fill="#000" fill-opacity="0.5" stroke="#000" stroke-opacity="0.35" stroke-width="0.7"/>
<circle cx="610.9" cy="206.3" r="1.9" fill="#000" fill-opacity="0.5" stroke="#000" stroke-opacity="0.35" stroke-width="0.7"/>
<circle cx="611.8" cy="206.7" r="1.9" fill="#000" fill-opacity="0.5" stroke="#000" stroke-opacity="0.35" stroke-width="0.7"/>
<circle cx="611.2" cy="211.5" r="1.9" fill="#000" fill-opacity="0.5" stroke="#000" stroke-opacity="0.35" stroke-width="0.7"/>
<circle cx="611.2" cy="214.6" r="1.9" fill="#000" fill-opacity="0.5" stroke="#000" stroke-opacity="0.35" stroke-width="0.7"/>
<circle cx="611.2" cy="220.2" r="1.9" fill="#000" fill-opacity="0.5" stroke="#000" stroke-opacity="0.35" stroke-width="0.7"/>
<circle cx="611.2" cy="229.9" r="1.9" fill="#000" fill-opacity="0.5" stroke="#000" stroke-opacity="0.35" stroke-width="0.7"/>
<circle cx="611.2" cy="231.5" r="1.9" fill="#000" fill-opacity="0.5" stroke="#000" stroke-opacity="0.35" stroke-width="0.7"/>
<circle cx="608.7" cy="166.0" r="1.9" fill="#000" fill-opacity="0.5" stroke="#000" stroke-opacity="0.35" stroke-width="0.7"/>
<circle cx="609.8" cy="166.1" r="1.9" fill="#000" fill-opacity="0.5" stroke="#000" stroke-opacity="0.35" stroke-width="0.7"/>
<circle cx="609.0" cy="168.7" r="1.9" fill="#000" fill-opacity="0.5" stroke="#000" stroke-opacity="0.35" stroke-width="0.7"/>
<circle cx="609.3" cy="171.0" r="1.9" fill="#000" fill-opacity="0.5" stroke="#000" stroke-opacity="0.35" stroke-width="0.7"/>
<circle cx="608.7" cy="173.5" r="1.9" fill="#000" fill-opacity="0.5" stroke="#000" stroke-opacity="0.35" stroke-width="0.7"/>
<circle cx="608.8" cy="173.7" r="1.9" fill="#000" fill-opacity="0.5" stroke="#000" stroke-opacity="0.35" stroke-width="0.7"/>
<circle cx="609.3" cy="173.5" r="1.9" fill="#000" fill-opacity="0.5" stroke="#000" stroke-opacity="0.35" stroke-width="0.7"/>
<circle cx="610.1" cy="176.2" r="1.9" fill="#000" fill-opacity="0.5" stroke="#000" stroke-opacity="0.35" stroke-width="0.7"/>
<circle cx="610.1" cy="176.8" r="1.9" fill="#000" fill-opacity="0.5" stroke="#000" stroke-opacity="0.35" stroke-width="0.7"/>
<circle cx="610.1" cy="178.7" r="1.9" fill="#000" fill-opacity="0.5" stroke="#000" stroke-opacity="0.35" stroke-width="0.7"/>
<circle cx="608.7" cy="181.3" r="1.9" fill="#000" fill-opacity="0.5" stroke="#000" stroke-opacity="0.35" stroke-width="0.7"/>
<circle cx="608.9" cy="181.4" r="1.9" fill="#000" fill-opacity="0.5" stroke="#000" stroke-opacity="0.35" stroke-width="0.7"/>
<circle cx="608.8" cy="184.3" r="1.9" fill="#000" fill-opacity="0.5" stroke="#000" stroke-opacity="0.35" stroke-width="0.7"/>
<circle cx="608.6" cy="184.0" r="1.9" fill="#000" fill-opacity="0.5" stroke="#000" stroke-opacity="0.35" stroke-width="0.7"/>
<circle cx="609.2" cy="186.4" r="1.9" fill="#000" fill-opacity="0.5" stroke="#000" stroke-opacity="0.35" stroke-width="0.7"/>
<circle cx="609.9" cy="186.7" r="1.9" fill="#000" fill-opacity="0.5" stroke="#000" stroke-opacity="0.35" stroke-width="0.7"/>
<circle cx="619.4" cy="74.0" r="1.9" fill="#000" fill-opacity="0.5" stroke="#000" stroke-opacity="0.35" stroke-width="0.7"/>
<circle cx="619.4" cy="130.8" r="1.9" fill="#000" fill-opacity="0.5" stroke="#000" stroke-opacity="0.35" stroke-width="0.7"/>
<circle cx="619.4" cy="133.9" r="1.9" fill="#000" fill-opacity="0.5" stroke="#000" stroke-opacity="0.35" stroke-width="0.7"/>
<circle cx="619.4" cy="140.0" r="1.9" fill="#000" fill-opacity="0.5" stroke="#000" stroke-opacity="0.35" stroke-width="0.7"/>
<circle cx="619.4" cy="147.2" r="1.9" fill="#000" fill-opacity="0.5" stroke="#000" stroke-opacity="0.35" stroke-width="0.7"/>
<circle cx="619.4" cy="159.5" r="1.9" fill="#000" fill-opacity="0.5" stroke="#000" stroke-opacity="0.35" stroke-width="0.7"/>
<circle cx="619.4" cy="165.1" r="1.9" fill="#000" fill-opacity="0.5" stroke="#000" stroke-opacity="0.35" stroke-width="0.7"/>
<circle cx="618.5" cy="167.4" r="1.9" fill="#000" fill-opacity="0.5" stroke="#000" stroke-opacity="0.35" stroke-width="0.7"/>
<circle cx="619.8" cy="167.2" r="1.9" fill="#000" fill-opacity="0.5" stroke="#000" stroke-opacity="0.35" stroke-width="0.7"/>
<circle cx="620.1" cy="170.1" r="1.9" fill="#000" fill-opacity="0.5" stroke="#000" stroke-opacity="0.35" stroke-width="0.7"/>
<circle cx="619.6" cy="172.9" r="1.9" fill="#000" fill-opacity="0.5" stroke="#000" stroke-opacity="0.35" stroke-width="0.7"/>
<circle cx="620.0" cy="172.9" r="1.9" fill="#000" fill-opacity="0.5" stroke="#000" stroke-opacity="0.35" stroke-width="0.7"/>
<circle cx="619.7" cy="173.1" r="1.9" fill="#000" fill-opacity="0.5" stroke="#000" stroke-opacity="0.35" stroke-width="0.7"/>
<circle cx="620.0" cy="175.5" r="1.9" fill="#000" fill-opacity="0.5" stroke="#000" stroke-opacity="0.35" stroke-width="0.7"/>
<circle cx="619.7" cy="175.4" r="1.9" fill="#000" fill-opacity="0.5" stroke="#000" stroke-opacity="0.35" stroke-width="0.7"/>
<circle cx="619.1" cy="175.5" r="1.9" fill="#000" fill-opacity="0.5" stroke="#000" stroke-opacity="0.35" stroke-width="0.7"/>
<circle cx="620.1" cy="177.8" r="1.9" fill="#000" fill-opacity="0.5" stroke="#000" stroke-opacity="0.35" stroke-width="0.7"/>
<circle cx="619.4" cy="192.6" r="1.9" fill="#000" fill-opacity="0.5" stroke="#000" stroke-opacity="0.35" stroke-width="0.7"/>
<circle cx="619.4" cy="206.9" r="1.9" fill="#000" fill-opacity="0.5" stroke="#000" stroke-opacity="0.35" stroke-width="0.7"/>
<circle cx="619.4" cy="219.7" r="1.9" fill="#000" fill-opacity="0.5" stroke="#000" stroke-opacity="0.35" stroke-width="0.7"/>
<circle cx="619.4" cy="229.9" r="1.9" fill="#000" fill-opacity="0.5" stroke="#000" stroke-opacity="0.35" stroke-width="0.7"/>
<circle cx="622.2" cy="85.5" r="1.9" fill="#000" fill-opacity="0.5" stroke="#000" stroke-opacity="0.35" stroke-width="0.7"/>
<circle cx="622.2" cy="130.8" r="1.9" fill="#000" fill-opacity="0.5" stroke="#000" stroke-opacity="0.35" stroke-width="0.7"/>
<circle cx="622.2" cy="133.9" r="1.9" fill="#000" fill-opacity="0.5" stroke="#000" stroke-opacity="0.35" stroke-width="0.7"/>
<circle cx="622.2" cy="140.0" r="1.9" fill="#000" fill-opacity="0.5" stroke="#000" stroke-opacity="0.35" stroke-width="0.7"/>
<circle cx="622.2" cy="149.7" r="1.9" fill="#000" fill-opacity="0.5" stroke="#000" stroke-opacity="0.35" stroke-width="0.7"/>
<circle cx="622.2" cy="162.5" r="1.9" fill="#000" fill-opacity="0.5" stroke="#000" stroke-opacity="0.35" stroke-width="0.7"/>
<circle cx="622.6" cy="165.1" r="1.9" fill="#000" fill-opacity="0.5" stroke="#000" stroke-opacity="0.35" stroke-width="0.7"/>
<circle cx="621.8" cy="164.9" r="1.9" fill="#000" fill-opacity="0.5" stroke="#000" stroke-opacity="0.35" stroke-width="0.7"/>
<circle cx="621.3" cy="167.9" r="1.9" fill="#000" fill-opacity="0.5" stroke="#000" stroke-opacity="0.35" stroke-width="0.7"/>
<circle cx="622.2" cy="167.7" r="1.9" fill="#000" fill-opacity="0.5" stroke="#000" stroke-opacity="0.35" stroke-width="0.7"/>
<circle cx="622.9" cy="170.1" r="1.9" fill="#000" fill-opacity="0.5" stroke="#000" stroke-opacity="0.35" stroke-width="0.7"/>
<circle cx="622.0" cy="172.8" r="1.9" fill="#000" fill-opacity="0.5" stroke="#000" stroke-opacity="0.35" stroke-width="0.7"/>
<circle cx="621.4" cy="175.4" r="1.9" fill="#000" fill-opacity="0.5" stroke="#000" stroke-opacity="0.35" stroke-width="0.7"/>
<circle cx="622.6" cy="178.4" r="1.9" fill="#000" fill-opacity="0.5" stroke="#000" stroke-opacity="0.35" stroke-width="0.7"/>
<circle cx="622.2" cy="181.0" r="1.9" fill="#000" fill-opacity="0.5" stroke="#000" stroke-opacity="0.35" stroke-width="0.7"/>
<circle cx="622.2" cy="183.5" r="1.9" fill="#000" fill-opacity="0.5" stroke="#000" stroke-opacity="0.35" stroke-width="0.7"/>
<circle cx="622.2" cy="186.0" r="1.9" fill="#000" fill-opacity="0.5" stroke="#000" stroke-opacity="0.35" stroke-width="0.7"/>
<circle cx="622.2" cy="188.5" r="1.9" fill="#000" fill-opacity="0.5" stroke="#000" stroke-opacity="0.35" stroke-width="0.7"/>
<circle cx="622.2" cy="191.0" r="1.9" fill="#000" fill-opacity="0.5" stroke="#000" stroke-opacity="0.35" stroke-width="0.7"/>
<circle cx="622.2" cy="193.5" r="1.9" fill="#000" fill-opacity="0.5" stroke="#000" stroke-opacity="0.35" stroke-width="0.7"/>
<circle cx="622.2" cy="194.6" r="1.9" fill="#000" fill-opacity="0.5" stroke="#000" stroke-opacity="0.35" stroke-width="0.7"/>
<circle cx="622.2" cy="204.5" r="1.9" fill="#000" fill-opacity="0.5" stroke="#000" stroke-opacity="0.35" stroke-width="0.7"/>
<circle cx="622.2" cy="206.9" r="1.9" fill="#000" fill-opacity="0.5" stroke="#000" stroke-opacity="0.35" stroke-width="0.7"/>
<circle cx="622.2" cy="208.5" r="1.9" fill="#000" fill-opacity="0.5" stroke="#000" stroke-opacity="0.35" stroke-width="0.7"/>
<circle cx="622.2" cy="216.6" r="1.9" fill="#000" fill-opacity="0.5" stroke="#000" stroke-opacity="0.35" stroke-width="0.7"/>
<circle cx="622.2" cy="219.2" r="1.9" fill="#000" fill-opacity="0.5" stroke="#000" stroke-opacity="0.35" stroke-width="0.7"/>
<circle cx="622.2" cy="229.9" r="1.9" fill="#000" fill-opacity="0.5" stroke="#000" stroke-opacity="0.35" stroke-width="0.7"/>
<circle cx="622.2" cy="235.5" r="1.9" fill="#000" fill-opacity="0.5" stroke="#000" stroke-opacity="0.35" stroke-width="0.7"/>
<circle cx="622.2" cy="248.8" r="1.9" fill="#000" fill-opacity="0.5" stroke="#000" stroke-opacity="0.35" stroke-width="0.7"/>
<circle cx="630.7" cy="163.7" r="1.9" fill="#000" fill-opacity="0.5" stroke="#000" stroke-opacity="0.35" stroke-width="0.7"/>
<circle cx="630.6" cy="165.8" r="1.9" fill="#000" fill-opacity="0.5" stroke="#000" stroke-opacity="0.35" stroke-width="0.7"/>
<circle cx="630.7" cy="165.6" r="1.9" fill="#000" fill-opacity="0.5" stroke="#000" stroke-opacity="0.35" stroke-width="0.7"/>
<circle cx="631.2" cy="165.9" r="1.9" fill="#000" fill-opacity="0.5" stroke="#000" stroke-opacity="0.35" stroke-width="0.7"/>
<circle cx="630.5" cy="168.4" r="1.9" fill="#000" fill-opacity="0.5" stroke="#000" stroke-opacity="0.35" stroke-width="0.7"/>
<circle cx="630.2" cy="168.1" r="1.9" fill="#000" fill-opacity="0.5" stroke="#000" stroke-opacity="0.35" stroke-width="0.7"/>
<circle cx="630.7" cy="170.3" r="1.9" fill="#000" fill-opacity="0.5" stroke="#000" stroke-opacity="0.35" stroke-width="0.7"/>
<circle cx="631.1" cy="170.1" r="1.9" fill="#000" fill-opacity="0.5" stroke="#000" stroke-opacity="0.35" stroke-width="0.7"/>
<circle cx="630.3" cy="171.9" r="1.9" fill="#000" fill-opacity="0.5" stroke="#000" stroke-opacity="0.35" stroke-width="0.7"/>
<circle cx="629.8" cy="173.9" r="1.9" fill="#000" fill-opacity="0.5" stroke="#000" stroke-opacity="0.35" stroke-width="0.7"/>
<circle cx="630.9" cy="176.1" r="1.9" fill="#000" fill-opacity="0.5" stroke="#000" stroke-opacity="0.35" stroke-width="0.7"/>
<circle cx="630.8" cy="175.7" r="1.9" fill="#000" fill-opacity="0.5" stroke="#000" stroke-opacity="0.35" stroke-width="0.7"/>
<circle cx="631.1" cy="178.4" r="1.9" fill="#000" fill-opacity="0.5" stroke="#000" stroke-opacity="0.35" stroke-width="0.7"/>
<circle cx="630.7" cy="177.8" r="1.9" fill="#000" fill-opacity="0.5" stroke="#000" stroke-opacity="0.35" stroke-width="0.7"/>
<circle cx="630.7" cy="182.4" r="1.9" fill="#000" fill-opacity="0.5" stroke="#000" stroke-opacity="0.35" stroke-width="0.7"/>
<circle cx="630.7" cy="186.0" r="1.9" fill="#000" fill-opacity="0.5" stroke="#000" stroke-opacity="0.35" stroke-width="0.7"/>
<circle cx="630.7" cy="194.1" r="1.9" fill="#000" fill-opacity="0.5" stroke="#000" stroke-opacity="0.35" stroke-width="0.7"/>
<circle cx="630.7" cy="197.7" r="1.9" fill="#000" fill-opacity="0.5" stroke="#000" stroke-opacity="0.35" stroke-width="0.7"/>
<circle cx="630.7" cy="204.3" r="1.9" fill="#000" fill-opacity="0.5" stroke="#000" stroke-opacity="0.35" stroke-width="0.7"/>
<circle cx="630.7" cy="211.8" r="1.9" fill="#000" fill-opacity="0.5" stroke="#000" stroke-opacity="0.35" stroke-width="0.7"/>
<circle cx="637.8" cy="140.0" r="1.9" fill="#000" fill-opacity="0.5" stroke="#000" stroke-opacity="0.35" stroke-width="0.7"/>
<circle cx="637.8" cy="154.3" r="1.9" fill="#000" fill-opacity="0.5" stroke="#000" stroke-opacity="0.35" stroke-width="0.7"/>
<circle cx="637.8" cy="167.0" r="1.9" fill="#000" fill-opacity="0.5" stroke="#000" stroke-opacity="0.35" stroke-width="0.7"/>
<circle cx="637.8" cy="170.5" r="1.9" fill="#000" fill-opacity="0.5" stroke="#000" stroke-opacity="0.35" stroke-width="0.7"/>
<circle cx="637.8" cy="174.0" r="1.9" fill="#000" fill-opacity="0.5" stroke="#000" stroke-opacity="0.35" stroke-width="0.7"/>
<circle cx="637.8" cy="177.5" r="1.9" fill="#000" fill-opacity="0.5" stroke="#000" stroke-opacity="0.35" stroke-width="0.7"/>
<circle cx="637.8" cy="181.0" r="1.9" fill="#000" fill-opacity="0.5" stroke="#000" stroke-opacity="0.35" stroke-width="0.7"/>
<circle cx="637.8" cy="184.5" r="1.9" fill="#000" fill-opacity="0.5" stroke="#000" stroke-opacity="0.35" stroke-width="0.7"/>
<circle cx="637.8" cy="194.1" r="1.9" fill="#000" fill-opacity="0.5" stroke="#000" stroke-opacity="0.35" stroke-width="0.7"/>
<circle cx="637.8" cy="194.1" r="1.9" fill="#000" fill-opacity="0.5" stroke="#000" stroke-opacity="0.35" stroke-width="0.7"/>
<circle cx="637.8" cy="221.8" r="1.9" fill="#000" fill-opacity="0.5" stroke="#000" stroke-opacity="0.35" stroke-width="0.7"/>
<circle cx="637.8" cy="229.9" r="1.9" fill="#000" fill-opacity="0.5" stroke="#000" stroke-opacity="0.35" stroke-width="0.7"/>
<circle cx="637.8" cy="229.9" r="1.9" fill="#000" fill-opacity="0.5" stroke="#000" stroke-opacity="0.35" stroke-width="0.7"/>
<circle cx="650.0" cy="163.7" r="1.9" fill="#000" fill-opacity="0.5" stroke="#000" stroke-opacity="0.35" stroke-width="0.7"/>
<circle cx="650.9" cy="163.7" r="1.9" fill="#000" fill-opacity="0.5" stroke="#000" stroke-opacity="0.35" stroke-width="0.7"/>
<circle cx="650.0" cy="166.0" r="1.9" fill="#000" fill-opacity="0.5" stroke="#000" stroke-opacity="0.35" stroke-width="0.7"/>
<circle cx="650.7" cy="167.7" r="1.9" fill="#000" fill-opacity="0.5" stroke="#000" stroke-opacity="0.35" stroke-width="0.7"/>
<circle cx="650.0" cy="169.8" r="1.9" fill="#000" fill-opacity="0.5" stroke="#000" stroke-opacity="0.35" stroke-width="0.7"/>
<circle cx="650.2" cy="169.7" r="1.9" fill="#000" fill-opacity="0.5" stroke="#000" stroke-opacity="0.35" stroke-width="0.7"/>
<circle cx="649.8" cy="172.3" r="1.9" fill="#000" fill-opacity="0.5" stroke="#000" stroke-opacity="0.35" stroke-width="0.7"/>
<circle cx="649.7" cy="171.9" r="1.9" fill="#000" fill-opacity="0.5" stroke="#000" stroke-opacity="0.35" stroke-width="0.7"/>
<circle cx="651.0" cy="174.1" r="1.9" fill="#000" fill-opacity="0.5" stroke="#000" stroke-opacity="0.35" stroke-width="0.7"/>
<circle cx="650.1" cy="174.2" r="1.9" fill="#000" fill-opacity="0.5" stroke="#000" stroke-opacity="0.35" stroke-width="0.7"/>
<circle cx="649.8" cy="176.1" r="1.9" fill="#000" fill-opacity="0.5" stroke="#000" stroke-opacity="0.35" stroke-width="0.7"/>
<circle cx="649.8" cy="176.0" r="1.9" fill="#000" fill-opacity="0.5" stroke="#000" stroke-opacity="0.35" stroke-width="0.7"/>
<circle cx="650.3" cy="178.1" r="1.9" fill="#000" fill-opacity="0.5" stroke="#000" stroke-opacity="0.35" stroke-width="0.7"/>
<circle cx="649.9" cy="178.3" r="1.9" fill="#000" fill-opacity="0.5" stroke="#000" stroke-opacity="0.35" stroke-width="0.7"/>
<circle cx="650.7" cy="177.6" r="1.9" fill="#000" fill-opacity="0.5" stroke="#000" stroke-opacity="0.35" stroke-width="0.7"/>
<circle cx="650.1" cy="194.1" r="1.9" fill="#000" fill-opacity="0.5" stroke="#000" stroke-opacity="0.35" stroke-width="0.7"/>
<circle cx="650.1" cy="204.3" r="1.9" fill="#000" fill-opacity="0.5" stroke="#000" stroke-opacity="0.35" stroke-width="0.7"/>
<circle cx="650.1" cy="211.8" r="1.9" fill="#000" fill-opacity="0.5" stroke="#000" stroke-opacity="0.35" stroke-width="0.7"/>
<circle cx="655.2" cy="154.3" r="1.9" fill="#000" fill-opacity="0.5" stroke="#000" stroke-opacity="0.35" stroke-width="0.7"/>
<circle cx="655.9" cy="164.2" r="1.9" fill="#000" fill-opacity="0.5" stroke="#000" stroke-opacity="0.35" stroke-width="0.7"/>
<circle cx="654.6" cy="164.3" r="1.9" fill="#000" fill-opacity="0.5" stroke="#000" stroke-opacity="0.35" stroke-width="0.7"/>
<circle cx="655.4" cy="163.6" r="1.9" fill="#000" fill-opacity="0.5" stroke="#000" stroke-opacity="0.35" stroke-width="0.7"/>
<circle cx="654.7" cy="165.7" r="1.9" fill="#000" fill-opacity="0.5" stroke="#000" stroke-opacity="0.35" stroke-width="0.7"/>
<circle cx="654.8" cy="167.7" r="1.9" fill="#000" fill-opacity="0.5" stroke="#000" stroke-opacity="0.35" stroke-width="0.7"/>
<circle cx="654.6" cy="167.8" r="1.9" fill="#000" fill-opacity="0.5" stroke="#000" stroke-opacity="0.35" stroke-width="0.7"/>
<circle cx="654.9" cy="169.7" r="1.9" fill="#000" fill-opacity="0.5" stroke="#000" stroke-opacity="0.35" stroke-width="0.7"/>
<circle cx="655.9" cy="170.2" r="1.9" fill="#000" fill-opacity="0.5" stroke="#000" stroke-opacity="0.35" stroke-width="0.7"/>
<circle cx="655.4" cy="172.2" r="1.9" fill="#000" fill-opacity="0.5" stroke="#000" stroke-opacity="0.35" stroke-width="0.7"/>
<circle cx="655.5" cy="174.3" r="1.9" fill="#000" fill-opacity="0.5" stroke="#000" stroke-opacity="0.35" stroke-width="0.7"/>
<circle cx="654.7" cy="176.2" r="1.9" fill="#000" fill-opacity="0.5" stroke="#000" stroke-opacity="0.35" stroke-width="0.7"/>
<circle cx="655.3" cy="176.2" r="1.9" fill="#000" fill-opacity="0.5" stroke="#000" stroke-opacity="0.35" stroke-width="0.7"/>
<circle cx="655.5" cy="177.7" r="1.9" fill="#000" fill-opacity="0.5" stroke="#000" stroke-opacity="0.35" stroke-width="0.7"/>
<circle cx="654.5" cy="177.9" r="1.9" fill="#000" fill-opacity="0.5" stroke="#000" stroke-opacity="0.35" stroke-width="0.7"/>
<circle cx="655.2" cy="194.1" r="1.9" fill="#000" fill-opacity="0.5" stroke="#000" stroke-opacity="0.35" stroke-width="0.7"/>
<circle cx="655.2" cy="204.3" r="1.9" fill="#000" fill-opacity="0.5" stroke="#000" stroke-opacity="0.35" stroke-width="0.7"/>
<circle cx="659.8" cy="85.5" r="1.9" fill="#000" fill-opacity="0.5" stroke="#000" stroke-opacity="0.35" stroke-width="0.7"/>
<circle cx="659.8" cy="113.6" r="1.9" fill="#000" fill-opacity="0.5" stroke="#000" stroke-opacity="0.35" stroke-width="0.7"/>
<circle cx="659.8" cy="130.8" r="1.9" fill="#000" fill-opacity="0.5" stroke="#000" stroke-opacity="0.35" stroke-width="0.7"/>
<circle cx="659.8" cy="137.0" r="1.9" fill="#000" fill-opacity="0.5" stroke="#000" stroke-opacity="0.35" stroke-width="0.7"/>
<circle cx="659.8" cy="140.0" r="1.9" fill="#000" fill-opacity="0.5" stroke="#000" stroke-opacity="0.35" stroke-width="0.7"/>
<circle cx="659.8" cy="154.3" r="1.9" fill="#000" fill-opacity="0.5" stroke="#000" stroke-opacity="0.35" stroke-width="0.7"/>
<circle cx="659.8" cy="159.5" r="1.9" fill="#000" fill-opacity="0.5" stroke="#000" stroke-opacity="0.35" stroke-width="0.7"/>
<circle cx="659.8" cy="164.0" r="1.9" fill="#000" fill-opacity="0.5" stroke="#000" stroke-opacity="0.35" stroke-width="0.7"/>
<circle cx="659.7" cy="166.3" r="1.9" fill="#000" fill-opacity="0.5" stroke="#000" stroke-opacity="0.35" stroke-width="0.7"/>
<circle cx="659.8" cy="166.6" r="1.9" fill="#000" fill-opacity="0.5" stroke="#000" stroke-opacity="0.35" stroke-width="0.7"/>
<circle cx="660.0" cy="169.4" r="1.9" fill="#000" fill-opacity="0.5" stroke="#000" stroke-opacity="0.35" stroke-width="0.7"/>
<circle cx="659.2" cy="169.1" r="1.9" fill="#000" fill-opacity="0.5" stroke="#000" stroke-opacity="0.35" stroke-width="0.7"/>
<circle cx="660.2" cy="169.2" r="1.9" fill="#000" fill-opacity="0.5" stroke="#000" stroke-opacity="0.35" stroke-width="0.7"/>
<circle cx="660.4" cy="171.7" r="1.9" fill="#000" fill-opacity="0.5" stroke="#000" stroke-opacity="0.35" stroke-width="0.7"/>
<circle cx="659.7" cy="172.2" r="1.9" fill="#000" fill-opacity="0.5" stroke="#000" stroke-opacity="0.35" stroke-width="0.7"/>
<circle cx="659.2" cy="174.3" r="1.9" fill="#000" fill-opacity="0.5" stroke="#000" stroke-opacity="0.35" stroke-width="0.7"/>
<circle cx="658.9" cy="176.6" r="1.9" fill="#000" fill-opacity="0.5" stroke="#000" stroke-opacity="0.35" stroke-width="0.7"/>
<circle cx="660.4" cy="179.3" r="1.9" fill="#000" fill-opacity="0.5" stroke="#000" stroke-opacity="0.35" stroke-width="0.7"/>
<circle cx="659.8" cy="179.8" r="1.9" fill="#000" fill-opacity="0.5" stroke="#000" stroke-opacity="0.35" stroke-width="0.7"/>
<circle cx="659.0" cy="182.4" r="1.9" fill="#000" fill-opacity="0.5" stroke="#000" stroke-opacity="0.35" stroke-width="0.7"/>
<circle cx="659.5" cy="185.1" r="1.9" fill="#000" fill-opacity="0.5" stroke="#000" stroke-opacity="0.35" stroke-width="0.7"/>
<circle cx="659.8" cy="189.0" r="1.9" fill="#000" fill-opacity="0.5" stroke="#000" stroke-opacity="0.35" stroke-width="0.7"/>
<circle cx="659.8" cy="192.0" r="1.9" fill="#000" fill-opacity="0.5" stroke="#000" stroke-opacity="0.35" stroke-width="0.7"/>
<circle cx="659.8" cy="195.0" r="1.9" fill="#000" fill-opacity="0.5" stroke="#000" stroke-opacity="0.35" stroke-width="0.7"/>
<circle cx="659.8" cy="198.0" r="1.9" fill="#000" fill-opacity="0.5" stroke="#000" stroke-opacity="0.35" stroke-width="0.7"/>
<circle cx="659.8" cy="201.0" r="1.9" fill="#000" fill-opacity="0.5" stroke="#000" stroke-opacity="0.35" stroke-width="0.7"/>
<circle cx="659.8" cy="204.0" r="1.9" fill="#000" fill-opacity="0.5" stroke="#000" stroke-opacity="0.35" stroke-width="0.7"/>
<circle cx="659.8" cy="207.0" r="1.9" fill="#000" fill-opacity="0.5" stroke="#000" stroke-opacity="0.35" stroke-width="0.7"/>
<circle cx="659.8" cy="210.0" r="1.9" fill="#000" fill-opacity="0.5" stroke="#000" stroke-opacity="0.35" stroke-width="0.7"/>
<circle cx="659.8" cy="213.0" r="1.9" fill="#000" fill-opacity="0.5" stroke="#000" stroke-opacity="0.35" stroke-width="0.7"/>
<circle cx="659.8" cy="216.0" r="1.9" fill="#000" fill-opacity="0.5" stroke="#000" stroke-opacity="0.35" stroke-width="0.7"/>
<circle cx="659.8" cy="219.0" r="1.9" fill="#000" fill-opacity="0.5" stroke="#000" stroke-opacity="0.35" stroke-width="0.7"/>
<circle cx="659.8" cy="222.0" r="1.9" fill="#000" fill-opacity="0.5" stroke="#000" stroke-opacity="0.35" stroke-width="0.7"/>
<circle cx="659.8" cy="230.4" r="1.9" fill="#000" fill-opacity="0.5" stroke="#000" stroke-opacity="0.35" stroke-width="0.7"/>
<circle cx="659.8" cy="230.4" r="1.9" fill="#000" fill-opacity="0.5" stroke="#000" stroke-opacity="0.35" stroke-width="0.7"/>
<circle cx="659.8" cy="237.6" r="1.9" fill="#000" fill-opacity="0.5" stroke="#000" stroke-opacity="0.35" stroke-width="0.7"/>
<circle cx="659.8" cy="239.6" r="1.9" fill="#000" fill-opacity="0.5" stroke="#000" stroke-opacity="0.35" stroke-width="0.7"/>
<circle cx="662.3" cy="130.8" r="1.9" fill="#000" fill-opacity="0.5" stroke="#000" stroke-opacity="0.35" stroke-width="0.7"/>
<circle cx="662.3" cy="140.0" r="1.9" fill="#000" fill-opacity="0.5" stroke="#000" stroke-opacity="0.35" stroke-width="0.7"/>
<circle cx="662.0" cy="164.2" r="1.9" fill="#000" fill-opacity="0.5" stroke="#000" stroke-opacity="0.35" stroke-width="0.7"/>
<circle cx="662.4" cy="164.3" r="1.9" fill="#000" fill-opacity="0.5" stroke="#000" stroke-opacity="0.35" stroke-width="0.7"/>
<circle cx="662.2" cy="166.5" r="1.9" fill="#000" fill-opacity="0.5" stroke="#000" stroke-opacity="0.35" stroke-width="0.7"/>
<circle cx="662.4" cy="166.9" r="1.9" fill="#000" fill-opacity="0.5" stroke="#000" stroke-opacity="0.35" stroke-width="0.7"/>
<circle cx="662.0" cy="169.2" r="1.9" fill="#000" fill-opacity="0.5" stroke="#000" stroke-opacity="0.35" stroke-width="0.7"/>
<circle cx="662.0" cy="169.6" r="1.9" fill="#000" fill-opacity="0.5" stroke="#000" stroke-opacity="0.35" stroke-width="0.7"/>
<circle cx="662.0" cy="171.6" r="1.9" fill="#000" fill-opacity="0.5" stroke="#000" stroke-opacity="0.35" stroke-width="0.7"/>
<circle cx="662.3" cy="171.5" r="1.9" fill="#000" fill-opacity="0.5" stroke="#000" stroke-opacity="0.35" stroke-width="0.7"/>
<circle cx="661.7" cy="172.0" r="1.9" fill="#000" fill-opacity="0.5" stroke="#000" stroke-opacity="0.35" stroke-width="0.7"/>
<circle cx="662.5" cy="174.5" r="1.9" fill="#000" fill-opacity="0.5" stroke="#000" stroke-opacity="0.35" stroke-width="0.7"/>
<circle cx="662.1" cy="177.0" r="1.9" fill="#000" fill-opacity="0.5" stroke="#000" stroke-opacity="0.35" stroke-width="0.7"/>
<circle cx="662.4" cy="179.2" r="1.9" fill="#000" fill-opacity="0.5" stroke="#000" stroke-opacity="0.35" stroke-width="0.7"/>
<circle cx="661.9" cy="179.2" r="1.9" fill="#000" fill-opacity="0.5" stroke="#000" stroke-opacity="0.35" stroke-width="0.7"/>
<circle cx="662.9" cy="182.2" r="1.9" fill="#000" fill-opacity="0.5" stroke="#000" stroke-opacity="0.35" stroke-width="0.7"/>
<circle cx="662.3" cy="192.6" r="1.9" fill="#000" fill-opacity="0.5" stroke="#000" stroke-opacity="0.35" stroke-width="0.7"/>
<circle cx="662.3" cy="206.9" r="1.9" fill="#000" fill-opacity="0.5" stroke="#000" stroke-opacity="0.35" stroke-width="0.7"/>
<circle cx="662.3" cy="230.4" r="1.9" fill="#000" fill-opacity="0.5" stroke="#000" stroke-opacity="0.35" stroke-width="0.7"/>
<circle cx="668.5" cy="164.3" r="1.9" fill="#000" fill-opacity="0.5" stroke="#000" stroke-opacity="0.35" stroke-width="0.7"/>
<circle cx="667.8" cy="165.7" r="1.9" fill="#000" fill-opacity="0.5" stroke="#000" stroke-opacity="0.35" stroke-width="0.7"/>
<circle cx="668.3" cy="166.2" r="1.9" fill="#000" fill-opacity="0.5" stroke="#000" stroke-opacity="0.35" stroke-width="0.7"/>
<circle cx="668.7" cy="165.7" r="1.9" fill="#000" fill-opacity="0.5" stroke="#000" stroke-opacity="0.35" stroke-width="0.7"/>
<circle cx="668.3" cy="168.0" r="1.9" fill="#000" fill-opacity="0.5" stroke="#000" stroke-opacity="0.35" stroke-width="0.7"/>
<circle cx="667.3" cy="169.7" r="1.9" fill="#000" fill-opacity="0.5" stroke="#000" stroke-opacity="0.35" stroke-width="0.7"/>
<circle cx="667.9" cy="171.7" r="1.9" fill="#000" fill-opacity="0.5" stroke="#000" stroke-opacity="0.35" stroke-width="0.7"/>
<circle cx="667.8" cy="174.3" r="1.9" fill="#000" fill-opacity="0.5" stroke="#000" stroke-opacity="0.35" stroke-width="0.7"/>
<circle cx="668.1" cy="175.8" r="1.9" fill="#000" fill-opacity="0.5" stroke="#000" stroke-opacity="0.35" stroke-width="0.7"/>
<circle cx="667.6" cy="175.9" r="1.9" fill="#000" fill-opacity="0.5" stroke="#000" stroke-opacity="0.35" stroke-width="0.7"/>
<circle cx="667.1" cy="178.1" r="1.9" fill="#000" fill-opacity="0.5" stroke="#000" stroke-opacity="0.35" stroke-width="0.7"/>
<circle cx="668.1" cy="178.3" r="1.9" fill="#000" fill-opacity="0.5" stroke="#000" stroke-opacity="0.35" stroke-width="0.7"/>
<circle cx="668.0" cy="194.1" r="1.9" fill="#000" fill-opacity="0.5" stroke="#000" stroke-opacity="0.35" stroke-width="0.7"/>
<circle cx="668.0" cy="204.3" r="1.9" fill="#000" fill-opacity="0.5" stroke="#000" stroke-opacity="0.35" stroke-width="0.7"/>
<circle cx="611.4" cy="133.9" r="1.9" fill="#000" fill-opacity="0.5" stroke="#000" stroke-opacity="0.35" stroke-width="0.7"/>
<circle cx="611.4" cy="140.0" r="1.9" fill="#000" fill-opacity="0.5" stroke="#000" stroke-opacity="0.35" stroke-width="0.7"/>
<circle cx="611.4" cy="149.7" r="1.9" fill="#000" fill-opacity="0.5" stroke="#000" stroke-opacity="0.35" stroke-width="0.7"/>
<circle cx="622.2" cy="140.0" r="1.9" fill="#000" fill-opacity="0.5" stroke="#000" stroke-opacity="0.35" stroke-width="0.7"/>
<circle cx="601.4" cy="130.8" r="1.9" fill="#000" fill-opacity="0.5" stroke="#000" stroke-opacity="0.35" stroke-width="0.7"/>
<circle cx="601.4" cy="140.0" r="1.9" fill="#000" fill-opacity="0.5" stroke="#000" stroke-opacity="0.35" stroke-width="0.7"/>
<circle cx="662.3" cy="140.0" r="1.9" fill="#000" fill-opacity="0.5" stroke="#000" stroke-opacity="0.35" stroke-width="0.7"/>
<circle cx="609.7" cy="130.8" r="1.9" fill="#000" fill-opacity="0.5" stroke="#000" stroke-opacity="0.35" stroke-width="0.7"/>
<circle cx="591.6" cy="130.8" r="1.9" fill="#000" fill-opacity="0.5" stroke="#000" stroke-opacity="0.35" stroke-width="0.7"/>
<circle cx="594.9" cy="130.8" r="1.9" fill="#000" fill-opacity="0.5" stroke="#000" stroke-opacity="0.35" stroke-width="0.7"/>
<circle cx="591.6" cy="137.0" r="1.9" fill="#000" fill-opacity="0.5" stroke="#000" stroke-opacity="0.35" stroke-width="0.7"/>
<circle cx="585.5" cy="137.0" r="1.9" fill="#000" fill-opacity="0.5" stroke="#000" stroke-opacity="0.35" stroke-width="0.7"/>
<circle cx="585.5" cy="140.0" r="1.9" fill="#000" fill-opacity="0.5" stroke="#000" stroke-opacity="0.35" stroke-width="0.7"/>
<circle cx="601.4" cy="162.5" r="1.9" fill="#000" fill-opacity="0.5" stroke="#000" stroke-opacity="0.35" stroke-width="0.7"/>
<circle cx="564.2" cy="162.6" r="1.9" fill="#000" fill-opacity="0.5" stroke="#000" stroke-opacity="0.35" stroke-width="0.7"/>
<circle cx="564.2" cy="170.6" r="1.9" fill="#000" fill-opacity="0.5" stroke="#000" stroke-opacity="0.35" stroke-width="0.7"/>
<circle cx="564.2" cy="178.7" r="1.9" fill="#000" fill-opacity="0.5" stroke="#000" stroke-opacity="0.35" stroke-width="0.7"/>
<circle cx="564.2" cy="194.3" r="1.9" fill="#000" fill-opacity="0.5" stroke="#000" stroke-opacity="0.35" stroke-width="0.7"/>
<circle cx="442.5" cy="158.7" r="1.9" fill="#000" fill-opacity="0.5" stroke="#000" stroke-opacity="0.35" stroke-width="0.7"/>
<circle cx="442.5" cy="160.4" r="1.9" fill="#000" fill-opacity="0.5" stroke="#000" stroke-opacity="0.35" stroke-width="0.7"/>
<circle cx="442.5" cy="162.1" r="1.9" fill="#000" fill-opacity="0.5" stroke="#000" stroke-opacity="0.35" stroke-width="0.7"/>
<circle cx="442.5" cy="163.8" r="1.9" fill="#000" fill-opacity="0.5" stroke="#000" stroke-opacity="0.35" stroke-width="0.7"/>
<circle cx="442.5" cy="164.9" r="1.9" fill="#000" fill-opacity="0.5" stroke="#000" stroke-opacity="0.35" stroke-width="0.7"/>
<circle cx="442.5" cy="179.9" r="1.9" fill="#000" fill-opacity="0.5" stroke="#000" stroke-opacity="0.35" stroke-width="0.7"/>
<circle cx="442.5" cy="180.2" r="1.9" fill="#000" fill-opacity="0.5" stroke="#000" stroke-opacity="0.35" stroke-width="0.7"/>
<circle cx="442.5" cy="187.4" r="1.9" fill="#000" fill-opacity="0.5" stroke="#000" stroke-opacity="0.35" stroke-width="0.7"/>
<circle cx="442.5" cy="187.9" r="1.9" fill="#000" fill-opacity="0.5" stroke="#000" stroke-opacity="0.35" stroke-width="0.7"/>
<circle cx="463.3" cy="159.5" r="1.9" fill="#000" fill-opacity="0.5" stroke="#000" stroke-opacity="0.35" stroke-width="0.7"/>
<circle cx="463.3" cy="161.2" r="1.9" fill="#000" fill-opacity="0.5" stroke="#000" stroke-opacity="0.35" stroke-width="0.7"/>
<circle cx="463.3" cy="162.9" r="1.9" fill="#000" fill-opacity="0.5" stroke="#000" stroke-opacity="0.35" stroke-width="0.7"/>
<circle cx="463.3" cy="164.4" r="1.9" fill="#000" fill-opacity="0.5" stroke="#000" stroke-opacity="0.35" stroke-width="0.7"/>
<circle cx="463.3" cy="179.9" r="1.9" fill="#000" fill-opacity="0.5" stroke="#000" stroke-opacity="0.35" stroke-width="0.7"/>
<circle cx="463.3" cy="180.2" r="1.9" fill="#000" fill-opacity="0.5" stroke="#000" stroke-opacity="0.35" stroke-width="0.7"/>
<circle cx="463.3" cy="187.4" r="1.9" fill="#000" fill-opacity="0.5" stroke="#000" stroke-opacity="0.35" stroke-width="0.7"/>
<circle cx="463.3" cy="189.4" r="1.9" fill="#000" fill-opacity="0.5" stroke="#000" stroke-opacity="0.35" stroke-width="0.7"/>
<circle cx="463.3" cy="191.4" r="1.9" fill="#000" fill-opacity="0.5" stroke="#000" stroke-opacity="0.35" stroke-width="0.7"/>
<circle cx="463.3" cy="193.4" r="1.9" fill="#000" fill-opacity="0.5" stroke="#000" stroke-opacity="0.35" stroke-width="0.7"/>
<circle cx="463.3" cy="195.2" r="1.9" fill="#000" fill-opacity="0.5" stroke="#000" stroke-opacity="0.35" stroke-width="0.7"/>
<circle cx="471.1" cy="157.5" r="1.9" fill="#000" fill-opacity="0.5" stroke="#000" stroke-opacity="0.35" stroke-width="0.7"/>
<circle cx="471.1" cy="159.4" r="1.9" fill="#000" fill-opacity="0.5" stroke="#000" stroke-opacity="0.35" stroke-width="0.7"/>
<circle cx="471.1" cy="161.4" r="1.9" fill="#000" fill-opacity="0.5" stroke="#000" stroke-opacity="0.35" stroke-width="0.7"/>
<circle cx="471.1" cy="163.4" r="1.9" fill="#000" fill-opacity="0.5" stroke="#000" stroke-opacity="0.35" stroke-width="0.7"/>
<circle cx="471.1" cy="165.0" r="1.9" fill="#000" fill-opacity="0.5" stroke="#000" stroke-opacity="0.35" stroke-width="0.7"/>
<circle cx="471.1" cy="178.2" r="1.9" fill="#000" fill-opacity="0.5" stroke="#000" stroke-opacity="0.35" stroke-width="0.7"/>
<circle cx="471.1" cy="180.2" r="1.9" fill="#000" fill-opacity="0.5" stroke="#000" stroke-opacity="0.35" stroke-width="0.7"/>
<circle cx="471.1" cy="182.4" r="1.9" fill="#000" fill-opacity="0.5" stroke="#000" stroke-opacity="0.35" stroke-width="0.7"/>
<circle cx="471.1" cy="183.2" r="1.9" fill="#000" fill-opacity="0.5" stroke="#000" stroke-opacity="0.35" stroke-width="0.7"/>
<circle cx="474.9" cy="158.4" r="1.9" fill="#000" fill-opacity="0.5" stroke="#000" stroke-opacity="0.35" stroke-width="0.7"/>
<circle cx="474.9" cy="160.4" r="1.9" fill="#000" fill-opacity="0.5" stroke="#000" stroke-opacity="0.35" stroke-width="0.7"/>
<circle cx="474.9" cy="162.4" r="1.9" fill="#000" fill-opacity="0.5" stroke="#000" stroke-opacity="0.35" stroke-width="0.7"/>
<circle cx="474.9" cy="164.4" r="1.9" fill="#000" fill-opacity="0.5" stroke="#000" stroke-opacity="0.35" stroke-width="0.7"/>
<circle cx="474.9" cy="172.7" r="1.9" fill="#000" fill-opacity="0.5" stroke="#000" stroke-opacity="0.35" stroke-width="0.7"/>
<circle cx="474.9" cy="178.4" r="1.9" fill="#000" fill-opacity="0.5" stroke="#000" stroke-opacity="0.35" stroke-width="0.7"/>
<circle cx="474.9" cy="180.4" r="1.9" fill="#000" fill-opacity="0.5" stroke="#000" stroke-opacity="0.35" stroke-width="0.7"/>
<circle cx="474.9" cy="182.4" r="1.9" fill="#000" fill-opacity="0.5" stroke="#000" stroke-opacity="0.35" stroke-width="0.7"/>
<circle cx="477.9" cy="158.9" r="1.9" fill="#000" fill-opacity="0.5" stroke="#000" stroke-opacity="0.35" stroke-width="0.7"/>
<circle cx="477.9" cy="160.9" r="1.9" fill="#000" fill-opacity="0.5" stroke="#000" stroke-opacity="0.35" stroke-width="0.7"/>
<circle cx="477.9" cy="162.9" r="1.9" fill="#000" fill-opacity="0.5" stroke="#000" stroke-opacity="0.35" stroke-width="0.7"/>
<circle cx="477.9" cy="172.7" r="1.9" fill="#000" fill-opacity="0.5" stroke="#000" stroke-opacity="0.35" stroke-width="0.7"/>
<circle cx="477.9" cy="178.9" r="1.9" fill="#000" fill-opacity="0.5" stroke="#000" stroke-opacity="0.35" stroke-width="0.7"/>
<circle cx="477.9" cy="180.9" r="1.9" fill="#000" fill-opacity="0.5" stroke="#000" stroke-opacity="0.35" stroke-width="0.7"/>
<circle cx="477.9" cy="182.9" r="1.9" fill="#000" fill-opacity="0.5" stroke="#000" stroke-opacity="0.35" stroke-width="0.7"/>
<circle cx="480.4" cy="159.4" r="1.9" fill="#000" fill-opacity="0.5" stroke="#000" stroke-opacity="0.35" stroke-width="0.7"/>
<circle cx="480.4" cy="161.4" r="1.9" fill="#000" fill-opacity="0.5" stroke="#000" stroke-opacity="0.35" stroke-width="0.7"/>
<circle cx="480.4" cy="163.4" r="1.9" fill="#000" fill-opacity="0.5" stroke="#000" stroke-opacity="0.35" stroke-width="0.7"/>
<circle cx="480.4" cy="172.7" r="1.9" fill="#000" fill-opacity="0.5" stroke="#000" stroke-opacity="0.35" stroke-width="0.7"/>
<circle cx="480.4" cy="179.4" r="1.9" fill="#000" fill-opacity="0.5" stroke="#000" stroke-opacity="0.35" stroke-width="0.7"/>
<circle cx="480.4" cy="181.4" r="1.9" fill="#000" fill-opacity="0.5" stroke="#000" stroke-opacity="0.35" stroke-width="0.7"/>
<circle cx="480.4" cy="183.4" r="1.9" fill="#000" fill-opacity="0.5" stroke="#000" stroke-opacity="0.35" stroke-width="0.7"/>
<circle cx="482.9" cy="158.4" r="1.9" fill="#000" fill-opacity="0.5" stroke="#000" stroke-opacity="0.35" stroke-width="0.7"/>
<circle cx="482.9" cy="160.4" r="1.9" fill="#000" fill-opacity="0.5" stroke="#000" stroke-opacity="0.35" stroke-width="0.7"/>
<circle cx="482.9" cy="162.4" r="1.9" fill="#000" fill-opacity="0.5" stroke="#000" stroke-opacity="0.35" stroke-width="0.7"/>
<circle cx="482.9" cy="164.4" r="1.9" fill="#000" fill-opacity="0.5" stroke="#000" stroke-opacity="0.35" stroke-width="0.7"/>
<circle cx="482.9" cy="172.7" r="1.9" fill="#000" fill-opacity="0.5" stroke="#000" stroke-opacity="0.35" stroke-width="0.7"/>
<circle cx="482.9" cy="178.4" r="1.9" fill="#000" fill-opacity="0.5" stroke="#000" stroke-opacity="0.35" stroke-width="0.7"/>
<circle cx="482.9" cy="180.4" r="1.9" fill="#000" fill-opacity="0.5" stroke="#000" stroke-opacity="0.35" stroke-width="0.7"/>
<circle cx="482.9" cy="181.9" r="1.9" fill="#000" fill-opacity="0.5" stroke="#000" stroke-opacity="0.35" stroke-width="0.7"/>
<circle cx="485.4" cy="159.4" r="1.9" fill="#000" fill-opacity="0.5" stroke="#000" stroke-opacity="0.35" stroke-width="0.7"/>
<circle cx="485.4" cy="161.4" r="1.9" fill="#000" fill-opacity="0.5" stroke="#000" stroke-opacity="0.35" stroke-width="0.7"/>
<circle cx="485.4" cy="163.4" r="1.9" fill="#000" fill-opacity="0.5" stroke="#000" stroke-opacity="0.35" stroke-width="0.7"/>
<circle cx="485.4" cy="172.7" r="1.9" fill="#000" fill-opacity="0.5" stroke="#000" stroke-opacity="0.35" stroke-width="0.7"/>
<circle cx="485.4" cy="180.2" r="1.9" fill="#000" fill-opacity="0.5" stroke="#000" stroke-opacity="0.35" stroke-width="0.7"/>
<circle cx="485.4" cy="182.4" r="1.9" fill="#000" fill-opacity="0.5" stroke="#000" stroke-opacity="0.35" stroke-width="0.7"/>
<circle cx="489.1" cy="158.4" r="1.9" fill="#000" fill-opacity="0.5" stroke="#000" stroke-opacity="0.35" stroke-width="0.7"/>
<circle cx="489.1" cy="160.4" r="1.9" fill="#000" fill-opacity="0.5" stroke="#000" stroke-opacity="0.35" stroke-width="0.7"/>
<circle cx="489.1" cy="162.4" r="1.9" fill="#000" fill-opacity="0.5" stroke="#000" stroke-opacity="0.35" stroke-width="0.7"/>
<circle cx="489.1" cy="179.4" r="1.9" fill="#000" fill-opacity="0.5" stroke="#000" stroke-opacity="0.35" stroke-width="0.7"/>
<circle cx="489.1" cy="180.9" r="1.9" fill="#000" fill-opacity="0.5" stroke="#000" stroke-opacity="0.35" stroke-width="0.7"/>
<circle cx="506.2" cy="158.4" r="1.9" fill="#000" fill-opacity="0.5" stroke="#000" stroke-opacity="0.35" stroke-width="0.7"/>
<circle cx="506.2" cy="160.4" r="1.9" fill="#000" fill-opacity="0.5" stroke="#000" stroke-opacity="0.35" stroke-width="0.7"/>
<circle cx="506.2" cy="162.4" r="1.9" fill="#000" fill-opacity="0.5" stroke="#000" stroke-opacity="0.35" stroke-width="0.7"/>
<circle cx="506.2" cy="163.9" r="1.9" fill="#000" fill-opacity="0.5" stroke="#000" stroke-opacity="0.35" stroke-width="0.7"/>
<circle cx="515.7" cy="158.4" r="1.9" fill="#000" fill-opacity="0.5" stroke="#000" stroke-opacity="0.35" stroke-width="0.7"/>
<circle cx="515.7" cy="160.4" r="1.9" fill="#000" fill-opacity="0.5" stroke="#000" stroke-opacity="0.35" stroke-width="0.7"/>
<circle cx="515.7" cy="162.4" r="1.9" fill="#000" fill-opacity="0.5" stroke="#000" stroke-opacity="0.35" stroke-width="0.7"/>
<circle cx="515.7" cy="164.4" r="1.9" fill="#000" fill-opacity="0.5" stroke="#000" stroke-opacity="0.35" stroke-width="0.7"/>
<circle cx="515.7" cy="178.4" r="1.9" fill="#000" fill-opacity="0.5" stroke="#000" stroke-opacity="0.35" stroke-width="0.7"/>
<circle cx="515.7" cy="180.4" r="1.9" fill="#000" fill-opacity="0.5" stroke="#000" stroke-opacity="0.35" stroke-width="0.7"/>
<circle cx="515.7" cy="182.4" r="1.9" fill="#000" fill-opacity="0.5" stroke="#000" stroke-opacity="0.35" stroke-width="0.7"/>
<circle cx="515.7" cy="183.9" r="1.9" fill="#000" fill-opacity="0.5" stroke="#000" stroke-opacity="0.35" stroke-width="0.7"/>
<circle cx="515.7" cy="187.9" r="1.9" fill="#000" fill-opacity="0.5" stroke="#000" stroke-opacity="0.35" stroke-width="0.7"/>
<circle cx="515.7" cy="190.2" r="1.9" fill="#000" fill-opacity="0.5" stroke="#000" stroke-opacity="0.35" stroke-width="0.7"/>
<circle cx="515.7" cy="192.5" r="1.9" fill="#000" fill-opacity="0.5" stroke="#000" stroke-opacity="0.35" stroke-width="0.7"/>
<circle cx="515.7" cy="194.7" r="1.9" fill="#000" fill-opacity="0.5" stroke="#000" stroke-opacity="0.35" stroke-width="0.7"/>
<path d="M423.3 60.4 H683.3 V265.3 H423.3 Z" fill="none" stroke="#262626" stroke-width="1"/>
<line x1="423.3" y1="265.3" x2="423.3" y2="262.7" stroke="#262626" stroke-width="0.9"/>
<line x1="423.3" y1="60.4" x2="423.3" y2="63.0" stroke="#262626" stroke-width="0.9"/>
<text x="423.3" y="278.3" font-size="10.1" fill="#383838" text-anchor="middle">1</text>
<line x1="453.9" y1="265.3" x2="453.9" y2="262.7" stroke="#262626" stroke-width="0.9"/>
<line x1="453.9" y1="60.4" x2="453.9" y2="63.0" stroke="#262626" stroke-width="0.9"/>
<text x="453.9" y="278.3" font-size="10.1" fill="#383838" text-anchor="middle">2</text>
<line x1="484.5" y1="265.3" x2="484.5" y2="262.7" stroke="#262626" stroke-width="0.9"/>
<line x1="484.5" y1="60.4" x2="484.5" y2="63.0" stroke="#262626" stroke-width="0.9"/>
<text x="484.5" y="278.3" font-size="10.1" fill="#383838" text-anchor="middle">3</text>
<line x1="515.1" y1="265.3" x2="515.1" y2="262.7" stroke="#262626" stroke-width="0.9"/>
<line x1="515.1" y1="60.4" x2="515.1" y2="63.0" stroke="#262626" stroke-width="0.9"/>
<text x="515.1" y="278.3" font-size="10.1" fill="#383838" text-anchor="middle">4</text>
<line x1="545.7" y1="265.3" x2="545.7" y2="262.7" stroke="#262626" stroke-width="0.9"/>
<line x1="545.7" y1="60.4" x2="545.7" y2="63.0" stroke="#262626" stroke-width="0.9"/>
<text x="545.7" y="278.3" font-size="10.1" fill="#383838" text-anchor="middle">5</text>
<line x1="576.3" y1="265.3" x2="576.3" y2="262.7" stroke="#262626" stroke-width="0.9"/>
<line x1="576.3" y1="60.4" x2="576.3" y2="63.0" stroke="#262626" stroke-width="0.9"/>
<text x="576.3" y="278.3" font-size="10.1" fill="#383838" text-anchor="middle">6</text>
<line x1="606.9" y1="265.3" x2="606.9" y2="262.7" stroke="#262626" stroke-width="0.9"/>
<line x1="606.9" y1="60.4" x2="606.9" y2="63.0" stroke="#262626" stroke-width="0.9"/>
<text x="606.9" y="278.3" font-size="10.1" fill="#383838" text-anchor="middle">7</text>
<line x1="637.5" y1="265.3" x2="637.5" y2="262.7" stroke="#262626" stroke-width="0.9"/>
<line x1="637.5" y1="60.4" x2="637.5" y2="63.0" stroke="#262626" stroke-width="0.9"/>
<text x="637.5" y="278.3" font-size="10.1" fill="#383838" text-anchor="middle">8</text>
<line x1="668.1" y1="265.3" x2="668.1" y2="262.7" stroke="#262626" stroke-width="0.9"/>
<line x1="668.1" y1="60.4" x2="668.1" y2="63.0" stroke="#262626" stroke-width="0.9"/>
<text x="668.1" y="278.3" font-size="10.1" fill="#383838" text-anchor="middle">9</text>
<line x1="423.3" y1="265.3" x2="425.90000000000003" y2="265.3" stroke="#262626" stroke-width="0.9"/>
<line x1="683.3" y1="265.3" x2="680.6999999999999" y2="265.3" stroke="#262626" stroke-width="0.9"/>
<text x="421.2" y="269.0" font-size="10.1" fill="#383838" text-anchor="end">1.6</text>
<line x1="423.3" y1="236.0" x2="425.90000000000003" y2="236.0" stroke="#262626" stroke-width="0.9"/>
<line x1="683.3" y1="236.0" x2="680.6999999999999" y2="236.0" stroke="#262626" stroke-width="0.9"/>
<text x="421.2" y="239.7" font-size="10.1" fill="#383838" text-anchor="end">1.8</text>
<line x1="423.3" y1="206.8" x2="425.90000000000003" y2="206.8" stroke="#262626" stroke-width="0.9"/>
<line x1="683.3" y1="206.8" x2="680.6999999999999" y2="206.8" stroke="#262626" stroke-width="0.9"/>
<text x="421.2" y="210.5" font-size="10.1" fill="#383838" text-anchor="end">2.0</text>
<line x1="423.3" y1="177.5" x2="425.90000000000003" y2="177.5" stroke="#262626" stroke-width="0.9"/>
<line x1="683.3" y1="177.5" x2="680.6999999999999" y2="177.5" stroke="#262626" stroke-width="0.9"/>
<text x="421.2" y="181.2" font-size="10.1" fill="#383838" text-anchor="end">2.2</text>
<line x1="423.3" y1="148.2" x2="425.90000000000003" y2="148.2" stroke="#262626" stroke-width="0.9"/>
<line x1="683.3" y1="148.2" x2="680.6999999999999" y2="148.2" stroke="#262626" stroke-width="0.9"/>
<text x="421.2" y="151.9" font-size="10.1" fill="#383838" text-anchor="end">2.4</text>
<line x1="423.3" y1="118.9" x2="425.90000000000003" y2="118.9" stroke="#262626" stroke-width="0.9"/>
<line x1="683.3" y1="118.9" x2="680.6999999999999" y2="118.9" stroke="#262626" stroke-width="0.9"/>
<text x="421.2" y="122.6" font-size="10.1" fill="#383838" text-anchor="end">2.6</text>
<line x1="423.3" y1="89.7" x2="425.90000000000003" y2="89.7" stroke="#262626" stroke-width="0.9"/>
<line x1="683.3" y1="89.7" x2="680.6999999999999" y2="89.7" stroke="#262626" stroke-width="0.9"/>
<text x="421.2" y="93.4" font-size="10.1" fill="#383838" text-anchor="end">2.8</text>
<line x1="423.3" y1="60.4" x2="425.90000000000003" y2="60.4" stroke="#262626" stroke-width="0.9"/>
<line x1="683.3" y1="60.4" x2="680.6999999999999" y2="60.4" stroke="#262626" stroke-width="0.9"/>
<text x="421.2" y="64.1" font-size="10.1" fill="#383838" text-anchor="end">3.0</text>
<text x="434.0" y="80.0" font-weight="bold" font-size="15" fill="#000">b</text>
<text transform="translate(403.3,165.6) rotate(-90)" text-anchor="middle" font-size="10.2" fill="#383838">Phylogenetic Distance to Root</text>
<text x="553.2" y="291.6" text-anchor="middle" font-size="10.5" fill="#383838">Spring pH</text>
</g>
<g id="pc">
<rect x="478.8" y="395.5" width="204.49999999999994" height="176.29999999999995" fill="#fff"/>
<line x1="516.5" y1="472.8" x2="516.5" y2="485.9" stroke="#606060" stroke-width="0.9"/>
<line x1="516.5" y1="502.5" x2="516.5" y2="518.4" stroke="#606060" stroke-width="0.9"/>
<rect x="492.3" y="485.9" width="48.6" height="16.6" fill="#d3d3d3" stroke="#666" stroke-width="0.9"/>
<line x1="492.3" y1="495.2" x2="540.9" y2="495.2" stroke="#606060" stroke-width="0.9"/>
<line x1="581.5" y1="453.3" x2="581.5" y2="493.3" stroke="#606060" stroke-width="0.9"/>
<line x1="581.5" y1="522.5" x2="581.5" y2="557.5" stroke="#606060" stroke-width="0.9"/>
<rect x="557.3" y="493.3" width="48.3" height="29.2" fill="#d3d3d3" stroke="#666" stroke-width="0.9"/>
<line x1="557.3" y1="505.2" x2="605.6" y2="505.2" stroke="#606060" stroke-width="0.9"/>
<circle cx="581.5" cy="417.6" r="1.15" fill="#111"/>
<circle cx="581.5" cy="420.2" r="1.15" fill="#111"/>
<circle cx="581.5" cy="427.2" r="1.15" fill="#111"/>
<circle cx="581.5" cy="437.2" r="1.15" fill="#111"/>
<circle cx="581.5" cy="445.1" r="1.15" fill="#111"/>
<circle cx="581.5" cy="446.6" r="1.15" fill="#111"/>
<line x1="645.6" y1="466.2" x2="645.6" y2="491.3" stroke="#606060" stroke-width="0.9"/>
<line x1="645.6" y1="510.3" x2="645.6" y2="537.6" stroke="#606060" stroke-width="0.9"/>
<rect x="621.4" y="491.3" width="49.0" height="19.0" fill="#d3d3d3" stroke="#666" stroke-width="0.9"/>
<line x1="621.4" y1="497.2" x2="670.4" y2="497.2" stroke="#606060" stroke-width="0.9"/>
<circle cx="645.6" cy="409.6" r="1.15" fill="#111"/>
<circle cx="645.6" cy="420.6" r="1.15" fill="#111"/>
<circle cx="645.6" cy="445.2" r="1.15" fill="#111"/>
<circle cx="645.6" cy="459.7" r="1.15" fill="#111"/>
<circle cx="645.6" cy="463.0" r="1.15" fill="#111"/>
<circle cx="645.6" cy="538.4" r="1.15" fill="#111"/>
<circle cx="645.6" cy="540.0" r="1.15" fill="#111"/>
<circle cx="645.6" cy="547.2" r="1.15" fill="#111"/>
<circle cx="645.6" cy="549.0" r="1.15" fill="#111"/>
<circle cx="645.6" cy="552.3" r="1.15" fill="#111"/>
<circle cx="645.6" cy="553.8" r="1.15" fill="#111"/>
<circle cx="645.6" cy="555.2" r="1.15" fill="#111"/>
<circle cx="645.6" cy="563.9" r="1.15" fill="#111"/>
<line x1="579.2" y1="405.5" x2="646.0" y2="405.5" stroke="#f00" stroke-width="1.2"/>
<line x1="515.2" y1="561.0" x2="581.4" y2="561.0" stroke="#f00" stroke-width="1.2"/>
<line x1="515.2" y1="569.2" x2="646.0" y2="569.2" stroke="#f00" stroke-width="1.2"/>
<text x="588.2" y="403.9" font-size="10.4" fill="#555"><tspan font-style="italic">p</tspan> = 7.1e-08</text>
<text x="526.6" y="558.0" font-size="10.4" fill="#555"><tspan font-style="italic">p</tspan> &lt; 2e-16</text>
<text x="586.6" y="566.9" font-size="10.4" fill="#555"><tspan font-style="italic">p</tspan> = 0.002</text>
<path d="M478.8 395.5 H683.3 V571.8 H478.8 Z" fill="none" stroke="#111" stroke-width="1.3"/>
<line x1="475.8" y1="525.0" x2="478.8" y2="525.0" stroke="#111" stroke-width="1"/>
<text x="474.0" y="528.3" font-size="10.5" fill="#5a5a5a" text-anchor="end">2.0</text>
<line x1="475.8" y1="460.3" x2="478.8" y2="460.3" stroke="#111" stroke-width="1"/>
<text x="474.0" y="463.6" font-size="10.5" fill="#5a5a5a" text-anchor="end">2.5</text>
<line x1="475.8" y1="395.6" x2="478.8" y2="395.6" stroke="#111" stroke-width="1"/>
<text x="474.0" y="398.9" font-size="10.5" fill="#5a5a5a" text-anchor="end">3.0</text>
<line x1="581.5" y1="571.8" x2="581.5" y2="573.5999999999999" stroke="#777" stroke-width="0.8"/>
<line x1="646.0" y1="571.8" x2="646.0" y2="573.5999999999999" stroke="#777" stroke-width="0.8"/>
<text x="520.4" y="584.8" text-anchor="middle" font-weight="bold" font-size="10.6" fill="#333">pH &lt; 5</text>
<text x="583.6" y="584.8" text-anchor="middle" font-weight="bold" font-size="10.6" fill="#333">pH 5-7</text>
<text x="651.5" y="584.8" text-anchor="middle" font-weight="bold" font-size="10.6" fill="#333">pH &gt;7</text>
<text x="486.0" y="412.6" font-weight="bold" font-size="14.5" fill="#000">c</text>
<text transform="translate(459.2,473.9) rotate(-90)" text-anchor="middle" font-size="10.2" fill="#333">Phylogenetic Distance to Root</text>
</g>
</svg>
</body></html>
